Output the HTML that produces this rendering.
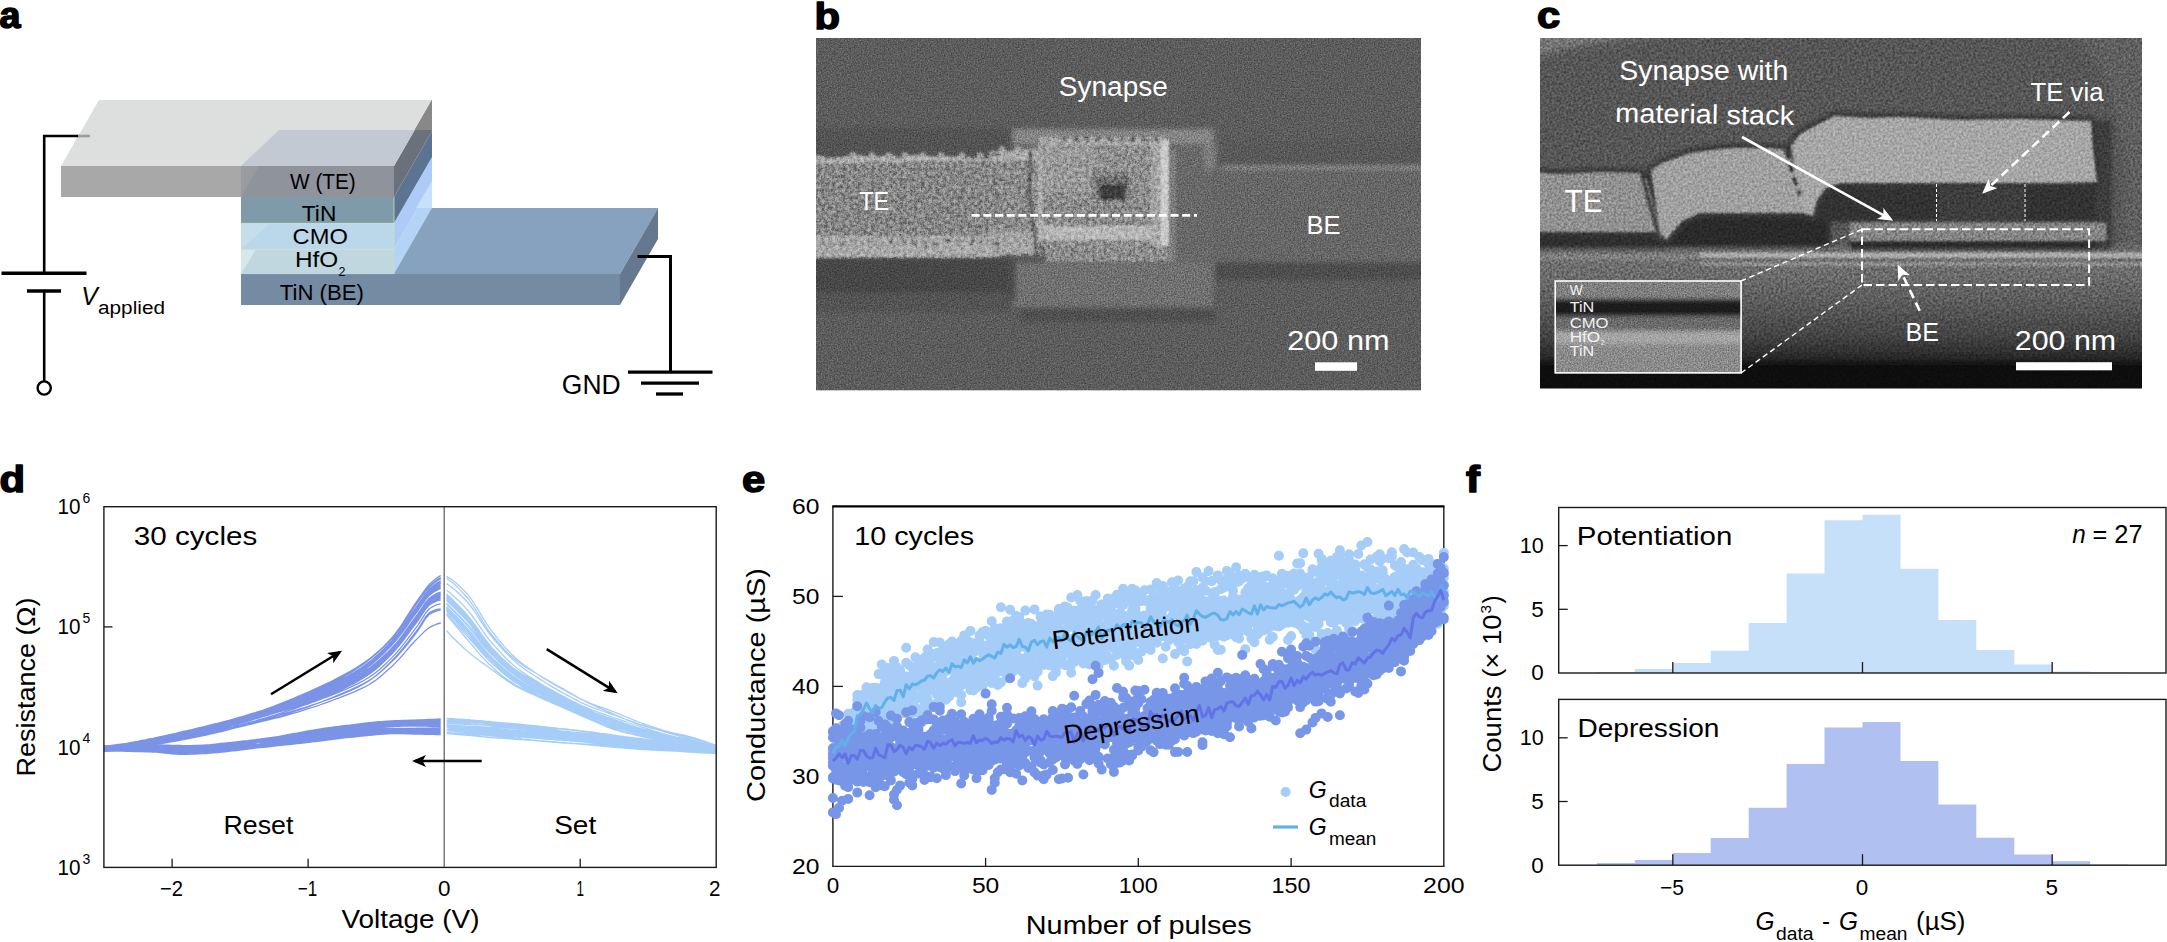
<!DOCTYPE html>
<html lang="en"><head><meta charset="utf-8"><title>Figure</title>
<style>
html,body{margin:0;padding:0;background:#fff;}
body{width:2167px;height:942px;overflow:hidden;}
svg{display:block;font-family:"Liberation Sans", sans-serif;}
</style></head><body>
<svg width="2167" height="942" viewBox="0 0 2167 942">
<defs>
<filter id="blur1" x="-5%" y="-5%" width="110%" height="110%"><feGaussianBlur stdDeviation="1.3"/></filter>
<filter id="blur2" x="-5%" y="-5%" width="110%" height="110%"><feGaussianBlur stdDeviation="2.2"/></filter>
<filter id="blur4" x="-10%" y="-10%" width="120%" height="120%"><feGaussianBlur stdDeviation="4"/></filter>
<filter id="noiseB" x="0" y="0" width="100%" height="100%" color-interpolation-filters="sRGB">
<feTurbulence type="fractalNoise" baseFrequency="0.7" numOctaves="2" seed="4" result="n"/>
<feColorMatrix in="n" type="matrix" values="1.6 0 0 0 -0.3  1.6 0 0 0 -0.3  1.6 0 0 0 -0.3  0 0 0 0 1"/>
</filter>
<filter id="noiseC" x="0" y="0" width="100%" height="100%" color-interpolation-filters="sRGB">
<feTurbulence type="fractalNoise" baseFrequency="0.42" numOctaves="3" seed="9" result="n"/>
<feColorMatrix in="n" type="matrix" values="1.6 0 0 0 -0.3  1.6 0 0 0 -0.3  1.6 0 0 0 -0.3  0 0 0 0 1"/>
</filter>
<filter id="noiseM" x="0" y="0" width="100%" height="100%" color-interpolation-filters="sRGB">
<feTurbulence type="fractalNoise" baseFrequency="0.28" numOctaves="3" seed="17" result="n"/>
<feColorMatrix in="n" type="matrix" values="2.0 0 0 0 -0.44  2.0 0 0 0 -0.44  2.0 0 0 0 -0.44  0 0 0 0 1"/>
</filter>
<clipPath id="clipM"><path d="M816 156H990L992 150H1037V137H1169V262H1045V256H990L988 259H816Z"/></clipPath>
<clipPath id="clipB"><rect x="816" y="38" width="605" height="352.5"/></clipPath>
<clipPath id="clipC"><rect x="1540" y="38" width="602" height="350.5"/></clipPath>
<clipPath id="clipIn"><rect x="1555.5" y="281" width="185.5" height="92"/></clipPath>
<marker id="ahK" viewBox="0 0 14 12" refX="11" refY="6" markerWidth="14" markerHeight="12" markerUnits="userSpaceOnUse" orient="auto"><path d="M0 0L14 6L0 12L3.5 6Z" fill="#000"/></marker>
<marker id="ahW" viewBox="0 0 14 12" refX="11" refY="6" markerWidth="15" markerHeight="13" markerUnits="userSpaceOnUse" orient="auto"><path d="M0 0L14 6L0 12L3.5 6Z" fill="#fff"/></marker>
</defs>
<g id="panel-a">
<text transform="translate(-0.5 28.3) scale(1.02 1)" font-size="37" font-weight="bold" stroke="#000" stroke-width="1.5" stroke-linejoin="round">a</text>
<polygon points="420.0,208.0 658.0,208.0 620.0,274.0 382.0,274.0" fill="#87a2be"/>
<rect x="241.0" y="274.0" width="379.0" height="31.0" fill="#758ba4"/>
<polygon points="658.0,208.0 658.0,239.0 620.0,305.0 620.0,274.0" fill="#65788f"/>
<polygon points="394.0,249.0 432.0,183.0 432.0,208.0 394.0,274.0" fill="#b3d3f7"/>
<polygon points="394.0,223.0 432.0,157.0 432.0,183.0 394.0,249.0" fill="#aecbf7"/>
<polygon points="416.0,208.0 432.0,181.0 432.0,208.0" fill="#c6e1fc"/>
<polygon points="394.0,197.0 432.0,131.0 432.0,157.0 394.0,223.0" fill="#5c7391"/>
<rect x="241.0" y="197.0" width="153.0" height="26.3" fill="#7f9aa9"/>
<rect x="241.0" y="223.3" width="153.0" height="25.9" fill="#bbd8ea"/>
<rect x="241.0" y="249.2" width="153.0" height="24.9" fill="#c1d7df"/>
<polygon points="241.0,249.2 256.0,249.2 241.0,274.1" fill="#d6e8ea"/>
<polygon points="241.0,223.3 270.0,223.3 241.0,249.2" fill="#c4deec"/>
<line x1="394.0" y1="197.0" x2="394.0" y2="274.0" stroke="#c9e2b8" stroke-width="0.8"/>
<line x1="241.0" y1="223.3" x2="394.0" y2="223.3" stroke="#c5dcc6" stroke-width="0.7"/>
<line x1="241.0" y1="249.2" x2="394.0" y2="249.2" stroke="#c9dfd6" stroke-width="0.7"/>
<polygon points="99.0,100.0 432.0,100.0 394.0,166.0 61.0,166.0" fill="#dddfde"/>
<rect x="61.0" y="166.0" width="333.0" height="31.0" fill="#a8a8a8"/>
<polygon points="432.0,100.0 432.0,131.0 394.0,197.0 394.0,166.0" fill="#6b717b"/>
<polygon points="432.0,100.0 432.0,130.0 414.7,130.0" fill="#888888"/>
<polygon points="279.0,130.0 414.7,130.0 394.0,166.0 241.0,166.0" fill="#c3c9d2"/>
<rect x="241.0" y="166.0" width="153.0" height="31.3" fill="#8f939c"/>
<polygon points="241.0,197.3 259.0,166.0 241.0,166.0" fill="#9a9ba0"/>
<path d="M79 136H44.2V273" fill="none" stroke="#000" stroke-width="2.6"/>
<line x1="78.0" y1="136.0" x2="90.0" y2="136.0" stroke="#9d9d9d" stroke-width="2.6"/>
<line x1="1.5" y1="273.3" x2="86.5" y2="273.3" stroke="#000" stroke-width="3.4"/>
<line x1="27.0" y1="291.0" x2="61.0" y2="291.0" stroke="#000" stroke-width="3.4"/>
<line x1="44.2" y1="291.0" x2="44.2" y2="381.5" stroke="#000" stroke-width="2.6"/>
<circle cx="44.2" cy="388" r="6.6" fill="#fff" stroke="#000" stroke-width="2.4"/>
<path d="M637.5 256.5H670.5V372" fill="none" stroke="#000" stroke-width="3"/>
<line x1="628.0" y1="372.1" x2="712.5" y2="372.1" stroke="#000" stroke-width="3.3"/>
<line x1="641.0" y1="383.2" x2="699.0" y2="383.2" stroke="#000" stroke-width="3.3"/>
<line x1="656.0" y1="394.0" x2="683.0" y2="394.0" stroke="#000" stroke-width="3.3"/>
<text x="290.0" y="189.4" font-size="22" textLength="65.8" lengthAdjust="spacingAndGlyphs">W (TE)</text>
<text x="301.8" y="220.8" font-size="22" textLength="34.5" lengthAdjust="spacingAndGlyphs">TiN</text>
<text x="292.6" y="244.0" font-size="22" textLength="55.3" lengthAdjust="spacingAndGlyphs">CMO</text>
<text x="295.0" y="266.5" font-size="22" textLength="43.3" lengthAdjust="spacingAndGlyphs">HfO</text>
<text x="338.4" y="275.5" font-size="12.5" textLength="6.9" lengthAdjust="spacingAndGlyphs">2</text>
<text x="279.8" y="300.4" font-size="22" textLength="84.0" lengthAdjust="spacingAndGlyphs">TiN (BE)</text>
<text x="561.8" y="394.2" font-size="27" textLength="58.8" lengthAdjust="spacingAndGlyphs">GND</text>
<text x="81.2" y="305.2" font-size="26" textLength="16.5" lengthAdjust="spacingAndGlyphs" font-style="italic">V</text>
<text x="98.0" y="314.2" font-size="18" textLength="67.0" lengthAdjust="spacingAndGlyphs">applied</text>
</g>
<g id="panel-b">
<text transform="translate(814.5 28.5) scale(1.13 1)" font-size="37" font-weight="bold" stroke="#000" stroke-width="1.5" stroke-linejoin="round">b</text>
<g clip-path="url(#clipB)">
<rect x="816.0" y="38.0" width="605.0" height="352.5" fill="#5c5c5c"/>
<g filter="url(#blur2)">
<rect x="800.0" y="128.0" width="212.0" height="32.0" fill="#525252"/>
<rect x="800.0" y="258.0" width="240.0" height="34.0" fill="#474747"/>
<rect x="800.0" y="292.0" width="212.0" height="20.0" fill="#525252"/>
<rect x="1215.0" y="262.0" width="225.0" height="18.0" fill="#4e4e4e"/>
<rect x="1225.0" y="140.0" width="215.0" height="26.0" fill="#585858"/>
<rect x="1020.0" y="308.0" width="195.0" height="14.0" fill="#505050"/>
<rect x="1011.0" y="129.0" width="204.0" height="179.0" fill="#676767"/>
<rect x="1008.0" y="258.0" width="40.0" height="42.0" fill="#4e4e4e"/>
<rect x="1013.0" y="129.0" width="200.0" height="15.0" fill="#858585"/>
<rect x="1016.0" y="262.0" width="196.0" height="44.0" fill="#707070"/>
<rect x="1213.0" y="167.0" width="227.0" height="95.0" fill="#666666"/>
<rect x="1222.0" y="166.0" width="218.0" height="3.0" fill="#8e8e8e"/>
<rect x="1204.0" y="144.0" width="12.0" height="26.0" fill="#7c7c7c"/>
</g>
<g filter="url(#blur1)">
<rect x="800.0" y="158.0" width="192.0" height="100.0" fill="#818181"/>
<rect x="988.0" y="151.0" width="52.0" height="104.0" fill="#868686"/>
<path d="M800 160L806 154.4L818 155.2L830 158.0L842 156.9L854 154.5L866 156.2L878 156.4L890 154.8L902 157.7L914 154.6L926 156.0L938 156.6L950 156.2L962 156.9L974 157.7L986 158.8L998 155.4L1000 152L1036 148L1036 160L800 164Z" fill="#a6a6a6"/>
<circle cx="853" cy="155.5" r="3.3" fill="#a2a2a2"/>
<circle cx="872" cy="155.5" r="3.3" fill="#a2a2a2"/>
<circle cx="889" cy="155.5" r="3.3" fill="#a2a2a2"/>
<circle cx="905" cy="155.5" r="3.3" fill="#a2a2a2"/>
<circle cx="923" cy="155.5" r="3.3" fill="#a2a2a2"/>
<circle cx="941" cy="155.5" r="3.3" fill="#a2a2a2"/>
<circle cx="962" cy="155.5" r="3.3" fill="#a2a2a2"/>
<circle cx="980" cy="155.5" r="3.3" fill="#a2a2a2"/>
<circle cx="1002" cy="149.5" r="3.3" fill="#a2a2a2"/>
<circle cx="1018" cy="149.5" r="3.3" fill="#a2a2a2"/>
<rect x="800.0" y="236.0" width="200.0" height="21.0" fill="#a4a4a4"/>
<rect x="990.0" y="232.0" width="46.0" height="22.0" fill="#a0a0a0"/>
<circle cx="823" cy="243" r="2.4" fill="#7e7e7e"/>
<circle cx="831" cy="245" r="2.4" fill="#7e7e7e"/>
<circle cx="844" cy="244" r="2.9" fill="#7e7e7e"/>
<circle cx="856" cy="244" r="2.0" fill="#7e7e7e"/>
<circle cx="869" cy="242" r="2.1" fill="#7e7e7e"/>
<circle cx="880" cy="245" r="2.3" fill="#7e7e7e"/>
<circle cx="892" cy="241" r="3.1" fill="#7e7e7e"/>
<circle cx="904" cy="241" r="3.2" fill="#7e7e7e"/>
<circle cx="915" cy="243" r="3.2" fill="#7e7e7e"/>
<circle cx="925" cy="244" r="3.3" fill="#7e7e7e"/>
<circle cx="935" cy="244" r="2.6" fill="#7e7e7e"/>
<circle cx="948" cy="241" r="3.0" fill="#7e7e7e"/>
<circle cx="959" cy="244" r="2.4" fill="#7e7e7e"/>
<circle cx="972" cy="242" r="2.9" fill="#7e7e7e"/>
<circle cx="981" cy="241" r="3.1" fill="#7e7e7e"/>
<circle cx="996" cy="243" r="3.4" fill="#7e7e7e"/>
<path d="M1031 150L1029 190L1034 232L1037 258" fill="none" stroke="#555" stroke-width="3"/>
<path d="M994 175L996 215" fill="none" stroke="#747474" stroke-width="3"/>
<rect x="1037.0" y="137.0" width="132.0" height="110.0" fill="#8a8a8a"/>
<rect x="1045.0" y="247.0" width="130.0" height="15.0" fill="#868686"/>
<rect x="1040.0" y="140.0" width="55.0" height="50.0" fill="#959595"/>
<rect x="1044.0" y="200.0" width="116.0" height="24.0" fill="#868686"/>
<rect x="1040.0" y="226.0" width="126.0" height="14.0" fill="#b4b4b4"/>
<rect x="1040.0" y="137.0" width="126.0" height="8.0" fill="#a2a2a2"/>
<rect x="1161.0" y="141.0" width="8.0" height="105.0" fill="#c9c9c9"/>
<rect x="1152.0" y="141.0" width="9.0" height="105.0" fill="#a4a4a4"/>
<rect x="1037.0" y="150.0" width="6.0" height="90.0" fill="#a5a5a5"/>
<circle cx="1064" cy="139" r="3" fill="#6d6d6d"/>
<circle cx="1076" cy="139" r="3" fill="#6d6d6d"/>
<circle cx="1087" cy="139" r="3" fill="#6d6d6d"/>
<circle cx="1098" cy="139" r="3" fill="#6d6d6d"/>
<circle cx="1110" cy="139" r="3" fill="#6d6d6d"/>
<circle cx="1122" cy="139" r="3" fill="#6d6d6d"/>
<circle cx="1133" cy="139" r="3" fill="#6d6d6d"/>
<circle cx="1144" cy="139" r="3" fill="#6d6d6d"/>
<circle cx="1156" cy="139" r="3" fill="#6d6d6d"/>
<rect x="1090.0" y="172.0" width="46.0" height="36.0" fill="#828282"/>
<path d="M1095 176L1129 176L1126 200L1099 200Z" fill="#666"/>
<rect x="1100.0" y="185.0" width="25.0" height="15.0" fill="#3a3a3a"/>
<rect x="1170.0" y="150.0" width="6.0" height="112.0" fill="#7e7e7e"/>
</g>
<rect x="816" y="130" width="360" height="135" clip-path="url(#clipM)" filter="url(#noiseM)" style="mix-blend-mode:overlay" opacity="0.27"/>
<rect x="816" y="38" width="605" height="353" filter="url(#noiseB)" style="mix-blend-mode:overlay" opacity="0.3"/>
</g>
<line x1="971.6" y1="215.3" x2="1197.0" y2="215.3" stroke="#fff" stroke-width="2.7" stroke-dasharray="8 3.7"/>
<rect x="1315.0" y="362.3" width="42.0" height="8.5" fill="#fff"/>
<text x="1058.8" y="95.6" font-size="27" textLength="109.0" lengthAdjust="spacingAndGlyphs" fill="#fff">Synapse</text>
<text x="859.2" y="209.6" font-size="26" textLength="30.0" lengthAdjust="spacingAndGlyphs" fill="#fff">TE</text>
<text x="1306.5" y="234.4" font-size="26" textLength="34.0" lengthAdjust="spacingAndGlyphs" fill="#fff">BE</text>
<text x="1287.2" y="349.9" font-size="27" textLength="102.3" lengthAdjust="spacingAndGlyphs" fill="#fff">200 nm</text>
</g>
<g id="panel-c">
<text transform="translate(1537 28.2) scale(1.13 1)" font-size="37" font-weight="bold" stroke="#000" stroke-width="1.5" stroke-linejoin="round">c</text>
<linearGradient id="gcBot" x1="0" y1="0" x2="0" y2="1">
<stop offset="0" stop-color="#727272"/><stop offset="0.25" stop-color="#606060"/>
<stop offset="0.55" stop-color="#444444"/><stop offset="0.72" stop-color="#282828"/>
<stop offset="0.785" stop-color="#0e0e0e"/><stop offset="1" stop-color="#090909"/></linearGradient>
<g clip-path="url(#clipC)">
<rect x="1540.0" y="38.0" width="602.0" height="350.5" fill="#565656"/>
<g filter="url(#blur4)">
<path d="M1530 30H1700C1640 38 1580 42 1530 58Z" fill="#777777"/>
<path d="M2150 30V260H2118C2128 200 2135 120 2085 45L2060 30Z" fill="#5e5e5e"/>
</g>
<g filter="url(#blur2)">
<rect x="1530.0" y="262.0" width="620.0" height="133.0" fill="url(#gcBot)"/>
<rect x="1530.0" y="246.0" width="620.0" height="32.0" fill="#6c6c6c"/>
<rect x="1530.0" y="255.0" width="160.0" height="7.0" fill="#777777"/>
<rect x="1530.0" y="231.0" width="138.0" height="18.0" fill="#2e2e2e"/>
<path d="M1662 246L1680 224L1700 214H1830V248H1662Z" fill="#2c2c2c"/>
<path d="M1813 222C1806 205 1815 190 1834 184H2100V222Z" fill="#303030"/>
<rect x="1937.0" y="186.0" width="88.0" height="35.0" fill="#3d3d3d"/>
<rect x="1850.0" y="240.0" width="258.0" height="10.0" fill="#2c2c2c"/>
<rect x="2096.0" y="120.0" width="16.0" height="130.0" fill="#3e3e3e"/>
<path d="M1530 172L1560 174L1600 172L1640 173L1647 180L1662 238L1655 232H1530Z" fill="none" stroke="#383838" stroke-width="9" stroke-linejoin="round"/>
<path d="M1651 170L1662 163L1690 153L1730 148L1770 148L1788 150L1796 175L1803 213L1700 213L1682 221L1666 240L1660 232Z" fill="none" stroke="#383838" stroke-width="9" stroke-linejoin="round"/>
<path d="M1791 146L1800 134L1834 116L1870 118L1900 117L1960 120L2020 119L2091 121L2093 150L2097 182L2060 183H1840L1826 188L1817 200L1813 216L1803 213L1797 185Z" fill="none" stroke="#383838" stroke-width="9" stroke-linejoin="round"/>
</g>
<g filter="url(#blur1)">
<path d="M1530 172L1560 174L1600 172L1640 173L1647 180L1662 238L1655 232H1530Z" fill="#909090"/>
<path d="M1651 170L1662 163L1690 153L1730 148L1770 148L1788 150L1796 175L1803 213L1700 213L1682 221L1666 240L1660 232Z" fill="#a0a0a0"/>
<path d="M1791 146L1800 134L1834 116L1870 118L1900 117L1960 120L2020 119L2091 121L2093 150L2097 182L2060 183H1840L1826 188L1817 200L1813 216L1803 213L1797 185Z" fill="#a6a6a6"/>
<path d="M1642 174L1650 205L1659 236" fill="none" stroke="#3c3c3c" stroke-width="4"/>
<path d="M1786 150L1793 175L1800 195" fill="none" stroke="#2c2c2c" stroke-width="4" stroke-dasharray="9 5"/>
<rect x="1700.0" y="252.5" width="450.0" height="5.5" fill="#acacac"/>
<rect x="1530.0" y="254.0" width="170.0" height="5.0" fill="#808080"/>
<rect x="1700.0" y="262.0" width="450.0" height="4.0" fill="#8e8e8e"/>
<rect x="1850.0" y="222.5" width="256.5" height="18.5" fill="#848484"/>
</g>
<rect x="1540" y="38" width="602" height="351" filter="url(#noiseC)" style="mix-blend-mode:overlay" opacity="0.3"/>
<g clip-path="url(#clipIn)"><g filter="url(#blur2)">
<rect x="1550.0" y="275.0" width="195.0" height="24.0" fill="#7f7f7f"/>
<rect x="1550.0" y="299.0" width="195.0" height="17.0" fill="#1e1e1e"/>
<rect x="1550.0" y="316.0" width="195.0" height="15.0" fill="#6a6a6a"/>
<rect x="1550.0" y="331.0" width="195.0" height="13.0" fill="#a4a4a4"/>
<rect x="1550.0" y="344.0" width="195.0" height="36.0" fill="#8a8a8a"/>
</g><rect x="1555" y="281" width="186" height="92" filter="url(#noiseB)" style="mix-blend-mode:overlay" opacity="0.3"/></g>
</g>
<rect x="1555.2" y="281" width="185.9" height="91.9" fill="none" stroke="#fff" stroke-width="1.6"/>
<line x1="1741.0" y1="281.0" x2="1862.0" y2="229.3" stroke="#fff" stroke-width="1.4" stroke-dasharray="5.5 3.5"/>
<line x1="1741.0" y1="373.0" x2="1862.0" y2="285.0" stroke="#fff" stroke-width="1.4" stroke-dasharray="5.5 3.5"/>
<rect x="1862" y="229.2" width="227.1" height="55.8" fill="none" stroke="#fff" stroke-width="2" stroke-dasharray="8.5 4"/>
<line x1="1936.5" y1="184.0" x2="1936.5" y2="221.0" stroke="#fff" stroke-width="1" stroke-dasharray="3 2"/>
<line x1="2025.0" y1="184.0" x2="2025.0" y2="221.0" stroke="#fff" stroke-width="1" stroke-dasharray="3 2"/>
<line x1="1742.0" y1="137.0" x2="1890.5" y2="219.2" stroke="#fff" stroke-width="2.6" marker-end="url(#ahW)"/>
<line x1="2069.5" y1="112.0" x2="1984.5" y2="191.5" stroke="#fff" stroke-width="2.6" stroke-dasharray="9 5" marker-end="url(#ahW)"/>
<line x1="1919.7" y1="310.8" x2="1899.0" y2="267.5" stroke="#fff" stroke-width="2.6" stroke-dasharray="9 5" marker-end="url(#ahW)"/>
<rect x="2016.0" y="362.2" width="96.0" height="8.1" fill="#fff"/>
<text x="1619.3" y="80.4" font-size="27" textLength="169.0" lengthAdjust="spacingAndGlyphs" fill="#fff">Synapse with</text>
<text x="1615.0" y="122.0" font-size="27" textLength="179.0" lengthAdjust="spacingAndGlyphs" fill="#fff" transform="rotate(1 1617 122)">material stack</text>
<text x="2030.5" y="100.8" font-size="26" textLength="73.0" lengthAdjust="spacingAndGlyphs" fill="#fff">TE via</text>
<text x="1564.6" y="211.7" font-size="32" textLength="38.0" lengthAdjust="spacingAndGlyphs" fill="#fff">TE</text>
<text x="1905.5" y="340.7" font-size="26" textLength="33.5" lengthAdjust="spacingAndGlyphs" fill="#fff">BE</text>
<text x="2014.8" y="349.5" font-size="27" textLength="101.3" lengthAdjust="spacingAndGlyphs" fill="#fff">200 nm</text>
<text x="1569.7" y="295.0" font-size="14.5" textLength="13.0" lengthAdjust="spacingAndGlyphs" fill="#f2f2f2">W</text>
<text x="1569.7" y="312.4" font-size="14.5" textLength="24.5" lengthAdjust="spacingAndGlyphs" fill="#f2f2f2">TiN</text>
<text x="1569.7" y="327.6" font-size="14.5" textLength="38.9" lengthAdjust="spacingAndGlyphs" fill="#f2f2f2">CMO</text>
<text x="1569.7" y="342.0" font-size="14.5" textLength="30.5" lengthAdjust="spacingAndGlyphs" fill="#f2f2f2">HfO</text>
<text x="1569.7" y="355.6" font-size="14.5" textLength="24.5" lengthAdjust="spacingAndGlyphs" fill="#f2f2f2">TiN</text>
<text x="1601.0" y="345.0" font-size="7" textLength="3.5" lengthAdjust="spacingAndGlyphs" fill="#f2f2f2">2</text>
</g>
<g id="panel-d">
<text transform="translate(-0.5 492.4) scale(1.13 1)" font-size="37" font-weight="bold" stroke="#000" stroke-width="1.5" stroke-linejoin="round">d</text>
<path d="M103.9 750.8L107.7 750.8L111.5 750.9L115.3 750.9L119.0 751.0L122.8 751.1L126.6 751.2L130.4 751.3L134.2 751.4L138.0 751.5L141.7 751.6L145.5 751.7L149.3 751.7L153.1 751.9L156.9 752.1L160.7 752.5L164.4 752.9L168.2 753.3L172.0 753.7L175.8 754.0L179.6 754.2L183.4 754.3L187.2 754.3L190.9 754.1L194.7 753.9L198.5 753.7L202.3 753.3L206.1 753.0L209.9 752.6L213.6 752.2L217.4 751.8L221.2 751.4L225.0 751.0L228.8 750.5L232.6 750.1L236.3 749.7L240.1 749.4L243.9 749.0L247.7 748.7L251.5 748.4L255.3 748.0L259.1 747.6L262.8 747.3L266.6 746.9L270.4 746.5L274.2 746.0L278.0 745.6L281.8 745.2L285.5 744.8L289.3 744.4L293.1 744.0L296.9 743.6L300.7 743.2L304.5 742.7L308.3 742.3L312.0 741.8L315.8 741.4L319.6 740.9L323.4 740.4L327.2 739.9L331.0 739.4L334.7 738.9L338.5 738.5L342.3 738.0L346.1 737.5L349.9 737.1L353.7 736.6L357.4 736.1L361.2 735.6L365.0 735.2L368.8 734.7L372.6 734.3L376.4 734.0L380.2 733.7L383.9 733.5L387.7 733.4L391.5 733.4L395.3 733.4L399.1 733.5L402.9 733.6L406.6 733.7L410.4 733.8L414.2 733.9L418.0 734.0L421.8 734.1L425.6 734.2L429.3 734.3L433.1 734.3L436.9 734.4L440.7 734.4M103.9 746.8L107.7 746.6L111.5 746.5L115.3 746.3L119.0 746.2L122.8 746.0L126.6 745.9L130.4 745.7L134.2 745.6L138.0 745.4L141.7 745.3L145.5 745.2L149.3 745.1L153.1 745.0L156.9 745.0L160.7 745.1L164.4 745.2L168.2 745.3L172.0 745.4L175.8 745.5L179.6 745.6L183.4 745.7L187.2 745.7L190.9 745.7L194.7 745.6L198.5 745.5L202.3 745.3L206.1 745.1L209.9 744.9L213.6 744.7L217.4 744.4L221.2 744.1L225.0 743.7L228.8 743.4L232.6 743.0L236.3 742.6L240.1 742.2L243.9 741.9L247.7 741.5L251.5 741.0L255.3 740.5L259.1 740.0L262.8 739.4L266.6 738.7L270.4 738.1L274.2 737.4L278.0 736.7L281.8 736.0L285.5 735.3L289.3 734.5L293.1 733.8L296.9 733.2L300.7 732.5L304.5 731.8L308.3 731.1L312.0 730.5L315.8 729.8L319.6 729.2L323.4 728.6L327.2 728.0L331.0 727.5L334.7 726.9L338.5 726.5L342.3 726.0L346.1 725.6L349.9 725.2L353.7 724.8L357.4 724.4L361.2 724.0L365.0 723.6L368.8 723.3L372.6 722.9L376.4 722.6L380.2 722.3L383.9 722.0L387.7 721.8L391.5 721.6L395.3 721.4L399.1 721.2L402.9 721.0L406.6 720.8L410.4 720.6L414.2 720.3L418.0 720.1L421.8 719.9L425.6 719.7L429.3 719.5L433.1 719.4L436.9 719.2L440.7 719.1M103.9 746.8L107.7 746.7L111.5 746.5L115.3 746.5L119.0 746.4L122.8 746.4L126.6 746.4L130.4 746.4L134.2 746.5L138.0 746.6L141.7 746.6L145.5 746.7L149.3 746.8L153.1 746.9L156.9 747.1L160.7 747.3L164.4 747.6L168.2 747.8L172.0 748.0L175.8 748.2L179.6 748.3L183.4 748.4L187.2 748.3L190.9 748.2L194.7 748.0L198.5 747.7L202.3 747.4L206.1 747.0L209.9 746.6L213.6 746.2L217.4 745.7L221.2 745.2L225.0 744.7L228.8 744.2L232.6 743.7L236.3 743.3L240.1 742.8L243.9 742.4L247.7 742.0L251.5 741.6L255.3 741.1L259.1 740.7L262.8 740.2L266.6 739.7L270.4 739.2L274.2 738.7L278.0 738.2L281.8 737.7L285.5 737.2L289.3 736.7L293.1 736.2L296.9 735.8L300.7 735.3L304.5 734.8L308.3 734.2L312.0 733.7L315.8 733.1L319.6 732.5L323.4 731.9L327.2 731.4L331.0 730.8L334.7 730.2L338.5 729.6L342.3 729.0L346.1 728.5L349.9 727.9L353.7 727.3L357.4 726.8L361.2 726.2L365.0 725.7L368.8 725.2L372.6 724.7L376.4 724.2L380.2 723.8L383.9 723.5L387.7 723.2L391.5 723.0L395.3 722.9L399.1 722.8L402.9 722.7L406.6 722.6L410.4 722.6L414.2 722.5L418.0 722.5L421.8 722.5L425.6 722.5L429.3 722.5L433.1 722.6L436.9 722.6L440.7 722.7M103.9 747.0L107.7 746.9L111.5 746.8L115.3 746.6L119.0 746.5L122.8 746.3L126.6 746.1L130.4 746.0L134.2 745.8L138.0 745.7L141.7 745.6L145.5 745.5L149.3 745.3L153.1 745.3L156.9 745.3L160.7 745.4L164.4 745.5L168.2 745.6L172.0 745.8L175.8 745.9L179.6 746.0L183.4 746.1L187.2 746.1L190.9 746.1L194.7 746.0L198.5 745.9L202.3 745.8L206.1 745.6L209.9 745.4L213.6 745.1L217.4 744.8L221.2 744.5L225.0 744.2L228.8 743.8L232.6 743.5L236.3 743.1L240.1 742.7L243.9 742.3L247.7 741.9L251.5 741.5L255.3 741.0L259.1 740.4L262.8 739.8L266.6 739.2L270.4 738.5L274.2 737.8L278.0 737.1L281.8 736.4L285.5 735.7L289.3 735.0L293.1 734.3L296.9 733.6L300.7 733.0L304.5 732.3L308.3 731.6L312.0 731.0L315.8 730.4L319.6 729.7L323.4 729.2L327.2 728.6L331.0 728.1L334.7 727.6L338.5 727.1L342.3 726.6L346.1 726.2L349.9 725.9L353.7 725.5L357.4 725.1L361.2 724.7L365.0 724.3L368.8 724.0L372.6 723.6L376.4 723.3L380.2 723.0L383.9 722.7L387.7 722.5L391.5 722.3L395.3 722.1L399.1 721.9L402.9 721.7L406.6 721.5L410.4 721.3L414.2 721.1L418.0 720.8L421.8 720.6L425.6 720.4L429.3 720.2L433.1 720.1L436.9 719.9L440.7 719.8M103.9 747.9L107.7 747.7L111.5 747.5L115.3 747.3L119.0 747.1L122.8 746.9L126.6 746.8L130.4 746.6L134.2 746.5L138.0 746.4L141.7 746.3L145.5 746.2L149.3 746.2L153.1 746.2L156.9 746.4L160.7 746.6L164.4 746.8L168.2 747.1L172.0 747.4L175.8 747.7L179.6 747.9L183.4 748.1L187.2 748.2L190.9 748.2L194.7 748.2L198.5 748.1L202.3 748.0L206.1 747.8L209.9 747.6L213.6 747.3L217.4 747.0L221.2 746.6L225.0 746.2L228.8 745.8L232.6 745.3L236.3 744.9L240.1 744.4L243.9 743.9L247.7 743.5L251.5 742.9L255.3 742.4L259.1 741.8L262.8 741.1L266.6 740.5L270.4 739.8L274.2 739.1L278.0 738.4L281.8 737.8L285.5 737.1L289.3 736.5L293.1 735.9L296.9 735.3L300.7 734.8L304.5 734.2L308.3 733.7L312.0 733.1L315.8 732.6L319.6 732.2L323.4 731.7L327.2 731.2L331.0 730.8L334.7 730.4L338.5 730.0L342.3 729.6L346.1 729.3L349.9 728.9L353.7 728.5L357.4 728.1L361.2 727.7L365.0 727.3L368.8 726.9L372.6 726.5L376.4 726.1L380.2 725.7L383.9 725.4L387.7 725.1L391.5 724.8L395.3 724.6L399.1 724.3L402.9 724.1L406.6 723.9L410.4 723.6L414.2 723.4L418.0 723.2L421.8 723.0L425.6 722.9L429.3 722.8L433.1 722.6L436.9 722.6L440.7 722.5M103.9 749.5L107.7 749.5L111.5 749.5L115.3 749.6L119.0 749.6L122.8 749.7L126.6 749.8L130.4 749.8L134.2 749.9L138.0 749.9L141.7 749.9L145.5 750.0L149.3 750.0L153.1 750.1L156.9 750.3L160.7 750.5L164.4 750.8L168.2 751.1L172.0 751.3L175.8 751.6L179.6 751.7L183.4 751.8L187.2 751.7L190.9 751.5L194.7 751.3L198.5 751.0L202.3 750.7L206.1 750.4L209.9 750.1L213.6 749.7L217.4 749.3L221.2 748.9L225.0 748.5L228.8 748.1L232.6 747.7L236.3 747.4L240.1 747.0L243.9 746.7L247.7 746.4L251.5 746.1L255.3 745.7L259.1 745.3L262.8 744.9L266.6 744.5L270.4 744.1L274.2 743.6L278.0 743.1L281.8 742.7L285.5 742.2L289.3 741.7L293.1 741.2L296.9 740.7L300.7 740.2L304.5 739.7L308.3 739.2L312.0 738.6L315.8 738.1L319.6 737.5L323.4 736.9L327.2 736.4L331.0 735.8L334.7 735.3L338.5 734.7L342.3 734.2L346.1 733.8L349.9 733.3L353.7 732.8L357.4 732.3L361.2 731.8L365.0 731.4L368.8 731.0L372.6 730.6L376.4 730.3L380.2 730.1L383.9 729.9L387.7 729.7L391.5 729.7L395.3 729.7L399.1 729.8L402.9 729.8L406.6 729.8L410.4 729.9L414.2 729.9L418.0 730.0L421.8 730.0L425.6 730.0L429.3 730.1L433.1 730.1L436.9 730.1L440.7 730.1M103.9 746.3L107.7 746.2L111.5 746.1L115.3 746.1L119.0 746.0L122.8 746.0L126.6 746.0L130.4 746.0L134.2 746.0L138.0 746.0L141.7 746.0L145.5 746.0L149.3 746.0L153.1 746.0L156.9 746.1L160.7 746.1L164.4 746.2L168.2 746.3L172.0 746.4L175.8 746.5L179.6 746.5L183.4 746.5L187.2 746.4L190.9 746.2L194.7 746.0L198.5 745.8L202.3 745.5L206.1 745.1L209.9 744.8L213.6 744.4L217.4 744.0L221.2 743.6L225.0 743.2L228.8 742.8L232.6 742.4L236.3 742.0L240.1 741.6L243.9 741.3L247.7 740.9L251.5 740.6L255.3 740.2L259.1 739.7L262.8 739.3L266.6 738.8L270.4 738.3L274.2 737.7L278.0 737.2L281.8 736.6L285.5 736.0L289.3 735.4L293.1 734.8L296.9 734.2L300.7 733.6L304.5 733.0L308.3 732.3L312.0 731.6L315.8 731.0L319.6 730.3L323.4 729.6L327.2 728.9L331.0 728.3L334.7 727.6L338.5 727.0L342.3 726.4L346.1 725.9L349.9 725.3L353.7 724.8L357.4 724.3L361.2 723.8L365.0 723.3L368.8 722.8L372.6 722.4L376.4 722.1L380.2 721.8L383.9 721.5L387.7 721.3L391.5 721.1L395.3 721.0L399.1 721.0L402.9 720.9L406.6 720.8L410.4 720.7L414.2 720.7L418.0 720.6L421.8 720.5L425.6 720.5L429.3 720.4L433.1 720.4L436.9 720.3L440.7 720.3M103.9 750.4L107.7 750.4L111.5 750.5L115.3 750.5L119.0 750.6L122.8 750.7L126.6 750.7L130.4 750.8L134.2 750.8L138.0 750.8L141.7 750.8L145.5 750.8L149.3 750.7L153.1 750.8L156.9 750.9L160.7 751.2L164.4 751.5L168.2 751.8L172.0 752.0L175.8 752.3L179.6 752.4L183.4 752.5L187.2 752.4L190.9 752.3L194.7 752.1L198.5 751.9L202.3 751.6L206.1 751.3L209.9 751.0L213.6 750.7L217.4 750.3L221.2 750.0L225.0 749.6L228.8 749.3L232.6 749.0L236.3 748.6L240.1 748.3L243.9 748.0L247.7 747.8L251.5 747.4L255.3 747.1L259.1 746.7L262.8 746.3L266.6 745.9L270.4 745.4L274.2 745.0L278.0 744.5L281.8 744.0L285.5 743.5L289.3 742.9L293.1 742.4L296.9 741.9L300.7 741.4L304.5 740.9L308.3 740.3L312.0 739.7L315.8 739.2L319.6 738.6L323.4 738.1L327.2 737.5L331.0 737.0L334.7 736.5L338.5 736.0L342.3 735.6L346.1 735.1L349.9 734.7L353.7 734.3L357.4 733.8L361.2 733.4L365.0 733.0L368.8 732.7L372.6 732.4L376.4 732.1L380.2 731.9L383.9 731.8L387.7 731.7L391.5 731.7L395.3 731.7L399.1 731.8L402.9 731.9L406.6 731.9L410.4 732.0L414.2 732.0L418.0 732.0L421.8 732.1L425.6 732.1L429.3 732.1L433.1 732.0L436.9 732.0L440.7 732.0M103.9 750.6L107.7 750.5L111.5 750.4L115.3 750.3L119.0 750.2L122.8 750.1L126.6 750.0L130.4 749.9L134.2 749.8L138.0 749.7L141.7 749.6L145.5 749.6L149.3 749.6L153.1 749.6L156.9 749.8L160.7 750.1L164.4 750.5L168.2 751.0L172.0 751.4L175.8 751.8L179.6 752.1L183.4 752.4L187.2 752.5L190.9 752.5L194.7 752.5L198.5 752.5L202.3 752.3L206.1 752.2L209.9 751.9L213.6 751.7L217.4 751.4L221.2 751.0L225.0 750.7L228.8 750.3L232.6 749.9L236.3 749.4L240.1 749.0L243.9 748.5L247.7 748.1L251.5 747.6L255.3 747.1L259.1 746.5L262.8 745.9L266.6 745.3L270.4 744.7L274.2 744.1L278.0 743.5L281.8 742.9L285.5 742.3L289.3 741.7L293.1 741.2L296.9 740.7L300.7 740.2L304.5 739.8L308.3 739.3L312.0 738.9L315.8 738.5L319.6 738.1L323.4 737.7L327.2 737.4L331.0 737.0L334.7 736.7L338.5 736.4L342.3 736.1L346.1 735.8L349.9 735.5L353.7 735.1L357.4 734.8L361.2 734.4L365.0 734.1L368.8 733.7L372.6 733.3L376.4 733.0L380.2 732.7L383.9 732.4L387.7 732.2L391.5 732.0L395.3 731.9L399.1 731.8L402.9 731.6L406.6 731.5L410.4 731.4L414.2 731.3L418.0 731.1L421.8 731.0L425.6 730.9L429.3 730.8L433.1 730.8L436.9 730.7L440.7 730.7M103.9 746.7L107.7 746.6L111.5 746.5L115.3 746.5L119.0 746.5L122.8 746.5L126.6 746.5L130.4 746.5L134.2 746.5L138.0 746.5L141.7 746.6L145.5 746.6L149.3 746.6L153.1 746.6L156.9 746.7L160.7 746.9L164.4 747.0L168.2 747.2L172.0 747.3L175.8 747.4L179.6 747.4L183.4 747.4L187.2 747.3L190.9 747.2L194.7 747.0L198.5 746.7L202.3 746.4L206.1 746.0L209.9 745.6L213.6 745.2L217.4 744.8L221.2 744.4L225.0 744.0L228.8 743.6L232.6 743.2L236.3 742.8L240.1 742.4L243.9 742.0L247.7 741.7L251.5 741.3L255.3 740.9L259.1 740.5L262.8 740.0L266.6 739.6L270.4 739.1L274.2 738.6L278.0 738.0L281.8 737.5L285.5 736.9L289.3 736.4L293.1 735.8L296.9 735.3L300.7 734.7L304.5 734.1L308.3 733.5L312.0 732.8L315.8 732.2L319.6 731.5L323.4 730.8L327.2 730.2L331.0 729.6L334.7 728.9L338.5 728.3L342.3 727.7L346.1 727.2L349.9 726.6L353.7 726.1L357.4 725.6L361.2 725.0L365.0 724.6L368.8 724.1L372.6 723.7L376.4 723.3L380.2 723.0L383.9 722.7L387.7 722.5L391.5 722.4L395.3 722.3L399.1 722.2L402.9 722.2L406.6 722.1L410.4 722.0L414.2 722.0L418.0 722.0L421.8 721.9L425.6 721.9L429.3 721.9L433.1 721.9L436.9 721.8L440.7 721.8M103.9 747.2L107.7 747.1L111.5 747.1L115.3 747.1L119.0 747.0L122.8 747.0L126.6 746.9L130.4 746.9L134.2 746.8L138.0 746.7L141.7 746.7L145.5 746.6L149.3 746.5L153.1 746.5L156.9 746.6L160.7 746.6L164.4 746.7L168.2 746.8L172.0 746.9L175.8 747.0L179.6 747.1L183.4 747.1L187.2 747.0L190.9 746.9L194.7 746.7L198.5 746.5L202.3 746.3L206.1 746.0L209.9 745.7L213.6 745.4L217.4 745.1L221.2 744.7L225.0 744.4L228.8 744.0L232.6 743.7L236.3 743.3L240.1 743.0L243.9 742.7L247.7 742.3L251.5 742.0L255.3 741.6L259.1 741.1L262.8 740.6L266.6 740.1L270.4 739.6L274.2 739.0L278.0 738.4L281.8 737.8L285.5 737.1L289.3 736.5L293.1 735.9L296.9 735.2L300.7 734.6L304.5 733.9L308.3 733.2L312.0 732.6L315.8 731.9L319.6 731.2L323.4 730.6L327.2 729.9L331.0 729.3L334.7 728.7L338.5 728.2L342.3 727.6L346.1 727.2L349.9 726.7L353.7 726.2L357.4 725.8L361.2 725.3L365.0 724.9L368.8 724.6L372.6 724.2L376.4 723.9L380.2 723.7L383.9 723.4L387.7 723.3L391.5 723.1L395.3 723.1L399.1 723.0L402.9 722.9L406.6 722.8L410.4 722.7L414.2 722.6L418.0 722.5L421.8 722.4L425.6 722.3L429.3 722.2L433.1 722.1L436.9 722.0L440.7 721.9M103.9 747.9L107.7 747.7L111.5 747.5L115.3 747.3L119.0 747.1L122.8 746.9L126.6 746.8L130.4 746.6L134.2 746.5L138.0 746.4L141.7 746.3L145.5 746.3L149.3 746.2L153.1 746.3L156.9 746.4L160.7 746.6L164.4 746.9L168.2 747.2L172.0 747.5L175.8 747.8L179.6 748.0L183.4 748.2L187.2 748.3L190.9 748.4L194.7 748.3L198.5 748.3L202.3 748.1L206.1 747.9L209.9 747.7L213.6 747.4L217.4 747.1L221.2 746.7L225.0 746.3L228.8 745.9L232.6 745.4L236.3 744.9L240.1 744.4L243.9 744.0L247.7 743.5L251.5 742.9L255.3 742.4L259.1 741.8L262.8 741.1L266.6 740.5L270.4 739.8L274.2 739.1L278.0 738.5L281.8 737.8L285.5 737.1L289.3 736.5L293.1 735.9L296.9 735.4L300.7 734.8L304.5 734.3L308.3 733.8L312.0 733.3L315.8 732.8L319.6 732.3L323.4 731.8L327.2 731.4L331.0 731.0L334.7 730.6L338.5 730.2L342.3 729.8L346.1 729.4L349.9 729.1L353.7 728.7L357.4 728.2L361.2 727.8L365.0 727.4L368.8 727.0L372.6 726.6L376.4 726.2L380.2 725.8L383.9 725.4L387.7 725.1L391.5 724.8L395.3 724.6L399.1 724.4L402.9 724.1L406.6 723.9L410.4 723.7L414.2 723.5L418.0 723.3L421.8 723.1L425.6 723.0L429.3 722.8L433.1 722.7L436.9 722.7L440.7 722.7M103.9 749.2L107.7 749.2L111.5 749.2L115.3 749.2L119.0 749.2L122.8 749.2L126.6 749.2L130.4 749.2L134.2 749.2L138.0 749.2L141.7 749.2L145.5 749.1L149.3 749.1L153.1 749.1L156.9 749.2L160.7 749.4L164.4 749.6L168.2 749.8L172.0 750.0L175.8 750.2L179.6 750.3L183.4 750.4L187.2 750.3L190.9 750.2L194.7 750.0L198.5 749.8L202.3 749.5L206.1 749.2L209.9 748.9L213.6 748.6L217.4 748.3L221.2 747.9L225.0 747.6L228.8 747.3L232.6 746.9L236.3 746.6L240.1 746.3L243.9 746.0L247.7 745.7L251.5 745.3L255.3 745.0L259.1 744.6L262.8 744.1L266.6 743.7L270.4 743.2L274.2 742.6L278.0 742.1L281.8 741.6L285.5 741.0L289.3 740.4L293.1 739.8L296.9 739.3L300.7 738.7L304.5 738.1L308.3 737.5L312.0 736.9L315.8 736.3L319.6 735.7L323.4 735.1L327.2 734.5L331.0 734.0L334.7 733.4L338.5 732.9L342.3 732.4L346.1 732.0L349.9 731.5L353.7 731.1L357.4 730.7L361.2 730.3L365.0 729.9L368.8 729.5L372.6 729.2L376.4 728.9L380.2 728.7L383.9 728.5L387.7 728.4L391.5 728.4L395.3 728.4L399.1 728.4L402.9 728.4L406.6 728.4L410.4 728.4L414.2 728.4L418.0 728.3L421.8 728.3L425.6 728.2L429.3 728.2L433.1 728.1L436.9 728.1L440.7 728.0M103.9 748.3L107.7 748.1L111.5 747.9L115.3 747.7L119.0 747.6L122.8 747.5L126.6 747.4L130.4 747.4L134.2 747.3L138.0 747.3L141.7 747.3L145.5 747.4L149.3 747.4L153.1 747.6L156.9 747.8L160.7 748.1L164.4 748.5L168.2 748.9L172.0 749.3L175.8 749.6L179.6 749.9L183.4 750.1L187.2 750.2L190.9 750.2L194.7 750.1L198.5 749.9L202.3 749.7L206.1 749.5L209.9 749.1L213.6 748.8L217.4 748.4L221.2 747.9L225.0 747.4L228.8 746.9L232.6 746.4L236.3 745.9L240.1 745.4L243.9 744.9L247.7 744.4L251.5 743.9L255.3 743.3L259.1 742.7L262.8 742.2L266.6 741.6L270.4 741.0L274.2 740.4L278.0 739.8L281.8 739.3L285.5 738.7L289.3 738.2L293.1 737.7L296.9 737.3L300.7 736.8L304.5 736.4L308.3 736.0L312.0 735.5L315.8 735.1L319.6 734.7L323.4 734.3L327.2 733.8L331.0 733.4L334.7 733.0L338.5 732.6L342.3 732.2L346.1 731.7L349.9 731.3L353.7 730.8L357.4 730.4L361.2 729.9L365.0 729.4L368.8 728.9L372.6 728.4L376.4 727.9L380.2 727.5L383.9 727.1L387.7 726.8L391.5 726.5L395.3 726.3L399.1 726.2L402.9 726.0L406.6 725.8L410.4 725.7L414.2 725.5L418.0 725.4L421.8 725.4L425.6 725.3L429.3 725.3L433.1 725.3L436.9 725.3L440.7 725.4M103.9 750.1L107.7 750.1L111.5 750.0L115.3 749.9L119.0 749.8L122.8 749.7L126.6 749.5L130.4 749.4L134.2 749.3L138.0 749.2L141.7 749.1L145.5 749.0L149.3 748.9L153.1 748.9L156.9 749.1L160.7 749.3L164.4 749.6L168.2 750.0L172.0 750.4L175.8 750.7L179.6 751.0L183.4 751.2L187.2 751.3L190.9 751.3L194.7 751.3L198.5 751.2L202.3 751.1L206.1 750.9L209.9 750.7L213.6 750.5L217.4 750.2L221.2 749.9L225.0 749.6L228.8 749.2L232.6 748.8L236.3 748.4L240.1 748.0L243.9 747.6L247.7 747.2L251.5 746.7L255.3 746.2L259.1 745.7L262.8 745.1L266.6 744.5L270.4 743.9L274.2 743.2L278.0 742.6L281.8 741.9L285.5 741.3L289.3 740.7L293.1 740.1L296.9 739.6L300.7 739.0L304.5 738.5L308.3 738.0L312.0 737.5L315.8 737.0L319.6 736.6L323.4 736.1L327.2 735.7L331.0 735.3L334.7 735.0L338.5 734.6L342.3 734.3L346.1 734.0L349.9 733.7L353.7 733.4L357.4 733.0L361.2 732.7L365.0 732.4L368.8 732.0L372.6 731.7L376.4 731.4L380.2 731.1L383.9 730.9L387.7 730.7L391.5 730.5L395.3 730.4L399.1 730.3L402.9 730.2L406.6 730.0L410.4 729.9L414.2 729.7L418.0 729.6L421.8 729.5L425.6 729.3L429.3 729.2L433.1 729.1L436.9 729.0L440.7 728.9M103.9 747.7L107.7 747.6L111.5 747.5L115.3 747.5L119.0 747.5L122.8 747.5L126.6 747.5L130.4 747.6L134.2 747.6L138.0 747.7L141.7 747.8L145.5 747.9L149.3 747.9L153.1 748.1L156.9 748.3L160.7 748.5L164.4 748.8L168.2 749.0L172.0 749.3L175.8 749.5L179.6 749.6L183.4 749.7L187.2 749.6L190.9 749.5L194.7 749.3L198.5 749.0L202.3 748.7L206.1 748.3L209.9 747.9L213.6 747.5L217.4 747.0L221.2 746.6L225.0 746.1L228.8 745.6L232.6 745.2L236.3 744.7L240.1 744.3L243.9 743.9L247.7 743.5L251.5 743.1L255.3 742.7L259.1 742.3L262.8 741.8L266.6 741.4L270.4 740.9L274.2 740.4L278.0 739.9L281.8 739.4L285.5 739.0L289.3 738.5L293.1 738.0L296.9 737.6L300.7 737.1L304.5 736.6L308.3 736.1L312.0 735.5L315.8 735.0L319.6 734.4L323.4 733.8L327.2 733.3L331.0 732.7L334.7 732.1L338.5 731.6L342.3 731.0L346.1 730.5L349.9 729.9L353.7 729.4L357.4 728.8L361.2 728.3L365.0 727.8L368.8 727.3L372.6 726.8L376.4 726.4L380.2 726.1L383.9 725.8L387.7 725.5L391.5 725.4L395.3 725.3L399.1 725.2L402.9 725.2L406.6 725.1L410.4 725.1L414.2 725.1L418.0 725.1L421.8 725.1L425.6 725.2L429.3 725.2L433.1 725.3L436.9 725.3L440.7 725.4M103.9 749.9L107.7 749.8L111.5 749.6L115.3 749.5L119.0 749.4L122.8 749.4L126.6 749.3L130.4 749.3L134.2 749.3L138.0 749.3L141.7 749.4L145.5 749.4L149.3 749.5L153.1 749.6L156.9 749.9L160.7 750.3L164.4 750.8L168.2 751.2L172.0 751.7L175.8 752.1L179.6 752.5L183.4 752.7L187.2 752.8L190.9 752.8L194.7 752.7L198.5 752.5L202.3 752.3L206.1 752.1L209.9 751.7L213.6 751.4L217.4 751.0L221.2 750.5L225.0 750.1L228.8 749.6L232.6 749.1L236.3 748.6L240.1 748.1L243.9 747.6L247.7 747.1L251.5 746.6L255.3 746.1L259.1 745.6L262.8 745.0L266.6 744.5L270.4 743.9L274.2 743.4L278.0 742.8L281.8 742.3L285.5 741.8L289.3 741.4L293.1 740.9L296.9 740.5L300.7 740.2L304.5 739.8L308.3 739.4L312.0 739.0L315.8 738.6L319.6 738.3L323.4 737.9L327.2 737.5L331.0 737.1L334.7 736.8L338.5 736.4L342.3 736.0L346.1 735.6L349.9 735.2L353.7 734.8L357.4 734.3L361.2 733.9L365.0 733.4L368.8 732.9L372.6 732.5L376.4 732.0L380.2 731.6L383.9 731.3L387.7 731.0L391.5 730.8L395.3 730.7L399.1 730.6L402.9 730.4L406.6 730.3L410.4 730.3L414.2 730.2L418.0 730.2L421.8 730.1L425.6 730.1L429.3 730.1L433.1 730.2L436.9 730.2L440.7 730.3M103.9 747.3L107.7 747.1L111.5 746.9L115.3 746.8L119.0 746.7L122.8 746.6L126.6 746.6L130.4 746.6L134.2 746.6L138.0 746.6L141.7 746.7L145.5 746.8L149.3 746.9L153.1 747.0L156.9 747.2L160.7 747.5L164.4 747.9L168.2 748.2L172.0 748.5L175.8 748.8L179.6 749.0L183.4 749.1L187.2 749.1L190.9 749.1L194.7 748.9L198.5 748.7L202.3 748.5L206.1 748.1L209.9 747.8L213.6 747.3L217.4 746.9L221.2 746.4L225.0 745.9L228.8 745.3L232.6 744.8L236.3 744.3L240.1 743.8L243.9 743.3L247.7 742.8L251.5 742.3L255.3 741.8L259.1 741.3L262.8 740.8L266.6 740.2L270.4 739.7L274.2 739.1L278.0 738.6L281.8 738.1L285.5 737.6L289.3 737.1L293.1 736.6L296.9 736.2L300.7 735.7L304.5 735.3L308.3 734.8L312.0 734.3L315.8 733.9L319.6 733.4L323.4 732.9L327.2 732.4L331.0 731.9L334.7 731.4L338.5 730.9L342.3 730.4L346.1 729.9L349.9 729.4L353.7 728.9L357.4 728.3L361.2 727.8L365.0 727.2L368.8 726.7L372.6 726.2L376.4 725.7L380.2 725.3L383.9 724.9L387.7 724.5L391.5 724.3L395.3 724.1L399.1 723.9L402.9 723.8L406.6 723.6L410.4 723.5L414.2 723.4L418.0 723.4L421.8 723.3L425.6 723.3L429.3 723.3L433.1 723.4L436.9 723.4L440.7 723.5M103.9 750.4L107.7 750.4L111.5 750.4L115.3 750.4L119.0 750.4L122.8 750.5L126.6 750.6L130.4 750.6L134.2 750.7L138.0 750.8L141.7 750.9L145.5 751.0L149.3 751.1L153.1 751.3L156.9 751.6L160.7 752.0L164.4 752.4L168.2 752.9L172.0 753.3L175.8 753.7L179.6 753.9L183.4 754.1L187.2 754.1L190.9 753.9L194.7 753.8L198.5 753.5L202.3 753.2L206.1 752.9L209.9 752.5L213.6 752.1L217.4 751.6L221.2 751.2L225.0 750.7L228.8 750.2L232.6 749.8L236.3 749.3L240.1 748.9L243.9 748.5L247.7 748.1L251.5 747.7L255.3 747.3L259.1 746.9L262.8 746.5L266.6 746.1L270.4 745.6L274.2 745.2L278.0 744.8L281.8 744.4L285.5 743.9L289.3 743.5L293.1 743.2L296.9 742.8L300.7 742.4L304.5 742.0L308.3 741.6L312.0 741.2L315.8 740.8L319.6 740.4L323.4 739.9L327.2 739.5L331.0 739.0L334.7 738.5L338.5 738.1L342.3 737.6L346.1 737.2L349.9 736.7L353.7 736.2L357.4 735.7L361.2 735.2L365.0 734.7L368.8 734.2L372.6 733.8L376.4 733.4L380.2 733.1L383.9 732.8L387.7 732.6L391.5 732.5L395.3 732.5L399.1 732.5L402.9 732.6L406.6 732.6L410.4 732.7L414.2 732.7L418.0 732.8L421.8 732.9L425.6 733.0L429.3 733.1L433.1 733.2L436.9 733.3L440.7 733.4M103.9 751.1L107.7 751.0L111.5 750.9L115.3 750.8L119.0 750.7L122.8 750.6L126.6 750.5L130.4 750.5L134.2 750.4L138.0 750.4L141.7 750.3L145.5 750.3L149.3 750.3L153.1 750.4L156.9 750.7L160.7 751.1L164.4 751.6L168.2 752.1L172.0 752.6L175.8 753.0L179.6 753.4L183.4 753.6L187.2 753.8L190.9 753.8L194.7 753.8L198.5 753.7L202.3 753.6L206.1 753.4L209.9 753.1L213.6 752.8L217.4 752.5L221.2 752.1L225.0 751.7L228.8 751.3L232.6 750.8L236.3 750.4L240.1 749.9L243.9 749.4L247.7 749.0L251.5 748.5L255.3 747.9L259.1 747.4L262.8 746.8L266.6 746.2L270.4 745.7L274.2 745.1L278.0 744.5L281.8 743.9L285.5 743.4L289.3 742.9L293.1 742.4L296.9 742.0L300.7 741.6L304.5 741.2L308.3 740.8L312.0 740.4L315.8 740.1L319.6 739.7L323.4 739.4L327.2 739.0L331.0 738.7L334.7 738.4L338.5 738.1L342.3 737.8L346.1 737.5L349.9 737.2L353.7 736.9L357.4 736.5L361.2 736.1L365.0 735.7L368.8 735.3L372.6 734.9L376.4 734.5L380.2 734.2L383.9 733.9L387.7 733.7L391.5 733.5L395.3 733.4L399.1 733.3L402.9 733.2L406.6 733.0L410.4 733.0L414.2 732.9L418.0 732.8L421.8 732.7L425.6 732.7L429.3 732.6L433.1 732.6L436.9 732.6L440.7 732.6M103.9 750.2L107.7 750.1L111.5 750.0L115.3 749.9L119.0 749.9L122.8 749.9L126.6 749.9L130.4 749.9L134.2 750.0L138.0 750.0L141.7 750.1L145.5 750.2L149.3 750.3L153.1 750.5L156.9 750.8L160.7 751.2L164.4 751.7L168.2 752.2L172.0 752.6L175.8 753.1L179.6 753.4L183.4 753.6L187.2 753.6L190.9 753.6L194.7 753.4L198.5 753.3L202.3 753.0L206.1 752.7L209.9 752.3L213.6 751.9L217.4 751.5L221.2 751.1L225.0 750.6L228.8 750.1L232.6 749.6L236.3 749.1L240.1 748.6L243.9 748.1L247.7 747.7L251.5 747.2L255.3 746.7L259.1 746.3L262.8 745.8L266.6 745.3L270.4 744.8L274.2 744.3L278.0 743.8L281.8 743.4L285.5 742.9L289.3 742.5L293.1 742.1L296.9 741.7L300.7 741.4L304.5 741.0L308.3 740.6L312.0 740.3L315.8 739.9L319.6 739.5L323.4 739.1L327.2 738.7L331.0 738.3L334.7 737.9L338.5 737.5L342.3 737.1L346.1 736.7L349.9 736.3L353.7 735.8L357.4 735.3L361.2 734.8L365.0 734.3L368.8 733.8L372.6 733.4L376.4 732.9L380.2 732.6L383.9 732.2L387.7 732.0L391.5 731.8L395.3 731.7L399.1 731.7L402.9 731.6L406.6 731.6L410.4 731.6L414.2 731.6L418.0 731.6L421.8 731.6L425.6 731.7L429.3 731.7L433.1 731.8L436.9 731.9L440.7 732.0M103.9 748.1L107.7 747.9L111.5 747.7L115.3 747.5L119.0 747.4L122.8 747.2L126.6 747.1L130.4 747.0L134.2 746.9L138.0 746.9L141.7 746.9L145.5 746.9L149.3 746.9L153.1 747.0L156.9 747.2L160.7 747.5L164.4 747.9L168.2 748.2L172.0 748.6L175.8 748.9L179.6 749.2L183.4 749.4L187.2 749.5L190.9 749.5L194.7 749.5L198.5 749.3L202.3 749.2L206.1 748.9L209.9 748.6L213.6 748.3L217.4 747.9L221.2 747.5L225.0 747.0L228.8 746.6L232.6 746.1L236.3 745.5L240.1 745.0L243.9 744.5L247.7 744.0L251.5 743.5L255.3 742.9L259.1 742.3L262.8 741.7L266.6 741.1L270.4 740.5L274.2 739.8L278.0 739.2L281.8 738.6L285.5 738.1L289.3 737.5L293.1 737.0L296.9 736.5L300.7 736.0L304.5 735.6L308.3 735.1L312.0 734.7L315.8 734.2L319.6 733.8L323.4 733.3L327.2 732.9L331.0 732.5L334.7 732.1L338.5 731.7L342.3 731.3L346.1 730.9L349.9 730.5L353.7 730.1L357.4 729.6L361.2 729.1L365.0 728.7L368.8 728.2L372.6 727.7L376.4 727.3L380.2 726.9L383.9 726.5L387.7 726.2L391.5 725.9L395.3 725.7L399.1 725.4L402.9 725.2L406.6 725.0L410.4 724.8L414.2 724.7L418.0 724.5L421.8 724.4L425.6 724.3L429.3 724.3L433.1 724.3L436.9 724.3L440.7 724.3M103.9 747.8L107.7 747.7L111.5 747.7L115.3 747.6L119.0 747.7L122.8 747.7L126.6 747.7L130.4 747.8L134.2 747.8L138.0 747.9L141.7 747.9L145.5 747.9L149.3 748.0L153.1 748.1L156.9 748.2L160.7 748.4L164.4 748.7L168.2 748.9L172.0 749.1L175.8 749.3L179.6 749.4L183.4 749.4L187.2 749.3L190.9 749.1L194.7 748.9L198.5 748.7L202.3 748.3L206.1 748.0L209.9 747.6L213.6 747.2L217.4 746.8L221.2 746.3L225.0 745.9L228.8 745.5L232.6 745.0L236.3 744.6L240.1 744.2L243.9 743.9L247.7 743.5L251.5 743.2L255.3 742.8L259.1 742.4L262.8 741.9L266.6 741.5L270.4 741.0L274.2 740.5L278.0 740.1L281.8 739.6L285.5 739.0L289.3 738.5L293.1 738.0L296.9 737.5L300.7 737.0L304.5 736.5L308.3 735.9L312.0 735.3L315.8 734.7L319.6 734.1L323.4 733.5L327.2 732.9L331.0 732.3L334.7 731.7L338.5 731.2L342.3 730.6L346.1 730.1L349.9 729.5L353.7 729.0L357.4 728.5L361.2 728.0L365.0 727.5L368.8 727.0L372.6 726.6L376.4 726.2L380.2 725.9L383.9 725.6L387.7 725.5L391.5 725.3L395.3 725.3L399.1 725.2L402.9 725.2L406.6 725.2L410.4 725.2L414.2 725.2L418.0 725.2L421.8 725.2L425.6 725.2L429.3 725.2L433.1 725.2L436.9 725.3L440.7 725.3M103.9 746.1L107.7 745.9L111.5 745.7L115.3 745.6L119.0 745.5L122.8 745.5L126.6 745.5L130.4 745.5L134.2 745.5L138.0 745.6L141.7 745.7L145.5 745.7L149.3 745.8L153.1 745.9L156.9 746.1L160.7 746.3L164.4 746.5L168.2 746.7L172.0 746.9L175.8 747.0L179.6 747.1L183.4 747.2L187.2 747.1L190.9 747.0L194.7 746.8L198.5 746.5L202.3 746.2L206.1 745.8L209.9 745.4L213.6 745.0L217.4 744.5L221.2 744.0L225.0 743.5L228.8 743.0L232.6 742.5L236.3 742.0L240.1 741.5L243.9 741.1L247.7 740.7L251.5 740.2L255.3 739.8L259.1 739.3L262.8 738.8L266.6 738.3L270.4 737.8L274.2 737.3L278.0 736.8L281.8 736.2L285.5 735.7L289.3 735.2L293.1 734.7L296.9 734.2L300.7 733.7L304.5 733.2L308.3 732.6L312.0 732.0L315.8 731.5L319.6 730.9L323.4 730.3L327.2 729.6L331.0 729.0L334.7 728.4L338.5 727.8L342.3 727.2L346.1 726.7L349.9 726.1L353.7 725.5L357.4 724.9L361.2 724.3L365.0 723.8L368.8 723.2L372.6 722.7L376.4 722.3L380.2 721.9L383.9 721.5L387.7 721.2L391.5 721.0L395.3 720.8L399.1 720.7L402.9 720.5L406.6 720.4L410.4 720.3L414.2 720.3L418.0 720.2L421.8 720.2L425.6 720.2L429.3 720.2L433.1 720.2L436.9 720.3L440.7 720.4M103.9 746.4L107.7 746.2L111.5 746.0L115.3 745.9L119.0 745.9L122.8 745.9L126.6 745.9L130.4 745.9L134.2 746.0L138.0 746.0L141.7 746.1L145.5 746.2L149.3 746.2L153.1 746.3L156.9 746.5L160.7 746.7L164.4 746.9L168.2 747.1L172.0 747.3L175.8 747.5L179.6 747.6L183.4 747.6L187.2 747.5L190.9 747.4L194.7 747.2L198.5 746.9L202.3 746.6L206.1 746.2L209.9 745.8L213.6 745.4L217.4 744.9L221.2 744.4L225.0 743.9L228.8 743.4L232.6 742.9L236.3 742.5L240.1 742.0L243.9 741.6L247.7 741.2L251.5 740.8L255.3 740.3L259.1 739.9L262.8 739.4L266.6 738.9L270.4 738.4L274.2 737.9L278.0 737.4L281.8 736.9L285.5 736.3L289.3 735.8L293.1 735.3L296.9 734.8L300.7 734.3L304.5 733.8L308.3 733.2L312.0 732.7L315.8 732.1L319.6 731.5L323.4 730.9L327.2 730.3L331.0 729.7L334.7 729.1L338.5 728.5L342.3 727.9L346.1 727.3L349.9 726.7L353.7 726.2L357.4 725.6L361.2 725.0L365.0 724.5L368.8 723.9L372.6 723.5L376.4 723.0L380.2 722.6L383.9 722.3L387.7 722.0L391.5 721.8L395.3 721.6L399.1 721.5L402.9 721.4L406.6 721.3L410.4 721.2L414.2 721.2L418.0 721.2L421.8 721.1L425.6 721.1L429.3 721.1L433.1 721.2L436.9 721.2L440.7 721.3M103.9 747.1L107.7 746.9L111.5 746.8L115.3 746.6L119.0 746.4L122.8 746.3L126.6 746.1L130.4 745.9L134.2 745.8L138.0 745.6L141.7 745.5L145.5 745.4L149.3 745.3L153.1 745.3L156.9 745.3L160.7 745.4L164.4 745.5L168.2 745.7L172.0 745.8L175.8 746.0L179.6 746.2L183.4 746.3L187.2 746.3L190.9 746.3L194.7 746.3L198.5 746.2L202.3 746.0L206.1 745.9L209.9 745.7L213.6 745.4L217.4 745.1L221.2 744.8L225.0 744.5L228.8 744.1L232.6 743.7L236.3 743.3L240.1 742.9L243.9 742.5L247.7 742.0L251.5 741.6L255.3 741.0L259.1 740.5L262.8 739.8L266.6 739.2L270.4 738.5L274.2 737.8L278.0 737.1L281.8 736.4L285.5 735.7L289.3 735.0L293.1 734.3L296.9 733.6L300.7 733.0L304.5 732.4L308.3 731.7L312.0 731.1L315.8 730.5L319.6 729.9L323.4 729.3L327.2 728.8L331.0 728.3L334.7 727.8L338.5 727.4L342.3 727.0L346.1 726.6L349.9 726.2L353.7 725.8L357.4 725.4L361.2 725.0L365.0 724.6L368.8 724.3L372.6 723.9L376.4 723.6L380.2 723.3L383.9 723.0L387.7 722.7L391.5 722.5L395.3 722.3L399.1 722.0L402.9 721.8L406.6 721.6L410.4 721.4L414.2 721.1L418.0 720.9L421.8 720.7L425.6 720.5L429.3 720.3L433.1 720.1L436.9 720.0L440.7 719.9M103.9 748.9L107.7 748.9L111.5 748.9L115.3 748.9L119.0 748.9L122.8 749.0L126.6 749.0L130.4 749.1L134.2 749.2L138.0 749.2L141.7 749.3L145.5 749.4L149.3 749.4L153.1 749.5L156.9 749.8L160.7 750.0L164.4 750.3L168.2 750.6L172.0 750.9L175.8 751.2L179.6 751.3L183.4 751.4L187.2 751.3L190.9 751.2L194.7 751.0L198.5 750.7L202.3 750.4L206.1 750.0L209.9 749.6L213.6 749.2L217.4 748.8L221.2 748.3L225.0 747.9L228.8 747.5L232.6 747.0L236.3 746.6L240.1 746.2L243.9 745.9L247.7 745.5L251.5 745.2L255.3 744.8L259.1 744.4L262.8 744.0L266.6 743.5L270.4 743.1L274.2 742.6L278.0 742.2L281.8 741.7L285.5 741.3L289.3 740.8L293.1 740.3L296.9 739.9L300.7 739.4L304.5 738.9L308.3 738.4L312.0 737.9L315.8 737.4L319.6 736.8L323.4 736.3L327.2 735.7L331.0 735.2L334.7 734.6L338.5 734.1L342.3 733.6L346.1 733.1L349.9 732.6L353.7 732.0L357.4 731.5L361.2 731.0L365.0 730.5L368.8 730.1L372.6 729.6L376.4 729.3L380.2 729.0L383.9 728.7L387.7 728.5L391.5 728.5L395.3 728.4L399.1 728.4L402.9 728.4L406.6 728.5L410.4 728.5L414.2 728.5L418.0 728.6L421.8 728.6L425.6 728.7L429.3 728.7L433.1 728.8L436.9 728.8L440.7 728.9M103.9 747.7L107.7 747.6L111.5 747.5L115.3 747.4L119.0 747.4L122.8 747.4L126.6 747.5L130.4 747.5L134.2 747.6L138.0 747.7L141.7 747.7L145.5 747.8L149.3 747.9L153.1 748.0L156.9 748.2L160.7 748.5L164.4 748.7L168.2 749.0L172.0 749.3L175.8 749.5L179.6 749.6L183.4 749.7L187.2 749.6L190.9 749.5L194.7 749.3L198.5 749.0L202.3 748.7L206.1 748.3L209.9 747.9L213.6 747.5L217.4 747.0L221.2 746.6L225.0 746.1L228.8 745.6L232.6 745.1L236.3 744.7L240.1 744.2L243.9 743.8L247.7 743.4L251.5 743.1L255.3 742.6L259.1 742.2L262.8 741.8L266.6 741.3L270.4 740.8L274.2 740.3L278.0 739.9L281.8 739.4L285.5 738.9L289.3 738.4L293.1 737.9L296.9 737.5L300.7 737.0L304.5 736.5L308.3 736.0L312.0 735.5L315.8 734.9L319.6 734.4L323.4 733.8L327.2 733.2L331.0 732.7L334.7 732.1L338.5 731.5L342.3 731.0L346.1 730.5L349.9 729.9L353.7 729.4L357.4 728.8L361.2 728.3L365.0 727.7L368.8 727.2L372.6 726.8L376.4 726.4L380.2 726.0L383.9 725.7L387.7 725.5L391.5 725.3L395.3 725.2L399.1 725.1L402.9 725.1L406.6 725.0L410.4 725.0L414.2 725.0L418.0 725.0L421.8 725.0L425.6 725.1L429.3 725.1L433.1 725.2L436.9 725.2L440.7 725.3M103.9 748.1L107.7 747.9L111.5 747.9L115.3 747.8L119.0 747.8L122.8 747.8L126.6 747.9L130.4 747.9L134.2 748.0L138.0 748.0L141.7 748.1L145.5 748.2L149.3 748.3L153.1 748.4L156.9 748.7L160.7 748.9L164.4 749.2L168.2 749.5L172.0 749.8L175.8 750.1L179.6 750.2L183.4 750.3L187.2 750.3L190.9 750.1L194.7 749.9L198.5 749.7L202.3 749.4L206.1 749.0L209.9 748.6L213.6 748.2L217.4 747.7L221.2 747.2L225.0 746.7L228.8 746.3L232.6 745.8L236.3 745.3L240.1 744.9L243.9 744.5L247.7 744.1L251.5 743.7L255.3 743.3L259.1 742.8L262.8 742.4L266.6 741.9L270.4 741.4L274.2 741.0L278.0 740.5L281.8 740.0L285.5 739.5L289.3 739.1L293.1 738.6L296.9 738.2L300.7 737.7L304.5 737.3L308.3 736.8L312.0 736.3L315.8 735.7L319.6 735.2L323.4 734.7L327.2 734.1L331.0 733.6L334.7 733.0L338.5 732.5L342.3 731.9L346.1 731.4L349.9 730.9L353.7 730.3L357.4 729.8L361.2 729.3L365.0 728.7L368.8 728.2L372.6 727.8L376.4 727.3L380.2 727.0L383.9 726.7L387.7 726.4L391.5 726.3L395.3 726.2L399.1 726.1L402.9 726.1L406.6 726.0L410.4 726.0L414.2 726.0L418.0 726.0L421.8 726.1L425.6 726.1L429.3 726.2L433.1 726.2L436.9 726.3L440.7 726.4M103.9 747.3L107.7 747.1L111.5 747.0L115.3 746.9L119.0 746.9L122.8 746.9L126.6 746.9L130.4 746.9L134.2 747.0L138.0 747.1L141.7 747.1L145.5 747.2L149.3 747.3L153.1 747.4L156.9 747.6L160.7 747.9L164.4 748.2L168.2 748.5L172.0 748.7L175.8 748.9L179.6 749.1L183.4 749.1L187.2 749.1L190.9 749.0L194.7 748.8L198.5 748.5L202.3 748.2L206.1 747.8L209.9 747.4L213.6 747.0L217.4 746.5L221.2 746.0L225.0 745.6L228.8 745.1L232.6 744.6L236.3 744.1L240.1 743.6L243.9 743.2L247.7 742.8L251.5 742.4L255.3 741.9L259.1 741.5L262.8 741.0L266.6 740.5L270.4 740.0L274.2 739.5L278.0 739.0L281.8 738.5L285.5 738.0L289.3 737.6L293.1 737.1L296.9 736.6L300.7 736.2L304.5 735.7L308.3 735.2L312.0 734.7L315.8 734.1L319.6 733.6L323.4 733.0L327.2 732.4L331.0 731.9L334.7 731.3L338.5 730.8L342.3 730.2L346.1 729.7L349.9 729.1L353.7 728.6L357.4 728.0L361.2 727.4L365.0 726.9L368.8 726.4L372.6 725.9L376.4 725.5L380.2 725.1L383.9 724.7L387.7 724.5L391.5 724.3L395.3 724.1L399.1 724.0L402.9 724.0L406.6 723.9L410.4 723.8L414.2 723.8L418.0 723.8L421.8 723.8L425.6 723.8L429.3 723.8L433.1 723.9L436.9 724.0L440.7 724.0" fill="none" stroke="#7a93e6" stroke-width="1.5" stroke-linejoin="round"/>
<path d="M446.6 733.4L449.6 733.7L452.6 733.9L455.7 734.2L458.7 734.5L461.7 734.7L464.7 735.0L467.8 735.3L470.8 735.6L473.8 735.8L476.8 736.1L479.8 736.4L482.9 736.7L485.9 736.9L488.9 737.2L491.9 737.4L495.0 737.7L498.0 737.9L501.0 738.1L504.0 738.3L507.0 738.6L510.1 738.8L513.1 739.0L516.1 739.2L519.1 739.4L522.2 739.6L525.2 739.8L528.2 740.1L531.2 740.3L534.3 740.5L537.3 740.7L540.3 740.9L543.3 741.1L546.3 741.3L549.4 741.6L552.4 741.8L555.4 742.0L558.4 742.3L561.5 742.5L564.5 742.7L567.5 743.0L570.5 743.2L573.5 743.5L576.6 743.7L579.6 744.0L582.6 744.2L585.6 744.5L588.7 744.8L591.7 745.1L594.7 745.3L597.7 745.6L600.7 745.9L603.8 746.2L606.8 746.4L609.8 746.7L612.8 747.0L615.9 747.3L618.9 747.5L621.9 747.8L624.9 748.0L627.9 748.3L631.0 748.5L634.0 748.7L637.0 749.0L640.0 749.2L643.1 749.4L646.1 749.6L649.1 749.7L652.1 749.9L655.2 750.1L658.2 750.2L661.2 750.4L664.2 750.5L667.2 750.7L670.3 750.8L673.3 750.9L676.3 751.0L679.3 751.2L682.4 751.3L685.4 751.4L688.4 751.5L691.4 751.7L694.4 751.8L697.5 752.0L700.5 752.1L703.5 752.3L706.5 752.4L709.6 752.6L712.6 752.8L715.6 753.0M446.6 718.5L449.6 718.7L452.6 718.8L455.7 719.0L458.7 719.2L461.7 719.4L464.7 719.6L467.8 719.8L470.8 720.1L473.8 720.3L476.8 720.6L479.8 720.8L482.9 721.1L485.9 721.4L488.9 721.6L491.9 721.9L495.0 722.2L498.0 722.4L501.0 722.7L504.0 722.9L507.0 723.2L510.1 723.5L513.1 723.7L516.1 724.0L519.1 724.3L522.2 724.6L525.2 724.9L528.2 725.2L531.2 725.5L534.3 725.8L537.3 726.1L540.3 726.4L543.3 726.8L546.3 727.1L549.4 727.4L552.4 727.7L555.4 728.0L558.4 728.4L561.5 728.7L564.5 729.0L567.5 729.3L570.5 729.7L573.5 730.0L576.6 730.3L579.6 730.7L582.6 731.0L585.6 731.4L588.7 731.8L591.7 732.1L594.7 732.5L597.7 732.9L600.7 733.4L603.8 733.8L606.8 734.2L609.8 734.6L612.8 735.1L615.9 735.5L618.9 735.9L621.9 736.4L624.9 736.8L627.9 737.2L631.0 737.6L634.0 738.0L637.0 738.4L640.0 738.8L643.1 739.2L646.1 739.6L649.1 739.9L652.1 740.3L655.2 740.6L658.2 740.9L661.2 741.2L664.2 741.5L667.2 741.8L670.3 742.0L673.3 742.3L676.3 742.5L679.3 742.8L682.4 743.0L685.4 743.2L688.4 743.5L691.4 743.7L694.4 743.9L697.5 744.1L700.5 744.3L703.5 744.6L706.5 744.8L709.6 745.0L712.6 745.2L715.6 745.5M446.6 729.9L449.6 730.1L452.6 730.2L455.7 730.3L458.7 730.4L461.7 730.5L464.7 730.6L467.8 730.7L470.8 730.8L473.8 730.9L476.8 731.0L479.8 731.2L482.9 731.3L485.9 731.5L488.9 731.6L491.9 731.8L495.0 732.0L498.0 732.2L501.0 732.4L504.0 732.6L507.0 732.8L510.1 733.1L513.1 733.4L516.1 733.7L519.1 734.0L522.2 734.3L525.2 734.7L528.2 735.1L531.2 735.4L534.3 735.8L537.3 736.2L540.3 736.6L543.3 737.0L546.3 737.4L549.4 737.8L552.4 738.2L555.4 738.6L558.4 739.0L561.5 739.3L564.5 739.7L567.5 740.0L570.5 740.3L573.5 740.7L576.6 740.9L579.6 741.2L582.6 741.5L585.6 741.7L588.7 741.9L591.7 742.1L594.7 742.3L597.7 742.5L600.7 742.7L603.8 742.9L606.8 743.1L609.8 743.3L612.8 743.4L615.9 743.6L618.9 743.7L621.9 743.9L624.9 744.1L627.9 744.2L631.0 744.4L634.0 744.6L637.0 744.8L640.0 745.0L643.1 745.2L646.1 745.4L649.1 745.6L652.1 745.9L655.2 746.1L658.2 746.4L661.2 746.7L664.2 746.9L667.2 747.2L670.3 747.5L673.3 747.8L676.3 748.1L679.3 748.4L682.4 748.7L685.4 749.0L688.4 749.3L691.4 749.6L694.4 750.0L697.5 750.3L700.5 750.6L703.5 750.8L706.5 751.1L709.6 751.4L712.6 751.7L715.6 751.9M446.6 729.3L449.6 729.5L452.6 729.6L455.7 729.8L458.7 730.0L461.7 730.2L464.7 730.4L467.8 730.6L470.8 730.8L473.8 731.1L476.8 731.4L479.8 731.6L482.9 731.9L485.9 732.2L488.9 732.5L491.9 732.8L495.0 733.1L498.0 733.4L501.0 733.7L504.0 734.0L507.0 734.3L510.1 734.6L513.1 734.9L516.1 735.2L519.1 735.5L522.2 735.9L525.2 736.2L528.2 736.5L531.2 736.8L534.3 737.1L537.3 737.3L540.3 737.6L543.3 737.9L546.3 738.2L549.4 738.4L552.4 738.7L555.4 738.9L558.4 739.1L561.5 739.4L564.5 739.6L567.5 739.8L570.5 740.0L573.5 740.2L576.6 740.4L579.6 740.6L582.6 740.8L585.6 741.0L588.7 741.2L591.7 741.5L594.7 741.7L597.7 741.9L600.7 742.2L603.8 742.4L606.8 742.7L609.8 743.0L612.8 743.2L615.9 743.5L618.9 743.8L621.9 744.1L624.9 744.4L627.9 744.7L631.0 745.0L634.0 745.3L637.0 745.7L640.0 746.0L643.1 746.3L646.1 746.6L649.1 746.9L652.1 747.2L655.2 747.5L658.2 747.8L661.2 748.0L664.2 748.3L667.2 748.5L670.3 748.8L673.3 749.0L676.3 749.2L679.3 749.4L682.4 749.6L685.4 749.8L688.4 750.0L691.4 750.2L694.4 750.3L697.5 750.5L700.5 750.6L703.5 750.8L706.5 750.9L709.6 751.1L712.6 751.2L715.6 751.4M446.6 730.6L449.6 730.9L452.6 731.1L455.7 731.3L458.7 731.5L461.7 731.8L464.7 732.1L467.8 732.3L470.8 732.6L473.8 732.9L476.8 733.2L479.8 733.4L482.9 733.7L485.9 734.0L488.9 734.3L491.9 734.6L495.0 734.8L498.0 735.1L501.0 735.4L504.0 735.6L507.0 735.9L510.1 736.1L513.1 736.4L516.1 736.6L519.1 736.9L522.2 737.1L525.2 737.3L528.2 737.6L531.2 737.8L534.3 738.1L537.3 738.3L540.3 738.5L543.3 738.8L546.3 739.0L549.4 739.2L552.4 739.4L555.4 739.7L558.4 739.9L561.5 740.1L564.5 740.4L567.5 740.6L570.5 740.9L573.5 741.1L576.6 741.3L579.6 741.6L582.6 741.8L585.6 742.1L588.7 742.4L591.7 742.6L594.7 742.9L597.7 743.2L600.7 743.5L603.8 743.8L606.8 744.1L609.8 744.4L612.8 744.7L615.9 745.0L618.9 745.3L621.9 745.6L624.9 745.9L627.9 746.2L631.0 746.4L634.0 746.7L637.0 747.0L640.0 747.3L643.1 747.5L646.1 747.8L649.1 748.0L652.1 748.2L655.2 748.5L658.2 748.7L661.2 748.9L664.2 749.1L667.2 749.2L670.3 749.4L673.3 749.6L676.3 749.7L679.3 749.9L682.4 750.0L685.4 750.2L688.4 750.3L691.4 750.4L694.4 750.6L697.5 750.7L700.5 750.9L703.5 751.0L706.5 751.2L709.6 751.3L712.6 751.5L715.6 751.7M446.6 730.3L449.6 730.5L452.6 730.7L455.7 730.9L458.7 731.1L461.7 731.3L464.7 731.6L467.8 731.8L470.8 732.1L473.8 732.4L476.8 732.7L479.8 732.9L482.9 733.2L485.9 733.5L488.9 733.8L491.9 734.1L495.0 734.4L498.0 734.7L501.0 735.0L504.0 735.2L507.0 735.5L510.1 735.8L513.1 736.1L516.1 736.4L519.1 736.6L522.2 736.9L525.2 737.2L528.2 737.5L531.2 737.7L534.3 738.0L537.3 738.2L540.3 738.5L543.3 738.7L546.3 738.9L549.4 739.2L552.4 739.4L555.4 739.6L558.4 739.9L561.5 740.1L564.5 740.3L567.5 740.5L570.5 740.7L573.5 741.0L576.6 741.2L579.6 741.4L582.6 741.6L585.6 741.8L588.7 742.1L591.7 742.3L594.7 742.6L597.7 742.8L600.7 743.1L603.8 743.4L606.8 743.7L609.8 743.9L612.8 744.2L615.9 744.5L618.9 744.8L621.9 745.1L624.9 745.4L627.9 745.7L631.0 746.0L634.0 746.3L637.0 746.6L640.0 746.9L643.1 747.2L646.1 747.5L649.1 747.7L652.1 748.0L655.2 748.3L658.2 748.5L661.2 748.7L664.2 749.0L667.2 749.2L670.3 749.4L673.3 749.5L676.3 749.7L679.3 749.9L682.4 750.1L685.4 750.2L688.4 750.4L691.4 750.5L694.4 750.7L697.5 750.8L700.5 750.9L703.5 751.1L706.5 751.2L709.6 751.4L712.6 751.5L715.6 751.7M446.6 720.7L449.6 720.7L452.6 720.8L455.7 720.8L458.7 720.9L461.7 720.9L464.7 721.0L467.8 721.1L470.8 721.2L473.8 721.3L476.8 721.4L479.8 721.6L482.9 721.7L485.9 721.9L488.9 722.0L491.9 722.2L495.0 722.5L498.0 722.7L501.0 722.9L504.0 723.2L507.0 723.4L510.1 723.8L513.1 724.1L516.1 724.4L519.1 724.8L522.2 725.2L525.2 725.6L528.2 726.0L531.2 726.5L534.3 726.9L537.3 727.4L540.3 727.8L543.3 728.3L546.3 728.7L549.4 729.2L552.4 729.6L555.4 730.0L558.4 730.5L561.5 730.9L564.5 731.3L567.5 731.6L570.5 732.0L573.5 732.3L576.6 732.7L579.6 733.0L582.6 733.3L585.6 733.6L588.7 733.8L591.7 734.1L594.7 734.4L597.7 734.7L600.7 734.9L603.8 735.2L606.8 735.5L609.8 735.7L612.8 736.0L615.9 736.3L618.9 736.5L621.9 736.8L624.9 737.1L627.9 737.4L631.0 737.7L634.0 738.0L637.0 738.3L640.0 738.6L643.1 739.0L646.1 739.3L649.1 739.7L652.1 740.0L655.2 740.4L658.2 740.7L661.2 741.1L664.2 741.5L667.2 741.8L670.3 742.2L673.3 742.6L676.3 743.0L679.3 743.4L682.4 743.7L685.4 744.1L688.4 744.4L691.4 744.8L694.4 745.1L697.5 745.5L700.5 745.8L703.5 746.1L706.5 746.4L709.6 746.7L712.6 747.0L715.6 747.3M446.6 727.3L449.6 727.5L452.6 727.8L455.7 728.0L458.7 728.2L461.7 728.5L464.7 728.7L467.8 729.0L470.8 729.2L473.8 729.5L476.8 729.8L479.8 730.0L482.9 730.3L485.9 730.6L488.9 730.8L491.9 731.1L495.0 731.3L498.0 731.6L501.0 731.8L504.0 732.0L507.0 732.3L510.1 732.5L513.1 732.7L516.1 733.0L519.1 733.2L522.2 733.4L525.2 733.7L528.2 733.9L531.2 734.2L534.3 734.4L537.3 734.6L540.3 734.9L543.3 735.2L546.3 735.4L549.4 735.7L552.4 735.9L555.4 736.2L558.4 736.5L561.5 736.8L564.5 737.1L567.5 737.3L570.5 737.6L573.5 737.9L576.6 738.2L579.6 738.5L582.6 738.8L585.6 739.1L588.7 739.4L591.7 739.8L594.7 740.1L597.7 740.4L600.7 740.8L603.8 741.1L606.8 741.5L609.8 741.8L612.8 742.1L615.9 742.5L618.9 742.8L621.9 743.1L624.9 743.5L627.9 743.8L631.0 744.1L634.0 744.4L637.0 744.7L640.0 744.9L643.1 745.2L646.1 745.5L649.1 745.7L652.1 745.9L655.2 746.2L658.2 746.4L661.2 746.6L664.2 746.8L667.2 747.0L670.3 747.2L673.3 747.3L676.3 747.5L679.3 747.7L682.4 747.8L685.4 748.0L688.4 748.2L691.4 748.3L694.4 748.5L697.5 748.7L700.5 748.9L703.5 749.0L706.5 749.2L709.6 749.4L712.6 749.7L715.6 749.9M446.6 725.1L449.6 725.2L452.6 725.4L455.7 725.5L458.7 725.7L461.7 725.9L464.7 726.1L467.8 726.4L470.8 726.6L473.8 726.9L476.8 727.1L479.8 727.4L482.9 727.7L485.9 728.0L488.9 728.3L491.9 728.6L495.0 728.8L498.0 729.1L501.0 729.4L504.0 729.7L507.0 730.0L510.1 730.3L513.1 730.6L516.1 730.9L519.1 731.2L522.2 731.5L525.2 731.8L528.2 732.1L531.2 732.4L534.3 732.7L537.3 733.0L540.3 733.3L543.3 733.6L546.3 733.9L549.4 734.2L552.4 734.4L555.4 734.7L558.4 735.0L561.5 735.2L564.5 735.5L567.5 735.7L570.5 736.0L573.5 736.2L576.6 736.5L579.6 736.7L582.6 737.0L585.6 737.3L588.7 737.5L591.7 737.8L594.7 738.1L597.7 738.4L600.7 738.7L603.8 739.0L606.8 739.4L609.8 739.7L612.8 740.0L615.9 740.4L618.9 740.7L621.9 741.1L624.9 741.4L627.9 741.8L631.0 742.1L634.0 742.5L637.0 742.9L640.0 743.2L643.1 743.5L646.1 743.9L649.1 744.2L652.1 744.5L655.2 744.8L658.2 745.1L661.2 745.4L664.2 745.7L667.2 745.9L670.3 746.2L673.3 746.4L676.3 746.7L679.3 746.9L682.4 747.1L685.4 747.3L688.4 747.5L691.4 747.7L694.4 747.9L697.5 748.0L700.5 748.2L703.5 748.4L706.5 748.5L709.6 748.7L712.6 748.9L715.6 749.1M446.6 727.9L449.6 728.1L452.6 728.3L455.7 728.6L458.7 728.8L461.7 729.1L464.7 729.3L467.8 729.6L470.8 729.8L473.8 730.0L476.8 730.3L479.8 730.5L482.9 730.7L485.9 731.0L488.9 731.2L491.9 731.4L495.0 731.6L498.0 731.8L501.0 732.0L504.0 732.1L507.0 732.3L510.1 732.5L513.1 732.7L516.1 732.9L519.1 733.1L522.2 733.4L525.2 733.6L528.2 733.8L531.2 734.1L534.3 734.3L537.3 734.6L540.3 734.8L543.3 735.1L546.3 735.4L549.4 735.7L552.4 736.0L555.4 736.3L558.4 736.6L561.5 736.9L564.5 737.3L567.5 737.6L570.5 737.9L573.5 738.3L576.6 738.6L579.6 738.9L582.6 739.3L585.6 739.6L588.7 739.9L591.7 740.3L594.7 740.6L597.7 741.0L600.7 741.3L603.8 741.7L606.8 742.0L609.8 742.3L612.8 742.7L615.9 743.0L618.9 743.3L621.9 743.6L624.9 743.8L627.9 744.1L631.0 744.4L634.0 744.6L637.0 744.9L640.0 745.1L643.1 745.3L646.1 745.5L649.1 745.7L652.1 745.9L655.2 746.1L658.2 746.3L661.2 746.5L664.2 746.6L667.2 746.8L670.3 747.0L673.3 747.1L676.3 747.3L679.3 747.5L682.4 747.7L685.4 747.8L688.4 748.0L691.4 748.2L694.4 748.4L697.5 748.6L700.5 748.8L703.5 749.1L706.5 749.3L709.6 749.6L712.6 749.8L715.6 750.1M446.6 727.2L449.6 727.3L452.6 727.4L455.7 727.5L458.7 727.6L461.7 727.7L464.7 727.8L467.8 728.0L470.8 728.1L473.8 728.3L476.8 728.5L479.8 728.7L482.9 728.9L485.9 729.1L488.9 729.4L491.9 729.6L495.0 729.9L498.0 730.2L501.0 730.5L504.0 730.8L507.0 731.1L510.1 731.4L513.1 731.8L516.1 732.1L519.1 732.5L522.2 732.9L525.2 733.3L528.2 733.6L531.2 734.0L534.3 734.4L537.3 734.8L540.3 735.1L543.3 735.5L546.3 735.9L549.4 736.2L552.4 736.5L555.4 736.8L558.4 737.1L561.5 737.4L564.5 737.7L567.5 738.0L570.5 738.2L573.5 738.5L576.6 738.7L579.6 738.9L582.6 739.1L585.6 739.3L588.7 739.5L591.7 739.7L594.7 739.9L597.7 740.1L600.7 740.3L603.8 740.5L606.8 740.7L609.8 741.0L612.8 741.2L615.9 741.4L618.9 741.7L621.9 741.9L624.9 742.2L627.9 742.5L631.0 742.8L634.0 743.1L637.0 743.4L640.0 743.7L643.1 744.0L646.1 744.3L649.1 744.6L652.1 745.0L655.2 745.3L658.2 745.6L661.2 746.0L664.2 746.3L667.2 746.6L670.3 746.9L673.3 747.2L676.3 747.6L679.3 747.9L682.4 748.1L685.4 748.4L688.4 748.7L691.4 749.0L694.4 749.2L697.5 749.4L700.5 749.7L703.5 749.9L706.5 750.1L709.6 750.3L712.6 750.5L715.6 750.6M446.6 727.6L449.6 727.8L452.6 728.0L455.7 728.2L458.7 728.4L461.7 728.7L464.7 728.9L467.8 729.2L470.8 729.4L473.8 729.7L476.8 730.0L479.8 730.3L482.9 730.5L485.9 730.8L488.9 731.1L491.9 731.4L495.0 731.7L498.0 731.9L501.0 732.2L504.0 732.5L507.0 732.7L510.1 733.0L513.1 733.3L516.1 733.5L519.1 733.8L522.2 734.1L525.2 734.4L528.2 734.6L531.2 734.9L534.3 735.1L537.3 735.4L540.3 735.7L543.3 735.9L546.3 736.2L549.4 736.4L552.4 736.7L555.4 736.9L558.4 737.2L561.5 737.4L564.5 737.7L567.5 737.9L570.5 738.2L573.5 738.4L576.6 738.7L579.6 738.9L582.6 739.2L585.6 739.4L588.7 739.7L591.7 740.0L594.7 740.3L597.7 740.6L600.7 740.9L603.8 741.2L606.8 741.6L609.8 741.9L612.8 742.2L615.9 742.5L618.9 742.9L621.9 743.2L624.9 743.5L627.9 743.9L631.0 744.2L634.0 744.5L637.0 744.8L640.0 745.1L643.1 745.4L646.1 745.7L649.1 746.0L652.1 746.3L655.2 746.5L658.2 746.8L661.2 747.0L664.2 747.2L667.2 747.4L670.3 747.7L673.3 747.8L676.3 748.0L679.3 748.2L682.4 748.4L685.4 748.6L688.4 748.7L691.4 748.9L694.4 749.0L697.5 749.2L700.5 749.4L703.5 749.5L706.5 749.7L709.6 749.9L712.6 750.0L715.6 750.2M446.6 729.9L449.6 730.1L452.6 730.4L455.7 730.6L458.7 730.9L461.7 731.1L464.7 731.4L467.8 731.6L470.8 731.9L473.8 732.1L476.8 732.4L479.8 732.6L482.9 732.8L485.9 733.0L488.9 733.3L491.9 733.5L495.0 733.7L498.0 733.9L501.0 734.1L504.0 734.3L507.0 734.4L510.1 734.6L513.1 734.8L516.1 735.0L519.1 735.2L522.2 735.4L525.2 735.7L528.2 735.9L531.2 736.1L534.3 736.4L537.3 736.6L540.3 736.9L543.3 737.1L546.3 737.4L549.4 737.7L552.4 737.9L555.4 738.2L558.4 738.5L561.5 738.8L564.5 739.2L567.5 739.5L570.5 739.8L573.5 740.1L576.6 740.4L579.6 740.7L582.6 741.1L585.6 741.4L588.7 741.7L591.7 742.0L594.7 742.4L597.7 742.7L600.7 743.0L603.8 743.3L606.8 743.6L609.8 743.9L612.8 744.2L615.9 744.5L618.9 744.8L621.9 745.1L624.9 745.3L627.9 745.6L631.0 745.8L634.0 746.1L637.0 746.3L640.0 746.5L643.1 746.7L646.1 746.9L649.1 747.1L652.1 747.3L655.2 747.4L658.2 747.6L661.2 747.7L664.2 747.9L667.2 748.1L670.3 748.2L673.3 748.4L676.3 748.5L679.3 748.7L682.4 748.8L685.4 749.0L688.4 749.2L691.4 749.3L694.4 749.5L697.5 749.7L700.5 749.9L703.5 750.2L706.5 750.4L709.6 750.6L712.6 750.9L715.6 751.1M446.6 726.6L449.6 726.7L452.6 726.8L455.7 726.8L458.7 726.9L461.7 727.0L464.7 727.2L467.8 727.3L470.8 727.4L473.8 727.6L476.8 727.8L479.8 728.0L482.9 728.2L485.9 728.4L488.9 728.6L491.9 728.9L495.0 729.2L498.0 729.4L501.0 729.7L504.0 730.0L507.0 730.3L510.1 730.7L513.1 731.0L516.1 731.4L519.1 731.7L522.2 732.1L525.2 732.5L528.2 732.9L531.2 733.3L534.3 733.7L537.3 734.1L540.3 734.4L543.3 734.8L546.3 735.2L549.4 735.5L552.4 735.9L555.4 736.2L558.4 736.5L561.5 736.8L564.5 737.1L567.5 737.4L570.5 737.7L573.5 737.9L576.6 738.1L579.6 738.4L582.6 738.6L585.6 738.8L588.7 739.0L591.7 739.2L594.7 739.4L597.7 739.6L600.7 739.8L603.8 740.0L606.8 740.2L609.8 740.5L612.8 740.7L615.9 740.9L618.9 741.2L621.9 741.4L624.9 741.7L627.9 742.0L631.0 742.3L634.0 742.5L637.0 742.8L640.0 743.2L643.1 743.5L646.1 743.8L649.1 744.1L652.1 744.5L655.2 744.8L658.2 745.1L661.2 745.5L664.2 745.8L667.2 746.1L670.3 746.5L673.3 746.8L676.3 747.1L679.3 747.4L682.4 747.7L685.4 748.0L688.4 748.3L691.4 748.6L694.4 748.8L697.5 749.1L700.5 749.3L703.5 749.5L706.5 749.8L709.6 750.0L712.6 750.2L715.6 750.3M446.6 732.6L449.6 732.8L452.6 732.9L455.7 733.0L458.7 733.2L461.7 733.4L464.7 733.6L467.8 733.8L470.8 734.0L473.8 734.2L476.8 734.4L479.8 734.7L482.9 734.9L485.9 735.2L488.9 735.5L491.9 735.8L495.0 736.1L498.0 736.4L501.0 736.7L504.0 737.0L507.0 737.3L510.1 737.7L513.1 738.0L516.1 738.3L519.1 738.7L522.2 739.0L525.2 739.3L528.2 739.7L531.2 740.0L534.3 740.3L537.3 740.6L540.3 740.9L543.3 741.2L546.3 741.4L549.4 741.7L552.4 742.0L555.4 742.2L558.4 742.4L561.5 742.6L564.5 742.8L567.5 743.0L570.5 743.2L573.5 743.4L576.6 743.5L579.6 743.7L582.6 743.9L585.6 744.0L588.7 744.2L591.7 744.3L594.7 744.5L597.7 744.7L600.7 744.8L603.8 745.0L606.8 745.2L609.8 745.4L612.8 745.6L615.9 745.8L618.9 746.1L621.9 746.3L624.9 746.5L627.9 746.8L631.0 747.1L634.0 747.3L637.0 747.6L640.0 747.9L643.1 748.2L646.1 748.4L649.1 748.7L652.1 749.0L655.2 749.3L658.2 749.6L661.2 749.8L664.2 750.1L667.2 750.4L670.3 750.6L673.3 750.9L676.3 751.1L679.3 751.3L682.4 751.5L685.4 751.7L688.4 751.9L691.4 752.1L694.4 752.3L697.5 752.4L700.5 752.6L703.5 752.7L706.5 752.9L709.6 753.0L712.6 753.2L715.6 753.3M446.6 725.1L449.6 725.3L452.6 725.4L455.7 725.6L458.7 725.8L461.7 725.9L464.7 726.1L467.8 726.2L470.8 726.4L473.8 726.5L476.8 726.7L479.8 726.8L482.9 726.9L485.9 727.1L488.9 727.2L491.9 727.3L495.0 727.5L498.0 727.6L501.0 727.8L504.0 727.9L507.0 728.1L510.1 728.3L513.1 728.5L516.1 728.7L519.1 729.0L522.2 729.3L525.2 729.5L528.2 729.9L531.2 730.2L534.3 730.5L537.3 730.9L540.3 731.3L543.3 731.6L546.3 732.0L549.4 732.4L552.4 732.9L555.4 733.3L558.4 733.7L561.5 734.1L564.5 734.5L567.5 735.0L570.5 735.4L573.5 735.8L576.6 736.1L579.6 736.5L582.6 736.9L585.6 737.3L588.7 737.6L591.7 738.0L594.7 738.3L597.7 738.6L600.7 739.0L603.8 739.3L606.8 739.6L609.8 739.8L612.8 740.1L615.9 740.4L618.9 740.6L621.9 740.9L624.9 741.1L627.9 741.3L631.0 741.6L634.0 741.8L637.0 742.0L640.0 742.2L643.1 742.4L646.1 742.6L649.1 742.8L652.1 743.0L655.2 743.2L658.2 743.4L661.2 743.7L664.2 743.9L667.2 744.1L670.3 744.4L673.3 744.6L676.3 744.9L679.3 745.1L682.4 745.4L685.4 745.7L688.4 746.0L691.4 746.3L694.4 746.6L697.5 746.9L700.5 747.3L703.5 747.6L706.5 747.9L709.6 748.3L712.6 748.6L715.6 748.9M446.6 728.1L449.6 728.2L452.6 728.3L455.7 728.5L458.7 728.6L461.7 728.8L464.7 728.9L467.8 729.1L470.8 729.3L473.8 729.6L476.8 729.8L479.8 730.0L482.9 730.3L485.9 730.6L488.9 730.9L491.9 731.1L495.0 731.4L498.0 731.7L501.0 732.0L504.0 732.4L507.0 732.7L510.1 733.0L513.1 733.3L516.1 733.7L519.1 734.0L522.2 734.4L525.2 734.7L528.2 735.1L531.2 735.4L534.3 735.7L537.3 736.1L540.3 736.4L543.3 736.7L546.3 737.0L549.4 737.3L552.4 737.6L555.4 737.8L558.4 738.1L561.5 738.3L564.5 738.6L567.5 738.8L570.5 739.0L573.5 739.2L576.6 739.4L579.6 739.6L582.6 739.8L585.6 740.0L588.7 740.2L591.7 740.4L594.7 740.7L597.7 740.9L600.7 741.1L603.8 741.3L606.8 741.6L609.8 741.8L612.8 742.1L615.9 742.4L618.9 742.6L621.9 742.9L624.9 743.2L627.9 743.5L631.0 743.8L634.0 744.1L637.0 744.5L640.0 744.8L643.1 745.1L646.1 745.4L649.1 745.8L652.1 746.1L655.2 746.4L658.2 746.7L661.2 747.0L664.2 747.3L667.2 747.6L670.3 747.9L673.3 748.2L676.3 748.4L679.3 748.7L682.4 748.9L685.4 749.1L688.4 749.4L691.4 749.6L694.4 749.8L697.5 750.0L700.5 750.1L703.5 750.3L706.5 750.5L709.6 750.6L712.6 750.8L715.6 750.9M446.6 720.5L449.6 720.6L452.6 720.6L455.7 720.7L458.7 720.9L461.7 721.0L464.7 721.1L467.8 721.3L470.8 721.5L473.8 721.7L476.8 721.9L479.8 722.1L482.9 722.4L485.9 722.7L488.9 722.9L491.9 723.2L495.0 723.5L498.0 723.8L501.0 724.1L504.0 724.4L507.0 724.7L510.1 725.1L513.1 725.4L516.1 725.8L519.1 726.1L522.2 726.5L525.2 726.9L528.2 727.3L531.2 727.6L534.3 728.0L537.3 728.4L540.3 728.7L543.3 729.1L546.3 729.4L549.4 729.8L552.4 730.1L555.4 730.5L558.4 730.8L561.5 731.1L564.5 731.4L567.5 731.7L570.5 732.0L573.5 732.2L576.6 732.5L579.6 732.8L582.6 733.0L585.6 733.3L588.7 733.6L591.7 733.9L594.7 734.1L597.7 734.4L600.7 734.8L603.8 735.1L606.8 735.4L609.8 735.7L612.8 736.1L615.9 736.4L618.9 736.8L621.9 737.2L624.9 737.6L627.9 737.9L631.0 738.3L634.0 738.7L637.0 739.1L640.0 739.5L643.1 739.9L646.1 740.3L649.1 740.7L652.1 741.1L655.2 741.5L658.2 741.8L661.2 742.2L664.2 742.6L667.2 742.9L670.3 743.2L673.3 743.6L676.3 743.9L679.3 744.2L682.4 744.5L685.4 744.7L688.4 745.0L691.4 745.3L694.4 745.5L697.5 745.7L700.5 746.0L703.5 746.2L706.5 746.4L709.6 746.6L712.6 746.8L715.6 747.0M446.6 722.1L449.6 722.2L452.6 722.4L455.7 722.6L458.7 722.8L461.7 723.0L464.7 723.3L467.8 723.5L470.8 723.8L473.8 724.0L476.8 724.3L479.8 724.5L482.9 724.8L485.9 725.1L488.9 725.3L491.9 725.6L495.0 725.9L498.0 726.1L501.0 726.4L504.0 726.6L507.0 726.9L510.1 727.1L513.1 727.4L516.1 727.7L519.1 727.9L522.2 728.2L525.2 728.5L528.2 728.8L531.2 729.0L534.3 729.3L537.3 729.6L540.3 729.9L543.3 730.2L546.3 730.5L549.4 730.8L552.4 731.1L555.4 731.4L558.4 731.7L561.5 732.0L564.5 732.3L567.5 732.6L570.5 732.9L573.5 733.2L576.6 733.5L579.6 733.8L582.6 734.2L585.6 734.5L588.7 734.9L591.7 735.2L594.7 735.6L597.7 736.0L600.7 736.3L603.8 736.7L606.8 737.1L609.8 737.5L612.8 737.9L615.9 738.3L618.9 738.7L621.9 739.1L624.9 739.5L627.9 739.9L631.0 740.2L634.0 740.6L637.0 741.0L640.0 741.3L643.1 741.6L646.1 742.0L649.1 742.3L652.1 742.6L655.2 742.9L658.2 743.1L661.2 743.4L664.2 743.7L667.2 743.9L670.3 744.1L673.3 744.4L676.3 744.6L679.3 744.8L682.4 745.0L685.4 745.2L688.4 745.4L691.4 745.6L694.4 745.8L697.5 746.0L700.5 746.2L703.5 746.4L706.5 746.6L709.6 746.8L712.6 747.0L715.6 747.3M446.6 732.7L449.6 732.8L452.6 732.9L455.7 733.1L458.7 733.2L461.7 733.4L464.7 733.6L467.8 733.8L470.8 734.0L473.8 734.2L476.8 734.4L479.8 734.6L482.9 734.9L485.9 735.2L488.9 735.4L491.9 735.7L495.0 736.0L498.0 736.3L501.0 736.6L504.0 736.9L507.0 737.3L510.1 737.6L513.1 737.9L516.1 738.3L519.1 738.6L522.2 739.0L525.2 739.3L528.2 739.6L531.2 740.0L534.3 740.3L537.3 740.6L540.3 740.9L543.3 741.2L546.3 741.5L549.4 741.7L552.4 742.0L555.4 742.2L558.4 742.5L561.5 742.7L564.5 742.9L567.5 743.1L570.5 743.3L573.5 743.5L576.6 743.6L579.6 743.8L582.6 743.9L585.6 744.1L588.7 744.2L591.7 744.4L594.7 744.6L597.7 744.7L600.7 744.9L603.8 745.1L606.8 745.2L609.8 745.4L612.8 745.6L615.9 745.8L618.9 746.0L621.9 746.3L624.9 746.5L627.9 746.8L631.0 747.0L634.0 747.3L637.0 747.5L640.0 747.8L643.1 748.1L646.1 748.4L649.1 748.6L652.1 748.9L655.2 749.2L658.2 749.5L661.2 749.8L664.2 750.1L667.2 750.3L670.3 750.6L673.3 750.8L676.3 751.1L679.3 751.3L682.4 751.5L685.4 751.7L688.4 751.9L691.4 752.1L694.4 752.3L697.5 752.5L700.5 752.7L703.5 752.8L706.5 753.0L709.6 753.1L712.6 753.2L715.6 753.4M446.6 718.8L449.6 719.0L452.6 719.1L455.7 719.3L458.7 719.5L461.7 719.7L464.7 719.9L467.8 720.1L470.8 720.4L473.8 720.6L476.8 720.9L479.8 721.2L482.9 721.4L485.9 721.7L488.9 721.9L491.9 722.2L495.0 722.5L498.0 722.7L501.0 723.0L504.0 723.2L507.0 723.5L510.1 723.7L513.1 724.0L516.1 724.3L519.1 724.5L522.2 724.8L525.2 725.1L528.2 725.4L531.2 725.7L534.3 726.0L537.3 726.3L540.3 726.6L543.3 726.9L546.3 727.2L549.4 727.6L552.4 727.9L555.4 728.2L558.4 728.5L561.5 728.9L564.5 729.2L567.5 729.5L570.5 729.9L573.5 730.2L576.6 730.5L579.6 730.9L582.6 731.3L585.6 731.6L588.7 732.0L591.7 732.4L594.7 732.8L597.7 733.2L600.7 733.6L603.8 734.0L606.8 734.5L609.8 734.9L612.8 735.3L615.9 735.8L618.9 736.2L621.9 736.6L624.9 737.0L627.9 737.5L631.0 737.9L634.0 738.3L637.0 738.7L640.0 739.0L643.1 739.4L646.1 739.8L649.1 740.1L652.1 740.4L655.2 740.7L658.2 741.0L661.2 741.3L664.2 741.6L667.2 741.9L670.3 742.1L673.3 742.4L676.3 742.6L679.3 742.9L682.4 743.1L685.4 743.3L688.4 743.5L691.4 743.7L694.4 744.0L697.5 744.2L700.5 744.4L703.5 744.6L706.5 744.8L709.6 745.1L712.6 745.3L715.6 745.6M446.6 729.7L449.6 730.0L452.6 730.2L455.7 730.5L458.7 730.7L461.7 731.0L464.7 731.2L467.8 731.5L470.8 731.7L473.8 732.0L476.8 732.2L479.8 732.4L482.9 732.7L485.9 732.9L488.9 733.1L491.9 733.3L495.0 733.5L498.0 733.7L501.0 733.9L504.0 734.1L507.0 734.3L510.1 734.5L513.1 734.7L516.1 734.9L519.1 735.1L522.2 735.3L525.2 735.5L528.2 735.7L531.2 736.0L534.3 736.2L537.3 736.4L540.3 736.7L543.3 737.0L546.3 737.2L549.4 737.5L552.4 737.8L555.4 738.1L558.4 738.4L561.5 738.7L564.5 739.0L567.5 739.3L570.5 739.6L573.5 740.0L576.6 740.3L579.6 740.6L582.6 740.9L585.6 741.2L588.7 741.6L591.7 741.9L594.7 742.2L597.7 742.5L600.7 742.9L603.8 743.2L606.8 743.5L609.8 743.8L612.8 744.1L615.9 744.4L618.9 744.7L621.9 745.0L624.9 745.2L627.9 745.5L631.0 745.7L634.0 746.0L637.0 746.2L640.0 746.4L643.1 746.6L646.1 746.8L649.1 747.0L652.1 747.2L655.2 747.3L658.2 747.5L661.2 747.6L664.2 747.8L667.2 748.0L670.3 748.1L673.3 748.3L676.3 748.4L679.3 748.6L682.4 748.7L685.4 748.9L688.4 749.1L691.4 749.3L694.4 749.4L697.5 749.6L700.5 749.8L703.5 750.1L706.5 750.3L709.6 750.5L712.6 750.8L715.6 751.0M446.6 723.5L449.6 723.5L452.6 723.5L455.7 723.6L458.7 723.7L461.7 723.8L464.7 723.9L467.8 724.0L470.8 724.1L473.8 724.3L476.8 724.4L479.8 724.6L482.9 724.8L485.9 725.0L488.9 725.2L491.9 725.5L495.0 725.7L498.0 726.0L501.0 726.3L504.0 726.5L507.0 726.8L510.1 727.2L513.1 727.5L516.1 727.9L519.1 728.3L522.2 728.7L525.2 729.1L528.2 729.5L531.2 729.9L534.3 730.3L537.3 730.7L540.3 731.1L543.3 731.5L546.3 731.9L549.4 732.3L552.4 732.7L555.4 733.1L558.4 733.4L561.5 733.8L564.5 734.1L567.5 734.4L570.5 734.7L573.5 735.0L576.6 735.2L579.6 735.5L582.6 735.7L585.6 736.0L588.7 736.2L591.7 736.5L594.7 736.7L597.7 736.9L600.7 737.2L603.8 737.4L606.8 737.7L609.8 737.9L612.8 738.2L615.9 738.4L618.9 738.7L621.9 739.0L624.9 739.3L627.9 739.6L631.0 739.9L634.0 740.2L637.0 740.5L640.0 740.8L643.1 741.2L646.1 741.5L649.1 741.9L652.1 742.2L655.2 742.6L658.2 742.9L661.2 743.3L664.2 743.7L667.2 744.0L670.3 744.4L673.3 744.7L676.3 745.1L679.3 745.4L682.4 745.8L685.4 746.1L688.4 746.4L691.4 746.7L694.4 747.0L697.5 747.3L700.5 747.5L703.5 747.8L706.5 748.0L709.6 748.3L712.6 748.5L715.6 748.7M446.6 722.7L449.6 722.9L452.6 723.0L455.7 723.2L458.7 723.3L461.7 723.4L464.7 723.6L467.8 723.7L470.8 723.8L473.8 724.0L476.8 724.1L479.8 724.2L482.9 724.4L485.9 724.5L488.9 724.6L491.9 724.7L495.0 724.9L498.0 725.0L501.0 725.2L504.0 725.3L507.0 725.5L510.1 725.7L513.1 725.9L516.1 726.2L519.1 726.4L522.2 726.7L525.2 727.0L528.2 727.4L531.2 727.7L534.3 728.1L537.3 728.5L540.3 728.9L543.3 729.3L546.3 729.7L549.4 730.1L552.4 730.6L555.4 731.0L558.4 731.4L561.5 731.9L564.5 732.3L567.5 732.8L570.5 733.2L573.5 733.6L576.6 734.0L579.6 734.4L582.6 734.8L585.6 735.2L588.7 735.6L591.7 735.9L594.7 736.3L597.7 736.6L600.7 737.0L603.8 737.3L606.8 737.6L609.8 737.9L612.8 738.2L615.9 738.5L618.9 738.7L621.9 739.0L624.9 739.3L627.9 739.5L631.0 739.7L634.0 740.0L637.0 740.2L640.0 740.4L643.1 740.7L646.1 740.9L649.1 741.1L652.1 741.4L655.2 741.6L658.2 741.8L661.2 742.1L664.2 742.3L667.2 742.6L670.3 742.9L673.3 743.1L676.3 743.4L679.3 743.7L682.4 744.0L685.4 744.4L688.4 744.7L691.4 745.0L694.4 745.3L697.5 745.7L700.5 746.0L703.5 746.4L706.5 746.7L709.6 747.1L712.6 747.4L715.6 747.7M446.6 723.4L449.6 723.6L452.6 723.7L455.7 723.8L458.7 723.9L461.7 724.1L464.7 724.2L467.8 724.3L470.8 724.4L473.8 724.6L476.8 724.7L479.8 724.8L482.9 724.9L485.9 725.0L488.9 725.2L491.9 725.3L495.0 725.5L498.0 725.6L501.0 725.8L504.0 725.9L507.0 726.1L510.1 726.3L513.1 726.5L516.1 726.8L519.1 727.1L522.2 727.4L525.2 727.7L528.2 728.0L531.2 728.4L534.3 728.8L537.3 729.2L540.3 729.6L543.3 730.0L546.3 730.4L549.4 730.9L552.4 731.3L555.4 731.7L558.4 732.2L561.5 732.6L564.5 733.1L567.5 733.5L570.5 733.9L573.5 734.3L576.6 734.7L579.6 735.1L582.6 735.5L585.6 735.8L588.7 736.2L591.7 736.5L594.7 736.9L597.7 737.2L600.7 737.5L603.8 737.8L606.8 738.1L609.8 738.4L612.8 738.6L615.9 738.9L618.9 739.1L621.9 739.4L624.9 739.6L627.9 739.9L631.0 740.1L634.0 740.3L637.0 740.5L640.0 740.8L643.1 741.0L646.1 741.2L649.1 741.5L652.1 741.7L655.2 741.9L658.2 742.2L661.2 742.4L664.2 742.7L667.2 743.0L670.3 743.3L673.3 743.5L676.3 743.8L679.3 744.2L682.4 744.5L685.4 744.8L688.4 745.1L691.4 745.5L694.4 745.8L697.5 746.1L700.5 746.5L703.5 746.8L706.5 747.2L709.6 747.5L712.6 747.9L715.6 748.2M446.6 718.7L449.6 718.8L452.6 718.9L455.7 719.1L458.7 719.2L461.7 719.4L464.7 719.6L467.8 719.9L470.8 720.1L473.8 720.3L476.8 720.6L479.8 720.9L482.9 721.1L485.9 721.4L488.9 721.7L491.9 722.0L495.0 722.2L498.0 722.5L501.0 722.8L504.0 723.1L507.0 723.3L510.1 723.6L513.1 723.9L516.1 724.2L519.1 724.6L522.2 724.9L525.2 725.2L528.2 725.5L531.2 725.8L534.3 726.1L537.3 726.5L540.3 726.8L543.3 727.1L546.3 727.4L549.4 727.7L552.4 728.1L555.4 728.4L558.4 728.7L561.5 729.0L564.5 729.3L567.5 729.6L570.5 730.0L573.5 730.3L576.6 730.6L579.6 730.9L582.6 731.2L585.6 731.6L588.7 731.9L591.7 732.3L594.7 732.6L597.7 733.0L600.7 733.4L603.8 733.8L606.8 734.2L609.8 734.6L612.8 735.0L615.9 735.5L618.9 735.9L621.9 736.3L624.9 736.8L627.9 737.2L631.0 737.6L634.0 738.0L637.0 738.4L640.0 738.8L643.1 739.2L646.1 739.6L649.1 740.0L652.1 740.3L655.2 740.7L658.2 741.0L661.2 741.3L664.2 741.6L667.2 741.9L670.3 742.2L673.3 742.5L676.3 742.8L679.3 743.0L682.4 743.3L685.4 743.5L688.4 743.7L691.4 744.0L694.4 744.2L697.5 744.4L700.5 744.6L703.5 744.8L706.5 745.0L709.6 745.2L712.6 745.5L715.6 745.7M446.6 721.7L449.6 721.7L452.6 721.7L455.7 721.8L458.7 721.9L461.7 721.9L464.7 722.0L467.8 722.1L470.8 722.2L473.8 722.3L476.8 722.4L479.8 722.6L482.9 722.7L485.9 722.9L488.9 723.1L491.9 723.2L495.0 723.5L498.0 723.7L501.0 723.9L504.0 724.2L507.0 724.5L510.1 724.8L513.1 725.1L516.1 725.4L519.1 725.8L522.2 726.2L525.2 726.6L528.2 727.0L531.2 727.5L534.3 727.9L537.3 728.3L540.3 728.8L543.3 729.2L546.3 729.7L549.4 730.1L552.4 730.6L555.4 731.0L558.4 731.4L561.5 731.8L564.5 732.2L567.5 732.5L570.5 732.9L573.5 733.2L576.6 733.5L579.6 733.8L582.6 734.1L585.6 734.4L588.7 734.7L591.7 734.9L594.7 735.2L597.7 735.5L600.7 735.7L603.8 736.0L606.8 736.2L609.8 736.5L612.8 736.8L615.9 737.0L618.9 737.3L621.9 737.6L624.9 737.8L627.9 738.1L631.0 738.4L634.0 738.7L637.0 739.0L640.0 739.3L643.1 739.6L646.1 740.0L649.1 740.3L652.1 740.6L655.2 741.0L658.2 741.3L661.2 741.7L664.2 742.1L667.2 742.4L670.3 742.8L673.3 743.2L676.3 743.6L679.3 743.9L682.4 744.3L685.4 744.6L688.4 745.0L691.4 745.3L694.4 745.7L697.5 746.0L700.5 746.3L703.5 746.6L706.5 746.9L709.6 747.2L712.6 747.5L715.6 747.8M446.6 721.4L449.6 721.5L452.6 721.6L455.7 721.7L458.7 721.8L461.7 721.9L464.7 722.0L467.8 722.1L470.8 722.2L473.8 722.3L476.8 722.4L479.8 722.5L482.9 722.6L485.9 722.7L488.9 722.9L491.9 723.0L495.0 723.2L498.0 723.3L501.0 723.5L504.0 723.7L507.0 723.9L510.1 724.1L513.1 724.3L516.1 724.6L519.1 724.9L522.2 725.3L525.2 725.6L528.2 726.0L531.2 726.4L534.3 726.8L537.3 727.2L540.3 727.7L543.3 728.1L546.3 728.6L549.4 729.0L552.4 729.5L555.4 730.0L558.4 730.4L561.5 730.9L564.5 731.3L567.5 731.7L570.5 732.2L573.5 732.6L576.6 733.0L579.6 733.4L582.6 733.7L585.6 734.1L588.7 734.4L591.7 734.8L594.7 735.1L597.7 735.4L600.7 735.7L603.8 736.0L606.8 736.3L609.8 736.6L612.8 736.9L615.9 737.2L618.9 737.4L621.9 737.7L624.9 737.9L627.9 738.2L631.0 738.4L634.0 738.7L637.0 738.9L640.0 739.2L643.1 739.5L646.1 739.7L649.1 740.0L652.1 740.2L655.2 740.5L658.2 740.8L661.2 741.1L664.2 741.4L667.2 741.7L670.3 742.0L673.3 742.4L676.3 742.7L679.3 743.1L682.4 743.4L685.4 743.8L688.4 744.1L691.4 744.5L694.4 744.8L697.5 745.2L700.5 745.6L703.5 745.9L706.5 746.3L709.6 746.6L712.6 747.0L715.6 747.3M446.6 730.2L449.6 730.3L452.6 730.4L455.7 730.5L458.7 730.6L461.7 730.7L464.7 730.8L467.8 730.9L470.8 731.0L473.8 731.2L476.8 731.3L479.8 731.5L482.9 731.6L485.9 731.8L488.9 732.0L491.9 732.2L495.0 732.4L498.0 732.7L501.0 732.9L504.0 733.2L507.0 733.5L510.1 733.8L513.1 734.1L516.1 734.4L519.1 734.8L522.2 735.1L525.2 735.5L528.2 735.9L531.2 736.3L534.3 736.7L537.3 737.1L540.3 737.4L543.3 737.8L546.3 738.2L549.4 738.6L552.4 738.9L555.4 739.3L558.4 739.6L561.5 740.0L564.5 740.3L567.5 740.6L570.5 740.8L573.5 741.1L576.6 741.3L579.6 741.6L582.6 741.8L585.6 742.0L588.7 742.2L591.7 742.4L594.7 742.5L597.7 742.7L600.7 742.9L603.8 743.0L606.8 743.2L609.8 743.4L612.8 743.5L615.9 743.7L618.9 743.9L621.9 744.0L624.9 744.2L627.9 744.4L631.0 744.6L634.0 744.8L637.0 745.1L640.0 745.3L643.1 745.5L646.1 745.8L649.1 746.0L652.1 746.3L655.2 746.6L658.2 746.9L661.2 747.2L664.2 747.5L667.2 747.8L670.3 748.1L673.3 748.4L676.3 748.7L679.3 749.0L682.4 749.3L685.4 749.6L688.4 749.9L691.4 750.2L694.4 750.5L697.5 750.8L700.5 751.0L703.5 751.3L706.5 751.5L709.6 751.8L712.6 752.0L715.6 752.2M446.6 726.5L449.6 726.7L452.6 726.9L455.7 727.1L458.7 727.3L461.7 727.5L464.7 727.6L467.8 727.8L470.8 728.0L473.8 728.1L476.8 728.3L479.8 728.4L482.9 728.6L485.9 728.7L488.9 728.9L491.9 729.0L495.0 729.2L498.0 729.3L501.0 729.5L504.0 729.6L507.0 729.8L510.1 730.0L513.1 730.2L516.1 730.4L519.1 730.6L522.2 730.9L525.2 731.1L528.2 731.4L531.2 731.7L534.3 732.1L537.3 732.4L540.3 732.7L543.3 733.1L546.3 733.5L549.4 733.8L552.4 734.2L555.4 734.6L558.4 735.0L561.5 735.4L564.5 735.8L567.5 736.2L570.5 736.6L573.5 737.0L576.6 737.4L579.6 737.8L582.6 738.1L585.6 738.5L588.7 738.8L591.7 739.2L594.7 739.5L597.7 739.9L600.7 740.2L603.8 740.5L606.8 740.8L609.8 741.1L612.8 741.3L615.9 741.6L618.9 741.9L621.9 742.1L624.9 742.3L627.9 742.5L631.0 742.8L634.0 743.0L637.0 743.2L640.0 743.4L643.1 743.6L646.1 743.7L649.1 743.9L652.1 744.1L655.2 744.3L658.2 744.5L661.2 744.7L664.2 744.9L667.2 745.1L670.3 745.3L673.3 745.6L676.3 745.8L679.3 746.0L682.4 746.3L685.4 746.5L688.4 746.8L691.4 747.1L694.4 747.4L697.5 747.7L700.5 748.0L703.5 748.3L706.5 748.6L709.6 748.9L712.6 749.2L715.6 749.6" fill="none" stroke="#a6cdf8" stroke-width="1.5" stroke-linejoin="round"/>
<path d="M103.9 751.5L107.7 751.1L111.5 750.7L115.3 750.3L119.0 749.8L122.8 749.3L126.6 748.8L130.4 748.3L134.2 747.7L138.0 747.1L141.7 746.5L145.5 745.9L149.3 745.2L153.1 744.5L156.9 743.8L160.7 743.0L164.4 742.3L168.2 741.5L172.0 740.7L175.8 739.9L179.6 739.1L183.4 738.3L187.2 737.5L190.9 736.7L194.7 735.9L198.5 735.1L202.3 734.3L206.1 733.5L209.9 732.7L213.6 731.9L217.4 731.1L221.2 730.2L225.0 729.4L228.8 728.5L232.6 727.7L236.3 726.8L240.1 725.9L243.9 725.1L247.7 724.2L251.5 723.3L255.3 722.4L259.1 721.5L262.8 720.6L266.6 719.6L270.4 718.6L274.2 717.6L278.0 716.6L281.8 715.5L285.5 714.4L289.3 713.2L293.1 712.0L296.9 710.7L300.7 709.4L304.5 708.1L308.3 706.8L312.0 705.4L315.8 704.0L319.6 702.5L323.4 701.0L327.2 699.6L331.0 698.0L334.7 696.5L338.5 694.9L342.3 693.4L346.1 691.7L349.9 690.1L353.7 688.4L357.4 686.7L361.2 684.8L365.0 682.8L368.8 680.6L372.6 678.2L376.4 675.4L380.2 672.3L383.9 669.0L387.7 665.5L391.5 661.9L395.3 658.2L399.1 654.1L402.9 649.8L406.6 645.3L410.4 640.5L414.2 635.7L418.0 630.7L421.8 624.7L425.6 618.5L429.3 614.4L433.1 612.4L436.9 610.9L440.7 610.2M103.9 746.8L107.7 746.3L111.5 745.8L115.3 745.2L119.0 744.6L122.8 744.0L126.6 743.4L130.4 742.7L134.2 742.0L138.0 741.3L141.7 740.5L145.5 739.8L149.3 739.0L153.1 738.3L156.9 737.5L160.7 736.6L164.4 735.8L168.2 735.0L172.0 734.1L175.8 733.3L179.6 732.4L183.4 731.5L187.2 730.7L190.9 729.8L194.7 729.0L198.5 728.1L202.3 727.3L206.1 726.4L209.9 725.6L213.6 724.7L217.4 723.8L221.2 722.8L225.0 721.8L228.8 720.9L232.6 719.8L236.3 718.8L240.1 717.7L243.9 716.5L247.7 715.3L251.5 714.1L255.3 712.9L259.1 711.6L262.8 710.3L266.6 708.9L270.4 707.5L274.2 706.1L278.0 704.6L281.8 703.1L285.5 701.6L289.3 700.1L293.1 698.5L296.9 696.9L300.7 695.3L304.5 693.7L308.3 692.0L312.0 690.3L315.8 688.6L319.6 686.9L323.4 685.1L327.2 683.3L331.0 681.5L334.7 679.6L338.5 677.7L342.3 675.7L346.1 673.7L349.9 671.6L353.7 669.4L357.4 667.1L361.2 664.6L365.0 662.0L368.8 659.3L372.6 656.3L376.4 653.1L380.2 649.7L383.9 646.1L387.7 642.2L391.5 638.1L395.3 633.6L399.1 628.5L402.9 622.8L406.6 616.9L410.4 611.0L414.2 605.2L418.0 599.7L421.8 594.3L425.6 589.0L429.3 584.5L433.1 581.0L436.9 577.9L440.7 575.5M103.9 749.1L107.7 748.6L111.5 748.1L115.3 747.5L119.0 746.9L122.8 746.4L126.6 745.8L130.4 745.2L134.2 744.6L138.0 744.0L141.7 743.3L145.5 742.7L149.3 742.1L153.1 741.6L156.9 740.9L160.7 740.3L164.4 739.7L168.2 739.0L172.0 738.4L175.8 737.7L179.6 737.0L183.4 736.3L187.2 735.5L190.9 734.8L194.7 734.0L198.5 733.2L202.3 732.4L206.1 731.5L209.9 730.6L213.6 729.7L217.4 728.7L221.2 727.7L225.0 726.7L228.8 725.6L232.6 724.5L236.3 723.4L240.1 722.3L243.9 721.2L247.7 720.0L251.5 718.9L255.3 717.7L259.1 716.6L262.8 715.4L266.6 714.3L270.4 713.1L274.2 711.9L278.0 710.8L281.8 709.6L285.5 708.4L289.3 707.1L293.1 705.9L296.9 704.6L300.7 703.4L304.5 702.1L308.3 700.7L312.0 699.4L315.8 698.0L319.6 696.6L323.4 695.1L327.2 693.6L331.0 692.0L334.7 690.4L338.5 688.8L342.3 687.0L346.1 685.3L349.9 683.4L353.7 681.5L357.4 679.4L361.2 677.2L365.0 674.8L368.8 672.3L372.6 669.4L376.4 666.3L380.2 663.0L383.9 659.4L387.7 655.6L391.5 651.6L395.3 647.5L399.1 642.9L402.9 637.9L406.6 632.7L410.4 627.4L414.2 622.2L418.0 617.0L421.8 611.3L425.6 605.5L429.3 601.3L433.1 598.8L436.9 596.7L440.7 595.5M103.9 746.7L107.7 746.2L111.5 745.8L115.3 745.3L119.0 744.8L122.8 744.4L126.6 743.9L130.4 743.4L134.2 742.8L138.0 742.3L141.7 741.8L145.5 741.2L149.3 740.7L153.1 740.1L156.9 739.4L160.7 738.7L164.4 738.0L168.2 737.2L172.0 736.4L175.8 735.6L179.6 734.7L183.4 733.8L187.2 732.8L190.9 731.9L194.7 730.9L198.5 729.9L202.3 728.9L206.1 727.9L209.9 726.8L213.6 725.7L217.4 724.7L221.2 723.6L225.0 722.5L228.8 721.4L232.6 720.2L236.3 719.1L240.1 718.0L243.9 716.9L247.7 715.7L251.5 714.6L255.3 713.5L259.1 712.3L262.8 711.2L266.6 710.1L270.4 708.9L274.2 707.7L278.0 706.5L281.8 705.3L285.5 704.0L289.3 702.7L293.1 701.4L296.9 700.0L300.7 698.6L304.5 697.1L308.3 695.6L312.0 694.1L315.8 692.4L319.6 690.8L323.4 689.0L327.2 687.2L331.0 685.3L334.7 683.4L338.5 681.4L342.3 679.4L346.1 677.3L349.9 675.1L353.7 672.8L357.4 670.4L361.2 667.8L365.0 665.2L368.8 662.3L372.6 659.3L376.4 656.1L380.2 652.6L383.9 649.0L387.7 645.2L391.5 641.1L395.3 636.8L399.1 631.9L402.9 626.6L406.6 621.0L410.4 615.4L414.2 609.9L418.0 604.7L421.8 599.3L425.6 594.1L429.3 589.9L433.1 586.8L436.9 584.1L440.7 582.2M103.9 748.9L107.7 748.4L111.5 747.9L115.3 747.3L119.0 746.7L122.8 746.1L126.6 745.5L130.4 744.9L134.2 744.2L138.0 743.6L141.7 742.9L145.5 742.2L149.3 741.6L153.1 740.9L156.9 740.3L160.7 739.6L164.4 738.9L168.2 738.2L172.0 737.5L175.8 736.8L179.6 736.1L183.4 735.4L187.2 734.6L190.9 733.9L194.7 733.1L198.5 732.3L202.3 731.5L206.1 730.7L209.9 729.8L213.6 728.9L217.4 728.0L221.2 727.1L225.0 726.1L228.8 725.0L232.6 724.0L236.3 722.9L240.1 721.8L243.9 720.7L247.7 719.5L251.5 718.4L255.3 717.2L259.1 716.0L262.8 714.8L266.6 713.6L270.4 712.4L274.2 711.1L278.0 709.9L281.8 708.6L285.5 707.3L289.3 706.0L293.1 704.7L296.9 703.4L300.7 702.0L304.5 700.6L308.3 699.2L312.0 697.8L315.8 696.4L319.6 694.9L323.4 693.4L327.2 691.9L331.0 690.3L334.7 688.6L338.5 687.0L342.3 685.2L346.1 683.4L349.9 681.6L353.7 679.6L357.4 677.6L361.2 675.4L365.0 673.0L368.8 670.4L372.6 667.6L376.4 664.5L380.2 661.2L383.9 657.6L387.7 653.8L391.5 649.8L395.3 645.6L399.1 640.9L402.9 635.8L406.6 630.5L410.4 625.1L414.2 619.7L418.0 614.5L421.8 608.7L425.6 603.0L429.3 598.8L433.1 596.0L436.9 593.8L440.7 592.3M103.9 748.7L107.7 748.2L111.5 747.8L115.3 747.3L119.0 746.8L122.8 746.4L126.6 745.9L130.4 745.4L134.2 744.9L138.0 744.4L141.7 743.9L145.5 743.3L149.3 742.8L153.1 742.2L156.9 741.7L160.7 741.0L164.4 740.4L168.2 739.7L172.0 739.0L175.8 738.2L179.6 737.4L183.4 736.6L187.2 735.7L190.9 734.9L194.7 734.0L198.5 733.0L202.3 732.1L206.1 731.1L209.9 730.1L213.6 729.1L217.4 728.0L221.2 727.0L225.0 725.9L228.8 724.8L232.6 723.8L236.3 722.7L240.1 721.6L243.9 720.5L247.7 719.5L251.5 718.4L255.3 717.3L259.1 716.3L262.8 715.3L266.6 714.2L270.4 713.2L274.2 712.1L278.0 711.1L281.8 710.0L285.5 708.8L289.3 707.7L293.1 706.5L296.9 705.3L300.7 704.0L304.5 702.7L308.3 701.4L312.0 700.0L315.8 698.5L319.6 697.0L323.4 695.5L327.2 693.9L331.0 692.2L334.7 690.5L338.5 688.7L342.3 686.8L346.1 684.9L349.9 683.0L353.7 680.9L357.4 678.8L361.2 676.5L365.0 674.0L368.8 671.4L372.6 668.6L376.4 665.5L380.2 662.1L383.9 658.6L387.7 654.9L391.5 651.0L395.3 646.9L399.1 642.4L402.9 637.5L406.6 632.4L410.4 627.3L414.2 622.1L418.0 617.1L421.8 611.4L425.6 605.8L429.3 601.7L433.1 599.2L436.9 597.2L440.7 596.0M103.9 751.1L107.7 750.6L111.5 750.0L115.3 749.5L119.0 748.9L122.8 748.4L126.6 747.8L130.4 747.2L134.2 746.6L138.0 746.0L141.7 745.4L145.5 744.9L149.3 744.3L153.1 743.7L156.9 743.1L160.7 742.6L164.4 742.0L168.2 741.4L172.0 740.8L175.8 740.2L179.6 739.5L183.4 738.9L187.2 738.2L190.9 737.5L194.7 736.8L198.5 736.1L202.3 735.3L206.1 734.5L209.9 733.6L213.6 732.8L217.4 731.8L221.2 730.9L225.0 729.9L228.8 728.9L232.6 727.9L236.3 726.8L240.1 725.8L243.9 724.7L247.7 723.6L251.5 722.6L255.3 721.5L259.1 720.5L262.8 719.4L266.6 718.4L270.4 717.3L274.2 716.3L278.0 715.2L281.8 714.2L285.5 713.1L289.3 712.0L293.1 710.9L296.9 709.8L300.7 708.6L304.5 707.5L308.3 706.3L312.0 705.1L315.8 703.8L319.6 702.6L323.4 701.2L327.2 699.9L331.0 698.5L334.7 697.1L338.5 695.6L342.3 694.1L346.1 692.5L349.9 690.9L353.7 689.2L357.4 687.3L361.2 685.4L365.0 683.2L368.8 680.9L372.6 678.3L376.4 675.3L380.2 672.1L383.9 668.6L387.7 664.9L391.5 661.1L395.3 657.2L399.1 652.9L402.9 648.5L406.6 643.8L410.4 638.9L414.2 634.0L418.0 629.0L421.8 623.0L425.6 616.8L429.3 612.7L433.1 610.8L436.9 609.3L440.7 608.8M103.9 746.2L107.7 745.8L111.5 745.3L115.3 744.9L119.0 744.4L122.8 743.9L126.6 743.4L130.4 742.9L134.2 742.4L138.0 741.9L141.7 741.3L145.5 740.8L149.3 740.2L153.1 739.6L156.9 738.9L160.7 738.2L164.4 737.4L168.2 736.6L172.0 735.8L175.8 734.9L179.6 734.0L183.4 733.0L187.2 732.1L190.9 731.1L194.7 730.1L198.5 729.1L202.3 728.0L206.1 727.0L209.9 725.9L213.6 724.9L217.4 723.8L221.2 722.7L225.0 721.6L228.8 720.5L232.6 719.3L236.3 718.2L240.1 717.1L243.9 716.0L247.7 714.8L251.5 713.7L255.3 712.6L259.1 711.4L262.8 710.3L266.6 709.1L270.4 707.9L274.2 706.7L278.0 705.5L281.8 704.2L285.5 702.9L289.3 701.6L293.1 700.2L296.9 698.8L300.7 697.3L304.5 695.8L308.3 694.2L312.0 692.6L315.8 690.9L319.6 689.2L323.4 687.4L327.2 685.5L331.0 683.6L334.7 681.6L338.5 679.6L342.3 677.5L346.1 675.3L349.9 673.1L353.7 670.7L357.4 668.2L361.2 665.7L365.0 662.9L368.8 660.0L372.6 657.0L376.4 653.7L380.2 650.3L383.9 646.6L387.7 642.8L391.5 638.7L395.3 634.3L399.1 629.3L402.9 623.9L406.6 618.3L410.4 612.5L414.2 607.0L418.0 601.7L421.8 596.4L425.6 591.3L429.3 587.1L433.1 583.8L436.9 581.0L440.7 578.8M103.9 747.6L107.7 747.1L111.5 746.6L115.3 746.1L119.0 745.5L122.8 745.0L126.6 744.4L130.4 743.9L134.2 743.3L138.0 742.7L141.7 742.1L145.5 741.6L149.3 741.0L153.1 740.4L156.9 739.8L160.7 739.2L164.4 738.5L168.2 737.8L172.0 737.1L175.8 736.4L179.6 735.6L183.4 734.8L187.2 734.0L190.9 733.1L194.7 732.3L198.5 731.4L202.3 730.5L206.1 729.5L209.9 728.5L213.6 727.5L217.4 726.5L221.2 725.4L225.0 724.3L228.8 723.2L232.6 722.1L236.3 720.9L240.1 719.8L243.9 718.6L247.7 717.4L251.5 716.3L255.3 715.1L259.1 713.9L262.8 712.7L266.6 711.5L270.4 710.3L274.2 709.1L278.0 707.9L281.8 706.7L285.5 705.4L289.3 704.2L293.1 702.9L296.9 701.6L300.7 700.2L304.5 698.9L308.3 697.5L312.0 696.0L315.8 694.5L319.6 693.0L323.4 691.4L327.2 689.7L331.0 688.0L334.7 686.3L338.5 684.4L342.3 682.5L346.1 680.6L349.9 678.5L353.7 676.4L357.4 674.1L361.2 671.7L365.0 669.2L368.8 666.4L372.6 663.4L376.4 660.2L380.2 656.8L383.9 653.1L387.7 649.3L391.5 645.2L395.3 640.9L399.1 636.1L402.9 630.9L406.6 625.4L410.4 619.9L414.2 614.5L418.0 609.2L421.8 603.7L425.6 598.3L429.3 594.0L433.1 591.1L436.9 588.7L440.7 587.1M103.9 746.8L107.7 746.4L111.5 746.0L115.3 745.5L119.0 745.0L122.8 744.5L126.6 744.0L130.4 743.4L134.2 742.7L138.0 742.1L141.7 741.4L145.5 740.7L149.3 739.9L153.1 739.2L156.9 738.3L160.7 737.5L164.4 736.6L168.2 735.6L172.0 734.7L175.8 733.7L179.6 732.8L183.4 731.8L187.2 730.8L190.9 729.9L194.7 728.9L198.5 728.0L202.3 727.1L206.1 726.2L209.9 725.2L213.6 724.3L217.4 723.4L221.2 722.4L225.0 721.5L228.8 720.6L232.6 719.6L236.3 718.6L240.1 717.6L243.9 716.5L247.7 715.5L251.5 714.4L255.3 713.3L259.1 712.1L262.8 710.9L266.6 709.7L270.4 708.4L274.2 707.0L278.0 705.7L281.8 704.3L285.5 702.8L289.3 701.3L293.1 699.7L296.9 698.2L300.7 696.5L304.5 694.8L308.3 693.1L312.0 691.4L315.8 689.6L319.6 687.8L323.4 685.9L327.2 684.0L331.0 682.1L334.7 680.1L338.5 678.1L342.3 676.0L346.1 674.0L349.9 671.8L353.7 669.6L357.4 667.2L361.2 664.8L365.0 662.2L368.8 659.5L372.6 656.6L376.4 653.5L380.2 650.1L383.9 646.6L387.7 642.8L391.5 638.8L395.3 634.5L399.1 629.5L402.9 624.0L406.6 618.3L410.4 612.5L414.2 606.8L418.0 601.5L421.8 596.1L425.6 590.8L429.3 586.4L433.1 582.9L436.9 579.9L440.7 577.5M103.9 747.5L107.7 747.0L111.5 746.5L115.3 745.9L119.0 745.3L122.8 744.7L126.6 744.1L130.4 743.4L134.2 742.7L138.0 742.0L141.7 741.3L145.5 740.5L149.3 739.8L153.1 739.1L156.9 738.3L160.7 737.5L164.4 736.8L168.2 736.0L172.0 735.2L175.8 734.4L179.6 733.6L183.4 732.7L187.2 731.9L190.9 731.1L194.7 730.3L198.5 729.5L202.3 728.7L206.1 727.8L209.9 727.0L213.6 726.1L217.4 725.2L221.2 724.2L225.0 723.3L228.8 722.3L232.6 721.2L236.3 720.2L240.1 719.0L243.9 717.9L247.7 716.7L251.5 715.5L255.3 714.3L259.1 713.0L262.8 711.8L266.6 710.4L270.4 709.1L274.2 707.7L278.0 706.3L281.8 704.9L285.5 703.5L289.3 702.0L293.1 700.5L296.9 699.0L300.7 697.4L304.5 695.9L308.3 694.3L312.0 692.7L315.8 691.1L319.6 689.4L323.4 687.8L327.2 686.1L331.0 684.3L334.7 682.5L338.5 680.7L342.3 678.8L346.1 676.9L349.9 674.8L353.7 672.7L357.4 670.5L361.2 668.1L365.0 665.6L368.8 662.9L372.6 660.0L376.4 656.9L380.2 653.5L383.9 649.9L387.7 646.0L391.5 641.9L395.3 637.5L399.1 632.5L402.9 627.1L406.6 621.4L410.4 615.6L414.2 609.9L418.0 604.5L421.8 599.0L425.6 593.6L429.3 589.1L433.1 585.8L436.9 583.0L440.7 580.9M103.9 749.4L107.7 748.9L111.5 748.4L115.3 747.9L119.0 747.4L122.8 746.9L126.6 746.4L130.4 745.8L134.2 745.3L138.0 744.8L141.7 744.3L145.5 743.7L149.3 743.2L153.1 742.7L156.9 742.1L160.7 741.5L164.4 740.9L168.2 740.3L172.0 739.6L175.8 738.9L179.6 738.2L183.4 737.4L187.2 736.6L190.9 735.8L194.7 735.0L198.5 734.1L202.3 733.2L206.1 732.3L209.9 731.3L213.6 730.3L217.4 729.3L221.2 728.2L225.0 727.2L228.8 726.1L232.6 725.0L236.3 723.9L240.1 722.8L243.9 721.7L247.7 720.7L251.5 719.6L255.3 718.5L259.1 717.5L262.8 716.4L266.6 715.4L270.4 714.3L274.2 713.3L278.0 712.2L281.8 711.2L285.5 710.1L289.3 709.0L293.1 707.8L296.9 706.7L300.7 705.4L304.5 704.2L308.3 702.9L312.0 701.6L315.8 700.2L319.6 698.8L323.4 697.4L327.2 695.8L331.0 694.3L334.7 692.6L338.5 690.9L342.3 689.2L346.1 687.4L349.9 685.5L353.7 683.6L357.4 681.5L361.2 679.3L365.0 676.9L368.8 674.4L372.6 671.6L376.4 668.5L380.2 665.2L383.9 661.6L387.7 657.9L391.5 654.0L395.3 649.9L399.1 645.5L402.9 640.8L406.6 635.8L410.4 630.7L414.2 625.7L418.0 620.6L421.8 614.9L425.6 609.1L429.3 605.0L433.1 602.7L436.9 600.9L440.7 599.9M103.9 747.5L107.7 747.2L111.5 746.8L115.3 746.4L119.0 745.9L122.8 745.5L126.6 745.0L130.4 744.5L134.2 744.0L138.0 743.5L141.7 742.9L145.5 742.3L149.3 741.7L153.1 741.0L156.9 740.3L160.7 739.5L164.4 738.7L168.2 737.9L172.0 737.0L175.8 736.1L179.6 735.2L183.4 734.2L187.2 733.2L190.9 732.3L194.7 731.3L198.5 730.3L202.3 729.3L206.1 728.3L209.9 727.3L213.6 726.3L217.4 725.3L221.2 724.3L225.0 723.3L228.8 722.3L232.6 721.2L236.3 720.2L240.1 719.2L243.9 718.2L247.7 717.2L251.5 716.2L255.3 715.1L259.1 714.1L262.8 713.0L266.6 711.9L270.4 710.8L274.2 709.7L278.0 708.5L281.8 707.3L285.5 706.0L289.3 704.7L293.1 703.4L296.9 702.0L300.7 700.5L304.5 699.0L308.3 697.4L312.0 695.8L315.8 694.2L319.6 692.5L323.4 690.7L327.2 688.9L331.0 687.0L334.7 685.1L338.5 683.1L342.3 681.1L346.1 679.1L349.9 677.0L353.7 674.8L357.4 672.5L361.2 670.1L365.0 667.6L368.8 664.9L372.6 662.0L376.4 658.9L380.2 655.6L383.9 652.1L387.7 648.4L391.5 644.5L395.3 640.3L399.1 635.6L402.9 630.5L406.6 625.1L410.4 619.7L414.2 614.3L418.0 609.2L421.8 603.7L425.6 598.4L429.3 594.1L433.1 591.1L436.9 588.6L440.7 586.8M103.9 749.5L107.7 749.0L111.5 748.4L115.3 747.9L119.0 747.3L122.8 746.7L126.6 746.1L130.4 745.5L134.2 744.9L138.0 744.2L141.7 743.6L145.5 743.0L149.3 742.4L153.1 741.8L156.9 741.1L160.7 740.5L164.4 739.9L168.2 739.2L172.0 738.6L175.8 737.9L179.6 737.2L183.4 736.5L187.2 735.8L190.9 735.0L194.7 734.3L198.5 733.5L202.3 732.7L206.1 731.9L209.9 731.0L213.6 730.1L217.4 729.1L221.2 728.2L225.0 727.2L228.8 726.1L232.6 725.1L236.3 724.0L240.1 722.9L243.9 721.8L247.7 720.7L251.5 719.5L255.3 718.4L259.1 717.2L262.8 716.1L266.6 714.9L270.4 713.8L274.2 712.6L278.0 711.4L281.8 710.2L285.5 709.0L289.3 707.8L293.1 706.5L296.9 705.3L300.7 704.0L304.5 702.7L308.3 701.4L312.0 700.0L315.8 698.6L319.6 697.2L323.4 695.8L327.2 694.3L331.0 692.8L334.7 691.2L338.5 689.6L342.3 687.9L346.1 686.2L349.9 684.4L353.7 682.5L357.4 680.5L361.2 678.3L365.0 676.0L368.8 673.5L372.6 670.7L376.4 667.6L380.2 664.3L383.9 660.8L387.7 657.0L391.5 653.0L395.3 648.9L399.1 644.3L402.9 639.4L406.6 634.3L410.4 629.1L414.2 623.8L418.0 618.7L421.8 612.9L425.6 607.1L429.3 602.8L433.1 600.3L436.9 598.4L440.7 597.2M103.9 749.2L107.7 748.7L111.5 748.1L115.3 747.5L119.0 747.0L122.8 746.4L126.6 745.7L130.4 745.1L134.2 744.5L138.0 743.8L141.7 743.2L145.5 742.5L149.3 741.9L153.1 741.2L156.9 740.6L160.7 739.9L164.4 739.2L168.2 738.6L172.0 737.9L175.8 737.2L179.6 736.5L183.4 735.7L187.2 735.0L190.9 734.3L194.7 733.5L198.5 732.7L202.3 731.9L206.1 731.1L209.9 730.3L213.6 729.4L217.4 728.4L221.2 727.5L225.0 726.5L228.8 725.5L232.6 724.4L236.3 723.4L240.1 722.3L243.9 721.1L247.7 720.0L251.5 718.8L255.3 717.7L259.1 716.5L262.8 715.3L266.6 714.1L270.4 712.9L274.2 711.7L278.0 710.5L281.8 709.2L285.5 707.9L289.3 706.7L293.1 705.4L296.9 704.1L300.7 702.7L304.5 701.4L308.3 700.0L312.0 698.6L315.8 697.2L319.6 695.7L323.4 694.2L327.2 692.7L331.0 691.2L334.7 689.6L338.5 687.9L342.3 686.2L346.1 684.4L349.9 682.6L353.7 680.7L357.4 678.6L361.2 676.5L365.0 674.1L368.8 671.6L372.6 668.8L376.4 665.7L380.2 662.4L383.9 658.8L387.7 655.0L391.5 651.1L395.3 646.9L399.1 642.2L402.9 637.2L406.6 632.0L410.4 626.6L414.2 621.3L418.0 616.1L421.8 610.3L425.6 604.6L429.3 600.3L433.1 597.6L436.9 595.5L440.7 594.1M103.9 747.5L107.7 747.1L111.5 746.7L115.3 746.3L119.0 745.9L122.8 745.4L126.6 744.9L130.4 744.4L134.2 743.8L138.0 743.3L141.7 742.7L145.5 742.0L149.3 741.3L153.1 740.6L156.9 739.9L160.7 739.0L164.4 738.2L168.2 737.3L172.0 736.4L175.8 735.5L179.6 734.5L183.4 733.5L187.2 732.6L190.9 731.6L194.7 730.6L198.5 729.7L202.3 728.7L206.1 727.7L209.9 726.8L213.6 725.8L217.4 724.8L221.2 723.9L225.0 722.9L228.8 721.9L232.6 720.9L236.3 720.0L240.1 719.0L243.9 718.0L247.7 717.0L251.5 715.9L255.3 714.9L259.1 713.8L262.8 712.7L266.6 711.6L270.4 710.5L274.2 709.3L278.0 708.0L281.8 706.8L285.5 705.4L289.3 704.1L293.1 702.6L296.9 701.2L300.7 699.6L304.5 698.1L308.3 696.5L312.0 694.8L315.8 693.1L319.6 691.3L323.4 689.5L327.2 687.7L331.0 685.8L334.7 683.9L338.5 681.9L342.3 679.9L346.1 677.8L349.9 675.7L353.7 673.6L357.4 671.3L361.2 668.9L365.0 666.4L368.8 663.7L372.6 660.9L376.4 657.8L380.2 654.5L383.9 651.0L387.7 647.3L391.5 643.4L395.3 639.2L399.1 634.4L402.9 629.3L406.6 623.8L410.4 618.3L414.2 612.9L418.0 607.7L421.8 602.2L425.6 596.9L429.3 592.5L433.1 589.4L436.9 586.8L440.7 584.9M103.9 747.6L107.7 747.2L111.5 746.8L115.3 746.4L119.0 745.9L122.8 745.5L126.6 745.0L130.4 744.5L134.2 744.0L138.0 743.5L141.7 743.0L145.5 742.4L149.3 741.9L153.1 741.2L156.9 740.6L160.7 739.9L164.4 739.1L168.2 738.3L172.0 737.5L175.8 736.6L179.6 735.7L183.4 734.8L187.2 733.9L190.9 732.9L194.7 731.9L198.5 730.9L202.3 729.9L206.1 728.9L209.9 727.9L213.6 726.9L217.4 725.8L221.2 724.8L225.0 723.7L228.8 722.7L232.6 721.6L236.3 720.6L240.1 719.5L243.9 718.5L247.7 717.5L251.5 716.4L255.3 715.4L259.1 714.3L262.8 713.3L266.6 712.2L270.4 711.1L274.2 710.0L278.0 708.8L281.8 707.7L285.5 706.5L289.3 705.2L293.1 703.9L296.9 702.6L300.7 701.2L304.5 699.7L308.3 698.2L312.0 696.7L315.8 695.1L319.6 693.4L323.4 691.7L327.2 690.0L331.0 688.1L334.7 686.2L338.5 684.3L342.3 682.3L346.1 680.3L349.9 678.2L353.7 676.0L357.4 673.7L361.2 671.3L365.0 668.8L368.8 666.1L372.6 663.2L376.4 660.0L380.2 656.7L383.9 653.2L387.7 649.4L391.5 645.5L395.3 641.3L399.1 636.6L402.9 631.6L406.6 626.3L410.4 620.9L414.2 615.6L418.0 610.5L421.8 605.0L425.6 599.6L429.3 595.4L433.1 592.5L436.9 590.2L440.7 588.5M103.9 746.6L107.7 746.3L111.5 745.8L115.3 745.4L119.0 745.0L122.8 744.5L126.6 744.0L130.4 743.4L134.2 742.8L138.0 742.2L141.7 741.6L145.5 740.9L149.3 740.2L153.1 739.4L156.9 738.6L160.7 737.8L164.4 736.9L168.2 736.0L172.0 735.0L175.8 734.1L179.6 733.1L183.4 732.1L187.2 731.1L190.9 730.1L194.7 729.1L198.5 728.1L202.3 727.2L206.1 726.2L209.9 725.2L213.6 724.2L217.4 723.3L221.2 722.3L225.0 721.3L228.8 720.4L232.6 719.4L236.3 718.4L240.1 717.4L243.9 716.3L247.7 715.3L251.5 714.2L255.3 713.1L259.1 712.0L262.8 710.8L266.6 709.6L270.4 708.4L274.2 707.1L278.0 705.8L281.8 704.4L285.5 703.0L289.3 701.6L293.1 700.1L296.9 698.5L300.7 696.9L304.5 695.2L308.3 693.5L312.0 691.8L315.8 690.0L319.6 688.2L323.4 686.3L327.2 684.4L331.0 682.4L334.7 680.4L338.5 678.3L342.3 676.3L346.1 674.1L349.9 671.9L353.7 669.7L357.4 667.3L361.2 664.8L365.0 662.2L368.8 659.4L372.6 656.5L376.4 653.4L380.2 650.1L383.9 646.5L387.7 642.8L391.5 638.8L395.3 634.4L399.1 629.5L402.9 624.1L406.6 618.4L410.4 612.6L414.2 607.0L418.0 601.7L421.8 596.4L425.6 591.2L429.3 586.8L433.1 583.3L436.9 580.4L440.7 578.1M103.9 748.4L107.7 748.0L111.5 747.6L115.3 747.2L119.0 746.8L122.8 746.3L126.6 745.9L130.4 745.4L134.2 744.9L138.0 744.3L141.7 743.8L145.5 743.2L149.3 742.6L153.1 741.9L156.9 741.2L160.7 740.4L164.4 739.6L168.2 738.8L172.0 737.9L175.8 737.0L179.6 736.1L183.4 735.2L187.2 734.2L190.9 733.3L194.7 732.3L198.5 731.4L202.3 730.4L206.1 729.4L209.9 728.5L213.6 727.5L217.4 726.5L221.2 725.5L225.0 724.6L228.8 723.6L232.6 722.6L236.3 721.6L240.1 720.7L243.9 719.7L247.7 718.7L251.5 717.7L255.3 716.7L259.1 715.7L262.8 714.7L266.6 713.7L270.4 712.6L274.2 711.5L278.0 710.4L281.8 709.2L285.5 708.0L289.3 706.7L293.1 705.4L296.9 704.0L300.7 702.6L304.5 701.2L308.3 699.6L312.0 698.1L315.8 696.5L319.6 694.8L323.4 693.1L327.2 691.3L331.0 689.5L334.7 687.7L338.5 685.8L342.3 683.9L346.1 681.9L349.9 679.9L353.7 677.8L357.4 675.7L361.2 673.4L365.0 670.9L368.8 668.4L372.6 665.6L376.4 662.5L380.2 659.3L383.9 655.8L387.7 652.2L391.5 648.3L395.3 644.3L399.1 639.7L402.9 634.8L406.6 629.7L410.4 624.4L414.2 619.2L418.0 614.1L421.8 608.5L425.6 603.0L429.3 598.7L433.1 596.0L436.9 593.7L440.7 592.2M103.9 748.4L107.7 747.9L111.5 747.3L115.3 746.8L119.0 746.3L122.8 745.7L126.6 745.1L130.4 744.6L134.2 744.0L138.0 743.5L141.7 742.9L145.5 742.3L149.3 741.8L153.1 741.2L156.9 740.6L160.7 740.0L164.4 739.3L168.2 738.7L172.0 738.0L175.8 737.3L179.6 736.5L183.4 735.8L187.2 735.0L190.9 734.2L194.7 733.3L198.5 732.5L202.3 731.6L206.1 730.6L209.9 729.7L213.6 728.7L217.4 727.6L221.2 726.6L225.0 725.5L228.8 724.4L232.6 723.3L236.3 722.2L240.1 721.0L243.9 719.9L247.7 718.7L251.5 717.6L255.3 716.5L259.1 715.3L262.8 714.2L266.6 713.0L270.4 711.9L274.2 710.7L278.0 709.5L281.8 708.4L285.5 707.2L289.3 705.9L293.1 704.7L296.9 703.4L300.7 702.2L304.5 700.8L308.3 699.5L312.0 698.1L315.8 696.6L319.6 695.2L323.4 693.6L327.2 692.1L331.0 690.4L334.7 688.7L338.5 687.0L342.3 685.1L346.1 683.2L349.9 681.3L353.7 679.2L357.4 677.0L361.2 674.7L365.0 672.3L368.8 669.6L372.6 666.7L376.4 663.5L380.2 660.1L383.9 656.5L387.7 652.7L391.5 648.7L395.3 644.5L399.1 639.8L402.9 634.7L406.6 629.4L410.4 624.1L414.2 618.8L418.0 613.6L421.8 608.0L425.6 602.4L429.3 598.2L433.1 595.5L436.9 593.4L440.7 592.0M103.9 749.6L107.7 749.1L111.5 748.6L115.3 748.1L119.0 747.5L122.8 746.9L126.6 746.3L130.4 745.6L134.2 745.0L138.0 744.3L141.7 743.6L145.5 742.9L149.3 742.2L153.1 741.5L156.9 740.8L160.7 740.1L164.4 739.4L168.2 738.6L172.0 737.9L175.8 737.1L179.6 736.4L183.4 735.7L187.2 734.9L190.9 734.2L194.7 733.4L198.5 732.7L202.3 731.9L206.1 731.1L209.9 730.3L213.6 729.5L217.4 728.6L221.2 727.7L225.0 726.8L228.8 725.8L232.6 724.8L236.3 723.8L240.1 722.8L243.9 721.8L247.7 720.7L251.5 719.6L255.3 718.5L259.1 717.3L262.8 716.1L266.6 715.0L270.4 713.8L274.2 712.5L278.0 711.3L281.8 710.0L285.5 708.7L289.3 707.4L293.1 706.0L296.9 704.7L300.7 703.3L304.5 701.9L308.3 700.5L312.0 699.0L315.8 697.6L319.6 696.1L323.4 694.6L327.2 693.0L331.0 691.5L334.7 689.9L338.5 688.2L342.3 686.6L346.1 684.8L349.9 683.1L353.7 681.2L357.4 679.2L361.2 677.1L365.0 674.9L368.8 672.4L372.6 669.7L376.4 666.7L380.2 663.5L383.9 660.0L387.7 656.3L391.5 652.4L395.3 648.2L399.1 643.6L402.9 638.7L406.6 633.5L410.4 628.2L414.2 622.9L418.0 617.7L421.8 611.9L425.6 606.1L429.3 601.8L433.1 599.1L436.9 597.0L440.7 595.6M103.9 749.1L107.7 748.6L111.5 748.1L115.3 747.6L119.0 747.0L122.8 746.5L126.6 746.0L130.4 745.4L134.2 744.9L138.0 744.3L141.7 743.8L145.5 743.2L149.3 742.7L153.1 742.1L156.9 741.5L160.7 741.0L164.4 740.3L168.2 739.7L172.0 739.0L175.8 738.3L179.6 737.6L183.4 736.9L187.2 736.1L190.9 735.3L194.7 734.5L198.5 733.6L202.3 732.7L206.1 731.8L209.9 730.9L213.6 729.9L217.4 728.9L221.2 727.8L225.0 726.8L228.8 725.7L232.6 724.6L236.3 723.5L240.1 722.4L243.9 721.3L247.7 720.1L251.5 719.0L255.3 717.9L259.1 716.8L262.8 715.7L266.6 714.7L270.4 713.6L274.2 712.5L278.0 711.4L281.8 710.2L285.5 709.1L289.3 708.0L293.1 706.8L296.9 705.6L300.7 704.3L304.5 703.1L308.3 701.8L312.0 700.5L315.8 699.1L319.6 697.7L323.4 696.2L327.2 694.7L331.0 693.1L334.7 691.4L338.5 689.8L342.3 688.0L346.1 686.2L349.9 684.3L353.7 682.3L357.4 680.2L361.2 678.0L365.0 675.6L368.8 673.0L372.6 670.2L376.4 667.1L380.2 663.7L383.9 660.2L387.7 656.4L391.5 652.5L395.3 648.3L399.1 643.8L402.9 639.0L406.6 633.9L410.4 628.7L414.2 623.5L418.0 618.5L421.8 612.7L425.6 607.0L429.3 602.9L433.1 600.4L436.9 598.5L440.7 597.4M103.9 749.9L107.7 749.4L111.5 748.8L115.3 748.3L119.0 747.7L122.8 747.1L126.6 746.5L130.4 745.8L134.2 745.2L138.0 744.5L141.7 743.9L145.5 743.2L149.3 742.6L153.1 741.9L156.9 741.3L160.7 740.6L164.4 740.0L168.2 739.3L172.0 738.6L175.8 737.9L179.6 737.2L183.4 736.5L187.2 735.8L190.9 735.1L194.7 734.4L198.5 733.6L202.3 732.8L206.1 732.0L209.9 731.2L213.6 730.3L217.4 729.4L221.2 728.5L225.0 727.6L228.8 726.6L232.6 725.5L236.3 724.5L240.1 723.4L243.9 722.4L247.7 721.3L251.5 720.1L255.3 719.0L259.1 717.9L262.8 716.7L266.6 715.6L270.4 714.4L274.2 713.2L278.0 712.0L281.8 710.8L285.5 709.5L289.3 708.3L293.1 707.0L296.9 705.7L300.7 704.4L304.5 703.1L308.3 701.8L312.0 700.4L315.8 699.0L319.6 697.6L323.4 696.2L327.2 694.7L331.0 693.2L334.7 691.7L338.5 690.1L342.3 688.4L346.1 686.7L349.9 685.0L353.7 683.1L357.4 681.2L361.2 679.1L365.0 676.9L368.8 674.4L372.6 671.7L376.4 668.7L380.2 665.4L383.9 661.9L387.7 658.1L391.5 654.2L395.3 650.1L399.1 645.6L402.9 640.8L406.6 635.7L410.4 630.5L414.2 625.2L418.0 620.1L421.8 614.2L425.6 608.3L429.3 604.1L433.1 601.6L436.9 599.6L440.7 598.5M103.9 750.8L107.7 750.4L111.5 749.9L115.3 749.3L119.0 748.8L122.8 748.2L126.6 747.6L130.4 747.0L134.2 746.3L138.0 745.7L141.7 745.0L145.5 744.3L149.3 743.6L153.1 742.9L156.9 742.2L160.7 741.5L164.4 740.8L168.2 740.1L172.0 739.3L175.8 738.6L179.6 737.9L183.4 737.2L187.2 736.5L190.9 735.7L194.7 735.0L198.5 734.3L202.3 733.5L206.1 732.8L209.9 732.0L213.6 731.2L217.4 730.3L221.2 729.5L225.0 728.6L228.8 727.7L232.6 726.8L236.3 725.8L240.1 724.9L243.9 723.9L247.7 722.9L251.5 721.8L255.3 720.8L259.1 719.7L262.8 718.6L266.6 717.5L270.4 716.4L274.2 715.3L278.0 714.1L281.8 712.9L285.5 711.7L289.3 710.4L293.1 709.2L296.9 707.9L300.7 706.5L304.5 705.2L308.3 703.8L312.0 702.5L315.8 701.1L319.6 699.7L323.4 698.2L327.2 696.8L331.0 695.3L334.7 693.8L338.5 692.3L342.3 690.7L346.1 689.1L349.9 687.4L353.7 685.7L357.4 683.9L361.2 681.9L365.0 679.8L368.8 677.5L372.6 674.9L376.4 672.0L380.2 668.9L383.9 665.5L387.7 661.9L391.5 658.1L395.3 654.1L399.1 649.8L402.9 645.2L406.6 640.3L410.4 635.3L414.2 630.2L418.0 625.1L421.8 619.1L425.6 613.0L429.3 608.8L433.1 606.5L436.9 604.7L440.7 603.8M103.9 749.0L107.7 748.7L111.5 748.2L115.3 747.8L119.0 747.3L122.8 746.8L126.6 746.3L130.4 745.7L134.2 745.1L138.0 744.5L141.7 743.9L145.5 743.2L149.3 742.5L153.1 741.7L156.9 740.9L160.7 740.1L164.4 739.3L168.2 738.4L172.0 737.6L175.8 736.7L179.6 735.8L183.4 734.9L187.2 734.0L190.9 733.1L194.7 732.3L198.5 731.4L202.3 730.5L206.1 729.7L209.9 728.8L213.6 727.9L217.4 727.0L221.2 726.2L225.0 725.3L228.8 724.4L232.6 723.4L236.3 722.5L240.1 721.6L243.9 720.6L247.7 719.6L251.5 718.6L255.3 717.6L259.1 716.6L262.8 715.5L266.6 714.4L270.4 713.3L274.2 712.1L278.0 710.9L281.8 709.6L285.5 708.3L289.3 707.0L293.1 705.6L296.9 704.2L300.7 702.7L304.5 701.2L308.3 699.6L312.0 698.1L315.8 696.4L319.6 694.8L323.4 693.1L327.2 691.4L331.0 689.7L334.7 687.9L338.5 686.1L342.3 684.3L346.1 682.4L349.9 680.5L353.7 678.6L357.4 676.5L361.2 674.4L365.0 672.0L368.8 669.6L372.6 666.9L376.4 663.9L380.2 660.7L383.9 657.3L387.7 653.7L391.5 649.8L395.3 645.8L399.1 641.2L402.9 636.3L406.6 631.2L410.4 625.9L414.2 620.6L418.0 615.4L421.8 609.7L425.6 604.0L429.3 599.7L433.1 597.0L436.9 594.7L440.7 593.1M103.9 747.3L107.7 746.9L111.5 746.5L115.3 746.0L119.0 745.6L122.8 745.1L126.6 744.6L130.4 744.2L134.2 743.6L138.0 743.1L141.7 742.6L145.5 742.1L149.3 741.5L153.1 740.9L156.9 740.2L160.7 739.5L164.4 738.8L168.2 738.0L172.0 737.2L175.8 736.3L179.6 735.4L183.4 734.5L187.2 733.6L190.9 732.6L194.7 731.6L198.5 730.6L202.3 729.6L206.1 728.6L209.9 727.6L213.6 726.5L217.4 725.5L221.2 724.4L225.0 723.3L228.8 722.3L232.6 721.2L236.3 720.1L240.1 719.0L243.9 718.0L247.7 716.9L251.5 715.8L255.3 714.7L259.1 713.7L262.8 712.6L266.6 711.5L270.4 710.4L274.2 709.2L278.0 708.1L281.8 706.9L285.5 705.7L289.3 704.4L293.1 703.1L296.9 701.8L300.7 700.4L304.5 698.9L308.3 697.4L312.0 695.9L315.8 694.3L319.6 692.6L323.4 690.9L327.2 689.1L331.0 687.3L334.7 685.4L338.5 683.4L342.3 681.4L346.1 679.3L349.9 677.2L353.7 675.0L357.4 672.6L361.2 670.2L365.0 667.6L368.8 664.9L372.6 661.9L376.4 658.8L380.2 655.4L383.9 651.8L387.7 648.0L391.5 644.1L395.3 639.8L399.1 635.1L402.9 630.0L406.6 624.6L410.4 619.1L414.2 613.7L418.0 608.6L421.8 603.2L425.6 597.8L429.3 593.6L433.1 590.7L436.9 588.2L440.7 586.5M103.9 746.9L107.7 746.5L111.5 746.1L115.3 745.6L119.0 745.2L122.8 744.7L126.6 744.3L130.4 743.8L134.2 743.3L138.0 742.7L141.7 742.2L145.5 741.6L149.3 741.0L153.1 740.3L156.9 739.6L160.7 738.9L164.4 738.1L168.2 737.3L172.0 736.4L175.8 735.5L179.6 734.5L183.4 733.6L187.2 732.6L190.9 731.6L194.7 730.6L198.5 729.6L202.3 728.6L206.1 727.5L209.9 726.5L213.6 725.5L217.4 724.4L221.2 723.4L225.0 722.3L228.8 721.3L232.6 720.2L236.3 719.2L240.1 718.1L243.9 717.1L247.7 716.0L251.5 714.9L255.3 713.9L259.1 712.8L262.8 711.7L266.6 710.6L270.4 709.4L274.2 708.3L278.0 707.1L281.8 705.8L285.5 704.5L289.3 703.2L293.1 701.8L296.9 700.4L300.7 699.0L304.5 697.4L308.3 695.9L312.0 694.2L315.8 692.5L319.6 690.8L323.4 689.0L327.2 687.1L331.0 685.2L334.7 683.3L338.5 681.3L342.3 679.2L346.1 677.1L349.9 674.9L353.7 672.6L357.4 670.2L361.2 667.8L365.0 665.1L368.8 662.4L372.6 659.4L376.4 656.2L380.2 652.9L383.9 649.3L387.7 645.5L391.5 641.5L395.3 637.3L399.1 632.5L402.9 627.2L406.6 621.7L410.4 616.1L414.2 610.7L418.0 605.5L421.8 600.1L425.6 594.9L429.3 590.6L433.1 587.5L436.9 584.8L440.7 582.8M103.9 747.8L107.7 747.4L111.5 746.9L115.3 746.4L119.0 745.8L122.8 745.2L126.6 744.6L130.4 743.9L134.2 743.2L138.0 742.5L141.7 741.8L145.5 741.1L149.3 740.3L153.1 739.6L156.9 738.8L160.7 738.0L164.4 737.1L168.2 736.3L172.0 735.5L175.8 734.6L179.6 733.8L183.4 733.0L187.2 732.1L190.9 731.3L194.7 730.5L198.5 729.7L202.3 728.8L206.1 728.0L209.9 727.1L213.6 726.3L217.4 725.4L221.2 724.5L225.0 723.6L228.8 722.6L232.6 721.6L236.3 720.6L240.1 719.5L243.9 718.5L247.7 717.3L251.5 716.2L255.3 715.0L259.1 713.8L262.8 712.5L266.6 711.3L270.4 709.9L274.2 708.6L278.0 707.2L281.8 705.8L285.5 704.4L289.3 702.9L293.1 701.4L296.9 699.9L300.7 698.3L304.5 696.8L308.3 695.2L312.0 693.5L315.8 691.9L319.6 690.2L323.4 688.5L327.2 686.8L331.0 685.1L334.7 683.3L338.5 681.4L342.3 679.6L346.1 677.6L349.9 675.7L353.7 673.6L357.4 671.4L361.2 669.1L365.0 666.6L368.8 664.0L372.6 661.1L376.4 658.1L380.2 654.7L383.9 651.2L387.7 647.4L391.5 643.4L395.3 639.0L399.1 634.1L402.9 628.8L406.6 623.2L410.4 617.4L414.2 611.8L418.0 606.5L421.8 600.9L425.6 595.4L429.3 591.0L433.1 587.8L436.9 585.0L440.7 583.0M103.9 747.8L107.7 747.3L111.5 746.8L115.3 746.2L119.0 745.6L122.8 745.0L126.6 744.4L130.4 743.7L134.2 743.0L138.0 742.3L141.7 741.6L145.5 740.9L149.3 740.2L153.1 739.5L156.9 738.7L160.7 738.0L164.4 737.2L168.2 736.4L172.0 735.7L175.8 734.9L179.6 734.1L183.4 733.3L187.2 732.5L190.9 731.7L194.7 730.9L198.5 730.1L202.3 729.3L206.1 728.4L209.9 727.6L213.6 726.7L217.4 725.8L221.2 724.8L225.0 723.9L228.8 722.9L232.6 721.8L236.3 720.8L240.1 719.7L243.9 718.5L247.7 717.3L251.5 716.2L255.3 714.9L259.1 713.7L262.8 712.4L266.6 711.1L270.4 709.8L274.2 708.4L278.0 707.1L281.8 705.7L285.5 704.3L289.3 702.8L293.1 701.4L296.9 699.9L300.7 698.4L304.5 696.9L308.3 695.3L312.0 693.8L315.8 692.2L319.6 690.6L323.4 689.0L327.2 687.3L331.0 685.6L334.7 683.8L338.5 682.0L342.3 680.2L346.1 678.3L349.9 676.3L353.7 674.2L357.4 672.0L361.2 669.7L365.0 667.2L368.8 664.5L372.6 661.6L376.4 658.5L380.2 655.1L383.9 651.5L387.7 647.7L391.5 643.6L395.3 639.2L399.1 634.3L402.9 628.9L406.6 623.3L410.4 617.6L414.2 612.0L418.0 606.6L421.8 601.0L425.6 595.6L429.3 591.2L433.1 588.0L436.9 585.3L440.7 583.3M103.9 746.8L107.7 746.4L111.5 746.0L115.3 745.6L119.0 745.1L122.8 744.6L126.6 744.0L130.4 743.4L134.2 742.8L138.0 742.2L141.7 741.5L145.5 740.8L149.3 740.0L153.1 739.3L156.9 738.4L160.7 737.6L164.4 736.7L168.2 735.7L172.0 734.8L175.8 733.8L179.6 732.9L183.4 731.9L187.2 730.9L190.9 730.0L194.7 729.0L198.5 728.1L202.3 727.1L206.1 726.2L209.9 725.3L213.6 724.4L217.4 723.4L221.2 722.5L225.0 721.5L228.8 720.6L232.6 719.6L236.3 718.6L240.1 717.6L243.9 716.6L247.7 715.5L251.5 714.4L255.3 713.3L259.1 712.2L262.8 711.0L266.6 709.7L270.4 708.5L274.2 707.2L278.0 705.8L281.8 704.4L285.5 703.0L289.3 701.5L293.1 699.9L296.9 698.3L300.7 696.7L304.5 695.0L308.3 693.3L312.0 691.6L315.8 689.8L319.6 687.9L323.4 686.1L327.2 684.2L331.0 682.2L334.7 680.3L338.5 678.3L342.3 676.2L346.1 674.1L349.9 672.0L353.7 669.7L357.4 667.4L361.2 665.0L365.0 662.4L368.8 659.7L372.6 656.8L376.4 653.6L380.2 650.3L383.9 646.8L387.7 643.0L391.5 639.0L395.3 634.7L399.1 629.7L402.9 624.3L406.6 618.6L410.4 612.8L414.2 607.1L418.0 601.8L421.8 596.4L425.6 591.1L429.3 586.7L433.1 583.2L436.9 580.3L440.7 577.9M103.9 751.2L107.7 750.8L111.5 750.4L115.3 750.0L119.0 749.5L122.8 749.1L126.6 748.6L130.4 748.1L134.2 747.6L138.0 747.1L141.7 746.5L145.5 746.0L149.3 745.4L153.1 744.9L156.9 744.3L160.7 743.7L164.4 743.0L168.2 742.4L172.0 741.7L175.8 741.0L179.6 740.3L183.4 739.6L187.2 738.9L190.9 738.2L194.7 737.4L198.5 736.6L202.3 735.8L206.1 735.0L209.9 734.2L213.6 733.3L217.4 732.4L221.2 731.5L225.0 730.6L228.8 729.6L232.6 728.7L236.3 727.7L240.1 726.8L243.9 725.9L247.7 724.9L251.5 724.0L255.3 723.1L259.1 722.2L262.8 721.2L266.6 720.3L270.4 719.4L274.2 718.4L278.0 717.5L281.8 716.5L285.5 715.5L289.3 714.4L293.1 713.4L296.9 712.3L300.7 711.1L304.5 709.9L308.3 708.7L312.0 707.5L315.8 706.3L319.6 705.0L323.4 703.6L327.2 702.3L331.0 700.9L334.7 699.5L338.5 698.1L342.3 696.6L346.1 695.1L349.9 693.6L353.7 692.1L357.4 690.4L361.2 688.7L365.0 686.8L368.8 684.7L372.6 682.4L376.4 679.7L380.2 676.7L383.9 673.5L387.7 670.1L391.5 666.7L395.3 663.1L399.1 659.1L402.9 654.8L406.6 650.4L410.4 646.0L414.2 641.8L418.0 637.9L421.8 634.1L425.6 630.4L429.3 627.6L433.1 625.6L436.9 624.0L440.7 623.0" fill="none" stroke="#7a93e6" stroke-width="1.3" stroke-linejoin="round"/>
<path d="M446.6 614.9L449.6 618.5L452.6 622.2L455.7 625.8L458.7 629.4L461.7 633.0L464.7 636.5L467.8 640.0L470.8 643.6L473.8 647.2L476.8 650.8L479.8 654.3L482.9 657.7L485.9 660.9L488.9 664.0L491.9 666.8L495.0 669.5L498.0 672.2L501.0 674.7L504.0 677.1L507.0 679.3L510.1 681.4L513.1 683.4L516.1 685.2L519.1 686.8L522.2 688.3L525.2 689.7L528.2 691.0L531.2 692.3L534.3 693.6L537.3 694.9L540.3 696.2L543.3 697.5L546.3 698.9L549.4 700.2L552.4 701.5L555.4 702.8L558.4 704.1L561.5 705.5L564.5 706.9L567.5 708.3L570.5 709.7L573.5 711.2L576.6 712.7L579.6 714.1L582.6 715.6L585.6 717.0L588.7 718.5L591.7 719.9L594.7 721.3L597.7 722.7L600.7 724.2L603.8 725.5L606.8 726.8L609.8 728.0L612.8 729.1L615.9 730.1L618.9 730.9L621.9 731.8L624.9 732.5L627.9 733.2L631.0 733.9L634.0 734.6L637.0 735.3L640.0 736.0L643.1 736.8L646.1 737.5L649.1 738.2L652.1 738.8L655.2 739.5L658.2 740.1L661.2 740.7L664.2 741.2L667.2 741.7L670.3 742.2L673.3 742.6L676.3 743.1L679.3 743.6L682.4 744.0L685.4 744.6L688.4 745.1L691.4 745.7L694.4 746.3L697.5 746.9L700.5 747.6L703.5 748.2L706.5 748.9L709.6 749.7L712.6 750.4L715.6 751.2M446.6 576.3L449.6 578.1L452.6 580.3L455.7 582.7L458.7 585.3L461.7 588.2L464.7 591.3L467.8 594.6L470.8 598.5L473.8 602.9L476.8 607.7L479.8 612.7L482.9 617.8L485.9 622.6L488.9 627.2L491.9 631.2L495.0 635.1L498.0 638.9L501.0 642.5L504.0 646.1L507.0 649.4L510.1 652.6L513.1 655.6L516.1 658.4L519.1 661.0L522.2 663.4L525.2 665.7L528.2 667.9L531.2 669.9L534.3 672.0L537.3 674.0L540.3 676.0L543.3 677.9L546.3 679.8L549.4 681.7L552.4 683.5L555.4 685.2L558.4 687.0L561.5 688.6L564.5 690.3L567.5 691.9L570.5 693.6L573.5 695.2L576.6 696.8L579.6 698.4L582.6 699.8L585.6 701.2L588.7 702.6L591.7 703.8L594.7 704.9L597.7 706.0L600.7 707.1L603.8 708.2L606.8 709.2L609.8 710.3L612.8 711.5L615.9 712.7L618.9 713.9L621.9 715.2L624.9 716.5L627.9 717.7L631.0 719.0L634.0 720.2L637.0 721.4L640.0 722.5L643.1 723.6L646.1 724.7L649.1 725.7L652.1 726.7L655.2 727.7L658.2 728.7L661.2 729.6L664.2 730.6L667.2 731.4L670.3 732.3L673.3 733.1L676.3 733.9L679.3 734.7L682.4 735.5L685.4 736.4L688.4 737.3L691.4 738.2L694.4 739.2L697.5 740.2L700.5 741.2L703.5 742.2L706.5 743.3L709.6 744.3L712.6 745.4L715.6 746.5M446.6 609.1L449.6 612.3L452.6 615.4L455.7 618.6L458.7 621.9L461.7 625.1L464.7 628.3L467.8 631.6L470.8 635.1L473.8 638.6L476.8 642.3L479.8 645.9L482.9 649.5L485.9 652.9L488.9 656.2L491.9 659.2L495.0 662.1L498.0 664.9L501.0 667.7L504.0 670.4L507.0 672.9L510.1 675.4L513.1 677.7L516.1 679.8L519.1 681.8L522.2 683.6L525.2 685.4L528.2 687.1L531.2 688.7L534.3 690.3L537.3 691.9L540.3 693.6L543.3 695.2L546.3 696.8L549.4 698.3L552.4 699.8L555.4 701.3L558.4 702.8L561.5 704.3L564.5 705.7L567.5 707.2L570.5 708.6L573.5 710.0L576.6 711.4L579.6 712.8L582.6 714.1L585.6 715.4L588.7 716.7L591.7 717.9L594.7 719.0L597.7 720.2L600.7 721.3L603.8 722.4L606.8 723.5L609.8 724.4L612.8 725.3L615.9 726.2L618.9 726.9L621.9 727.7L624.9 728.4L627.9 729.1L631.0 729.8L634.0 730.6L637.0 731.3L640.0 732.1L643.1 732.9L646.1 733.8L649.1 734.6L652.1 735.4L655.2 736.3L658.2 737.1L661.2 737.9L664.2 738.7L667.2 739.5L670.3 740.3L673.3 741.0L676.3 741.7L679.3 742.5L682.4 743.2L685.4 744.0L688.4 744.8L691.4 745.6L694.4 746.4L697.5 747.2L700.5 748.0L703.5 748.8L706.5 749.6L709.6 750.4L712.6 751.2L715.6 752.0M446.6 594.0L449.6 596.8L452.6 599.7L455.7 602.8L458.7 606.0L461.7 609.2L464.7 612.6L467.8 616.0L470.8 619.8L473.8 623.9L476.8 628.1L479.8 632.5L482.9 636.7L485.9 640.8L488.9 644.6L491.9 648.0L495.0 651.2L498.0 654.4L501.0 657.4L504.0 660.2L507.0 663.0L510.1 665.5L513.1 667.9L516.1 670.1L519.1 672.1L522.2 674.0L525.2 675.8L528.2 677.4L531.2 679.1L534.3 680.7L537.3 682.3L540.3 683.9L543.3 685.6L546.3 687.2L549.4 688.8L552.4 690.4L555.4 692.1L558.4 693.7L561.5 695.3L564.5 696.9L567.5 698.6L570.5 700.3L573.5 701.9L576.6 703.6L579.6 705.3L582.6 706.9L585.6 708.5L588.7 710.0L591.7 711.4L594.7 712.9L597.7 714.2L600.7 715.6L603.8 716.9L606.8 718.1L609.8 719.3L612.8 720.5L615.9 721.6L618.9 722.7L621.9 723.7L624.9 724.8L627.9 725.7L631.0 726.7L634.0 727.6L637.0 728.4L640.0 729.3L643.1 730.0L646.1 730.8L649.1 731.5L652.1 732.3L655.2 732.9L658.2 733.6L661.2 734.2L664.2 734.9L667.2 735.4L670.3 736.0L673.3 736.5L676.3 737.1L679.3 737.7L682.4 738.3L685.4 738.9L688.4 739.7L691.4 740.4L694.4 741.3L697.5 742.1L700.5 743.0L703.5 743.9L706.5 744.9L709.6 745.9L712.6 747.0L715.6 748.1M446.6 606.4L449.6 609.5L452.6 612.6L455.7 615.8L458.7 619.0L461.7 622.2L464.7 625.5L467.8 628.9L470.8 632.4L473.8 636.1L476.8 639.9L479.8 643.7L482.9 647.5L485.9 651.1L488.9 654.5L491.9 657.7L495.0 660.8L498.0 663.8L501.0 666.7L504.0 669.5L507.0 672.1L510.1 674.7L513.1 677.1L516.1 679.3L519.1 681.3L522.2 683.2L525.2 685.0L528.2 686.7L531.2 688.3L534.3 689.9L537.3 691.5L540.3 693.1L543.3 694.7L546.3 696.2L549.4 697.7L552.4 699.1L555.4 700.5L558.4 701.9L561.5 703.3L564.5 704.7L567.5 706.0L570.5 707.4L573.5 708.7L576.6 710.1L579.6 711.4L582.6 712.7L585.6 713.9L588.7 715.1L591.7 716.3L594.7 717.4L597.7 718.6L600.7 719.8L603.8 720.9L606.8 722.0L609.8 723.0L612.8 724.0L615.9 724.9L618.9 725.8L621.9 726.6L624.9 727.5L627.9 728.3L631.0 729.2L634.0 730.1L637.0 730.9L640.0 731.8L643.1 732.8L646.1 733.7L649.1 734.6L652.1 735.5L655.2 736.4L658.2 737.3L661.2 738.2L664.2 739.0L667.2 739.8L670.3 740.5L673.3 741.3L676.3 742.0L679.3 742.7L682.4 743.4L685.4 744.1L688.4 744.8L691.4 745.6L694.4 746.3L697.5 747.0L700.5 747.7L703.5 748.4L706.5 749.2L709.6 749.9L712.6 750.6L715.6 751.3M446.6 594.6L449.6 597.2L452.6 600.0L455.7 602.9L458.7 605.9L461.7 609.0L464.7 612.2L467.8 615.6L470.8 619.3L473.8 623.3L476.8 627.5L479.8 631.8L482.9 636.0L485.9 640.2L488.9 644.0L491.9 647.6L495.0 650.9L498.0 654.2L501.0 657.4L504.0 660.5L507.0 663.5L510.1 666.3L513.1 668.9L516.1 671.3L519.1 673.6L522.2 675.7L525.2 677.6L528.2 679.5L531.2 681.3L534.3 683.0L537.3 684.8L540.3 686.5L543.3 688.2L546.3 689.9L549.4 691.5L552.4 693.0L555.4 694.6L558.4 696.1L561.5 697.5L564.5 699.0L567.5 700.5L570.5 701.9L573.5 703.4L576.6 704.8L579.6 706.2L582.6 707.6L585.6 708.9L588.7 710.1L591.7 711.3L594.7 712.5L597.7 713.6L600.7 714.8L603.8 715.9L606.8 717.0L609.8 718.0L612.8 719.1L615.9 720.1L618.9 721.2L621.9 722.2L624.9 723.3L627.9 724.3L631.0 725.3L634.0 726.3L637.0 727.3L640.0 728.3L643.1 729.3L646.1 730.3L649.1 731.3L652.1 732.3L655.2 733.2L658.2 734.1L661.2 735.0L664.2 735.9L667.2 736.7L670.3 737.5L673.3 738.2L676.3 738.9L679.3 739.7L682.4 740.4L685.4 741.2L688.4 741.9L691.4 742.7L694.4 743.5L697.5 744.3L700.5 745.1L703.5 746.0L706.5 746.8L709.6 747.6L712.6 748.5L715.6 749.3M446.6 607.3L449.6 610.6L452.6 614.0L455.7 617.4L458.7 620.9L461.7 624.4L464.7 627.8L467.8 631.3L470.8 635.0L473.8 638.8L476.8 642.6L479.8 646.4L482.9 650.1L485.9 653.7L488.9 657.0L491.9 660.1L495.0 663.0L498.0 665.8L501.0 668.5L504.0 671.1L507.0 673.5L510.1 675.8L513.1 677.9L516.1 679.8L519.1 681.6L522.2 683.2L525.2 684.7L528.2 686.2L531.2 687.6L534.3 689.0L537.3 690.4L540.3 691.8L543.3 693.3L546.3 694.7L549.4 696.1L552.4 697.5L555.4 698.9L558.4 700.3L561.5 701.8L564.5 703.2L567.5 704.7L570.5 706.3L573.5 707.8L576.6 709.3L579.6 710.9L582.6 712.4L585.6 713.9L588.7 715.3L591.7 716.8L594.7 718.2L597.7 719.6L600.7 721.0L603.8 722.3L606.8 723.6L609.8 724.8L612.8 725.9L615.9 727.0L618.9 728.0L621.9 728.9L624.9 729.7L627.9 730.6L631.0 731.3L634.0 732.1L637.0 732.9L640.0 733.6L643.1 734.4L646.1 735.1L649.1 735.8L652.1 736.5L655.2 737.2L658.2 737.8L661.2 738.4L664.2 739.0L667.2 739.5L670.3 740.0L673.3 740.5L676.3 741.0L679.3 741.5L682.4 742.0L685.4 742.6L688.4 743.2L691.4 743.8L694.4 744.5L697.5 745.2L700.5 745.9L703.5 746.7L706.5 747.5L709.6 748.3L712.6 749.1L715.6 750.0M446.6 600.6L449.6 603.4L452.6 606.3L455.7 609.2L458.7 612.3L461.7 615.4L464.7 618.6L467.8 621.9L470.8 625.5L473.8 629.3L476.8 633.2L479.8 637.2L482.9 641.2L485.9 645.0L488.9 648.6L491.9 651.9L495.0 655.0L498.0 658.1L501.0 661.1L504.0 664.0L507.0 666.8L510.1 669.5L513.1 672.0L516.1 674.3L519.1 676.4L522.2 678.4L525.2 680.3L528.2 682.2L531.2 683.9L534.3 685.7L537.3 687.4L540.3 689.1L543.3 690.8L546.3 692.5L549.4 694.1L552.4 695.7L555.4 697.3L558.4 698.8L561.5 700.3L564.5 701.8L567.5 703.3L570.5 704.8L573.5 706.2L576.6 707.7L579.6 709.1L582.6 710.4L585.6 711.7L588.7 713.0L591.7 714.2L594.7 715.3L597.7 716.5L600.7 717.6L603.8 718.7L606.8 719.7L609.8 720.7L612.8 721.6L615.9 722.6L618.9 723.5L621.9 724.3L624.9 725.2L627.9 726.1L631.0 726.9L634.0 727.8L637.0 728.7L640.0 729.6L643.1 730.5L646.1 731.4L649.1 732.3L652.1 733.2L655.2 734.1L658.2 734.9L661.2 735.8L664.2 736.7L667.2 737.5L670.3 738.2L673.3 739.0L676.3 739.8L679.3 740.5L682.4 741.3L685.4 742.1L688.4 743.0L691.4 743.8L694.4 744.6L697.5 745.5L700.5 746.3L703.5 747.2L706.5 748.1L709.6 748.9L712.6 749.8L715.6 750.6M446.6 583.6L449.6 585.7L452.6 588.0L455.7 590.6L458.7 593.3L461.7 596.2L464.7 599.3L467.8 602.5L470.8 606.3L473.8 610.5L476.8 615.0L479.8 619.7L482.9 624.4L485.9 628.9L488.9 633.1L491.9 636.9L495.0 640.5L498.0 644.0L501.0 647.4L504.0 650.8L507.0 653.9L510.1 657.0L513.1 659.8L516.1 662.4L519.1 664.9L522.2 667.2L525.2 669.4L528.2 671.5L531.2 673.5L534.3 675.5L537.3 677.4L540.3 679.4L543.3 681.3L546.3 683.2L549.4 685.1L552.4 686.9L555.4 688.6L558.4 690.4L561.5 692.1L564.5 693.7L567.5 695.4L570.5 697.0L573.5 698.6L576.6 700.2L579.6 701.8L582.6 703.2L585.6 704.6L588.7 705.9L591.7 707.2L594.7 708.3L597.7 709.4L600.7 710.5L603.8 711.5L606.8 712.5L609.8 713.6L612.8 714.6L615.9 715.7L618.9 716.8L621.9 717.9L624.9 719.0L627.9 720.1L631.0 721.2L634.0 722.2L637.0 723.3L640.0 724.3L643.1 725.2L646.1 726.2L649.1 727.2L652.1 728.1L655.2 729.1L658.2 730.0L661.2 730.9L664.2 731.8L667.2 732.7L670.3 733.5L673.3 734.4L676.3 735.2L679.3 736.0L682.4 736.9L685.4 737.8L688.4 738.7L691.4 739.7L694.4 740.6L697.5 741.6L700.5 742.7L703.5 743.7L706.5 744.7L709.6 745.8L712.6 746.9L715.6 748.0M446.6 609.7L449.6 612.9L452.6 616.1L455.7 619.3L458.7 622.6L461.7 625.8L464.7 629.1L467.8 632.4L470.8 635.9L473.8 639.4L476.8 643.1L479.8 646.7L482.9 650.3L485.9 653.8L488.9 657.0L491.9 660.1L495.0 663.0L498.0 665.9L501.0 668.7L504.0 671.4L507.0 674.0L510.1 676.4L513.1 678.7L516.1 680.9L519.1 682.8L522.2 684.7L525.2 686.5L528.2 688.1L531.2 689.8L534.3 691.3L537.3 692.9L540.3 694.5L543.3 696.1L546.3 697.6L549.4 699.1L552.4 700.6L555.4 702.0L558.4 703.4L561.5 704.8L564.5 706.2L567.5 707.6L570.5 709.0L573.5 710.3L576.6 711.7L579.6 713.0L582.6 714.3L585.6 715.5L588.7 716.7L591.7 717.9L594.7 719.0L597.7 720.2L600.7 721.3L603.8 722.4L606.8 723.5L609.8 724.5L612.8 725.4L615.9 726.2L618.9 727.0L621.9 727.8L624.9 728.6L627.9 729.3L631.0 730.1L634.0 730.9L637.0 731.7L640.0 732.5L643.1 733.4L646.1 734.3L649.1 735.1L652.1 736.0L655.2 736.9L658.2 737.8L661.2 738.6L664.2 739.4L667.2 740.2L670.3 741.0L673.3 741.7L676.3 742.4L679.3 743.1L682.4 743.9L685.4 744.6L688.4 745.4L691.4 746.1L694.4 746.9L697.5 747.6L700.5 748.4L703.5 749.1L706.5 749.8L709.6 750.6L712.6 751.3L715.6 752.0M446.6 604.1L449.6 607.1L452.6 610.1L455.7 613.2L458.7 616.3L461.7 619.5L464.7 622.7L467.8 626.0L470.8 629.4L473.8 633.1L476.8 636.9L479.8 640.8L482.9 644.5L485.9 648.2L488.9 651.6L491.9 654.8L495.0 657.8L498.0 660.8L501.0 663.7L504.0 666.5L507.0 669.1L510.1 671.7L513.1 674.1L516.1 676.3L519.1 678.3L522.2 680.3L525.2 682.1L528.2 683.9L531.2 685.6L534.3 687.3L537.3 689.0L540.3 690.7L543.3 692.4L546.3 694.0L549.4 695.6L552.4 697.2L555.4 698.8L558.4 700.3L561.5 701.8L564.5 703.3L567.5 704.8L570.5 706.3L573.5 707.8L576.6 709.3L579.6 710.7L582.6 712.0L585.6 713.4L588.7 714.6L591.7 715.8L594.7 717.0L597.7 718.2L600.7 719.3L603.8 720.4L606.8 721.4L609.8 722.4L612.8 723.3L615.9 724.2L618.9 725.0L621.9 725.8L624.9 726.6L627.9 727.4L631.0 728.2L634.0 728.9L637.0 729.7L640.0 730.6L643.1 731.4L646.1 732.2L649.1 733.1L652.1 734.0L655.2 734.8L658.2 735.6L661.2 736.5L664.2 737.3L667.2 738.1L670.3 738.8L673.3 739.6L676.3 740.3L679.3 741.1L682.4 741.9L685.4 742.7L688.4 743.5L691.4 744.3L694.4 745.2L697.5 746.1L700.5 746.9L703.5 747.8L706.5 748.6L709.6 749.5L712.6 750.4L715.6 751.2M446.6 578.2L449.6 580.4L452.6 582.8L455.7 585.5L458.7 588.4L461.7 591.6L464.7 594.8L467.8 598.3L470.8 602.3L473.8 606.9L476.8 611.7L479.8 616.7L482.9 621.7L485.9 626.5L488.9 630.9L491.9 634.8L495.0 638.5L498.0 642.1L501.0 645.6L504.0 648.9L507.0 652.1L510.1 655.0L513.1 657.7L516.1 660.2L519.1 662.5L522.2 664.7L525.2 666.7L528.2 668.6L531.2 670.4L534.3 672.2L537.3 674.0L540.3 675.8L543.3 677.6L546.3 679.3L549.4 681.1L552.4 682.8L555.4 684.5L558.4 686.2L561.5 687.9L564.5 689.6L567.5 691.3L570.5 693.0L573.5 694.8L576.6 696.5L579.6 698.2L582.6 699.9L585.6 701.5L588.7 703.1L591.7 704.5L594.7 705.9L597.7 707.3L600.7 708.6L603.8 709.9L606.8 711.2L609.8 712.4L612.8 713.7L615.9 715.1L618.9 716.4L621.9 717.7L624.9 719.0L627.9 720.3L631.0 721.5L634.0 722.7L637.0 723.8L640.0 724.8L643.1 725.8L646.1 726.7L649.1 727.5L652.1 728.3L655.2 729.1L658.2 729.8L661.2 730.6L664.2 731.2L667.2 731.9L670.3 732.5L673.3 733.0L676.3 733.6L679.3 734.2L682.4 734.8L685.4 735.5L688.4 736.3L691.4 737.1L694.4 737.9L697.5 738.9L700.5 739.8L703.5 740.8L706.5 741.9L709.6 743.0L712.6 744.1L715.6 745.3M446.6 599.4L449.6 602.3L452.6 605.3L455.7 608.5L458.7 611.7L461.7 615.0L464.7 618.4L467.8 621.9L470.8 625.7L473.8 629.6L476.8 633.8L479.8 638.0L482.9 642.1L485.9 646.1L488.9 649.8L491.9 653.2L495.0 656.5L498.0 659.6L501.0 662.7L504.0 665.6L507.0 668.4L510.1 671.1L513.1 673.5L516.1 675.7L519.1 677.8L522.2 679.7L525.2 681.4L528.2 683.1L531.2 684.7L534.3 686.2L537.3 687.8L540.3 689.3L543.3 690.8L546.3 692.3L549.4 693.7L552.4 695.1L555.4 696.5L558.4 697.9L561.5 699.3L564.5 700.6L567.5 702.0L570.5 703.4L573.5 704.8L576.6 706.2L579.6 707.6L582.6 709.0L585.6 710.4L588.7 711.7L591.7 713.0L594.7 714.2L597.7 715.5L600.7 716.8L603.8 718.0L606.8 719.2L609.8 720.4L612.8 721.6L615.9 722.7L618.9 723.8L621.9 724.9L624.9 725.9L627.9 727.0L631.0 728.0L634.0 729.0L637.0 730.0L640.0 731.0L643.1 731.9L646.1 732.9L649.1 733.8L652.1 734.7L655.2 735.6L658.2 736.4L661.2 737.2L664.2 738.0L667.2 738.6L670.3 739.3L673.3 739.9L676.3 740.5L679.3 741.1L682.4 741.6L685.4 742.3L688.4 742.9L691.4 743.5L694.4 744.2L697.5 744.8L700.5 745.5L703.5 746.2L706.5 746.9L709.6 747.7L712.6 748.4L715.6 749.2M446.6 596.2L449.6 598.9L452.6 601.7L455.7 604.5L458.7 607.5L461.7 610.6L464.7 613.8L467.8 617.0L470.8 620.6L473.8 624.5L476.8 628.5L479.8 632.7L482.9 636.8L485.9 640.7L488.9 644.4L491.9 647.7L495.0 650.9L498.0 654.1L501.0 657.1L504.0 660.0L507.0 662.8L510.1 665.5L513.1 668.0L516.1 670.3L519.1 672.5L522.2 674.6L525.2 676.5L528.2 678.4L531.2 680.2L534.3 682.0L537.3 683.8L540.3 685.6L543.3 687.4L546.3 689.2L549.4 690.9L552.4 692.6L555.4 694.3L558.4 696.0L561.5 697.6L564.5 699.3L567.5 700.9L570.5 702.5L573.5 704.1L576.6 705.7L579.6 707.3L582.6 708.7L585.6 710.1L588.7 711.5L591.7 712.7L594.7 713.9L597.7 715.1L600.7 716.2L603.8 717.3L606.8 718.4L609.8 719.4L612.8 720.3L615.9 721.2L618.9 722.2L621.9 723.0L624.9 723.9L627.9 724.8L631.0 725.6L634.0 726.5L637.0 727.3L640.0 728.1L643.1 729.0L646.1 729.8L649.1 730.6L652.1 731.4L655.2 732.3L658.2 733.1L661.2 733.9L664.2 734.7L667.2 735.5L670.3 736.2L673.3 737.0L676.3 737.7L679.3 738.5L682.4 739.3L685.4 740.2L688.4 741.1L691.4 742.0L694.4 742.9L697.5 743.9L700.5 744.9L703.5 745.8L706.5 746.8L709.6 747.8L712.6 748.9L715.6 749.9M446.6 599.3L449.6 602.1L452.6 605.0L455.7 608.0L458.7 611.1L461.7 614.3L464.7 617.6L467.8 621.0L470.8 624.6L473.8 628.5L476.8 632.5L479.8 636.6L482.9 640.7L485.9 644.6L488.9 648.3L491.9 651.7L495.0 655.0L498.0 658.2L501.0 661.3L504.0 664.2L507.0 667.1L510.1 669.8L513.1 672.3L516.1 674.6L519.1 676.8L522.2 678.8L525.2 680.7L528.2 682.5L531.2 684.2L534.3 685.9L537.3 687.5L540.3 689.2L543.3 690.8L546.3 692.4L549.4 694.0L552.4 695.5L555.4 697.0L558.4 698.4L561.5 699.8L564.5 701.2L567.5 702.7L570.5 704.1L573.5 705.5L576.6 706.9L579.6 708.2L582.6 709.5L585.6 710.8L588.7 712.1L591.7 713.3L594.7 714.4L597.7 715.6L600.7 716.7L603.8 717.9L606.8 719.0L609.8 720.0L612.8 721.1L615.9 722.1L618.9 723.0L621.9 724.0L624.9 725.0L627.9 726.0L631.0 726.9L634.0 727.9L637.0 728.9L640.0 729.8L643.1 730.8L646.1 731.8L649.1 732.7L652.1 733.7L655.2 734.6L658.2 735.5L661.2 736.4L664.2 737.2L667.2 738.0L670.3 738.8L673.3 739.5L676.3 740.2L679.3 740.9L682.4 741.6L685.4 742.4L688.4 743.1L691.4 743.9L694.4 744.6L697.5 745.4L700.5 746.2L703.5 746.9L706.5 747.7L709.6 748.5L712.6 749.3L715.6 750.1M446.6 596.7L449.6 599.5L452.6 602.4L455.7 605.4L458.7 608.6L461.7 611.8L464.7 615.2L467.8 618.6L470.8 622.3L473.8 626.4L476.8 630.6L479.8 634.8L482.9 639.0L485.9 643.1L488.9 647.0L491.9 650.4L495.0 653.8L498.0 657.0L501.0 660.2L504.0 663.2L507.0 666.1L510.1 668.8L513.1 671.3L516.1 673.7L519.1 675.8L522.2 677.8L525.2 679.6L528.2 681.4L531.2 683.1L534.3 684.7L537.3 686.3L540.3 687.9L543.3 689.5L546.3 691.0L549.4 692.5L552.4 694.0L555.4 695.4L558.4 696.8L561.5 698.2L564.5 699.6L567.5 701.0L570.5 702.5L573.5 703.9L576.6 705.3L579.6 706.7L582.6 708.0L585.6 709.4L588.7 710.7L591.7 711.9L594.7 713.2L597.7 714.4L600.7 715.6L603.8 716.8L606.8 718.0L609.8 719.1L612.8 720.2L615.9 721.4L618.9 722.5L621.9 723.5L624.9 724.6L627.9 725.7L631.0 726.7L634.0 727.8L637.0 728.8L640.0 729.8L643.1 730.8L646.1 731.8L649.1 732.7L652.1 733.7L655.2 734.6L658.2 735.4L661.2 736.3L664.2 737.1L667.2 737.8L670.3 738.5L673.3 739.2L676.3 739.8L679.3 740.4L682.4 741.1L685.4 741.7L688.4 742.4L691.4 743.1L694.4 743.8L697.5 744.5L700.5 745.2L703.5 746.0L706.5 746.7L709.6 747.5L712.6 748.3L715.6 749.1M446.6 599.4L449.6 602.2L452.6 605.2L455.7 608.2L458.7 611.4L461.7 614.6L464.7 617.9L467.8 621.3L470.8 625.0L473.8 628.9L476.8 633.0L479.8 637.1L482.9 641.2L485.9 645.2L488.9 648.9L491.9 652.3L495.0 655.6L498.0 658.8L501.0 661.9L504.0 664.8L507.0 667.7L510.1 670.3L513.1 672.8L516.1 675.2L519.1 677.3L522.2 679.3L525.2 681.1L528.2 682.9L531.2 684.6L534.3 686.2L537.3 687.8L540.3 689.4L543.3 691.0L546.3 692.5L549.4 694.0L552.4 695.5L555.4 696.9L558.4 698.3L561.5 699.7L564.5 701.1L567.5 702.5L570.5 703.9L573.5 705.3L576.6 706.7L579.6 708.0L582.6 709.4L585.6 710.7L588.7 711.9L591.7 713.1L594.7 714.3L597.7 715.5L600.7 716.7L603.8 717.9L606.8 719.0L609.8 720.1L612.8 721.2L615.9 722.2L618.9 723.3L621.9 724.3L624.9 725.3L627.9 726.3L631.0 727.3L634.0 728.3L637.0 729.2L640.0 730.2L643.1 731.2L646.1 732.2L649.1 733.2L652.1 734.1L655.2 735.0L658.2 735.9L661.2 736.8L664.2 737.6L667.2 738.4L670.3 739.1L673.3 739.8L676.3 740.4L679.3 741.1L682.4 741.8L685.4 742.5L688.4 743.2L691.4 743.9L694.4 744.6L697.5 745.3L700.5 746.0L703.5 746.8L706.5 747.5L709.6 748.3L712.6 749.0L715.6 749.8M446.6 597.7L449.6 600.5L452.6 603.5L455.7 606.6L458.7 609.8L461.7 613.1L464.7 616.5L467.8 620.0L470.8 623.8L473.8 627.8L476.8 632.0L479.8 636.2L482.9 640.4L485.9 644.5L488.9 648.3L491.9 651.7L495.0 655.0L498.0 658.3L501.0 661.4L504.0 664.3L507.0 667.2L510.1 669.8L513.1 672.3L516.1 674.5L519.1 676.6L522.2 678.5L525.2 680.3L528.2 682.0L531.2 683.6L534.3 685.2L537.3 686.8L540.3 688.3L543.3 689.8L546.3 691.3L549.4 692.8L552.4 694.2L555.4 695.6L558.4 697.0L561.5 698.4L564.5 699.8L567.5 701.2L570.5 702.6L573.5 704.0L576.6 705.5L579.6 706.9L582.6 708.3L585.6 709.6L588.7 711.0L591.7 712.2L594.7 713.5L597.7 714.8L600.7 716.1L603.8 717.3L606.8 718.5L609.8 719.7L612.8 720.9L615.9 722.0L618.9 723.1L621.9 724.2L624.9 725.3L627.9 726.4L631.0 727.4L634.0 728.5L637.0 729.5L640.0 730.5L643.1 731.4L646.1 732.4L649.1 733.3L652.1 734.2L655.2 735.1L658.2 735.9L661.2 736.7L664.2 737.5L667.2 738.2L670.3 738.8L673.3 739.4L676.3 740.0L679.3 740.6L682.4 741.2L685.4 741.8L688.4 742.4L691.4 743.1L694.4 743.7L697.5 744.4L700.5 745.1L703.5 745.8L706.5 746.6L709.6 747.3L712.6 748.1L715.6 748.9M446.6 607.9L449.6 611.2L452.6 614.6L455.7 618.1L458.7 621.6L461.7 625.1L464.7 628.6L467.8 632.1L470.8 635.8L473.8 639.6L476.8 643.5L479.8 647.3L482.9 651.0L485.9 654.6L488.9 658.0L491.9 661.1L495.0 664.0L498.0 666.9L501.0 669.6L504.0 672.2L507.0 674.7L510.1 677.0L513.1 679.1L516.1 681.1L519.1 682.8L522.2 684.5L525.2 686.0L528.2 687.4L531.2 688.8L534.3 690.2L537.3 691.5L540.3 692.9L543.3 694.3L546.3 695.6L549.4 697.0L552.4 698.3L555.4 699.6L558.4 701.0L561.5 702.3L564.5 703.7L567.5 705.1L570.5 706.6L573.5 708.0L576.6 709.5L579.6 711.0L582.6 712.4L585.6 713.9L588.7 715.3L591.7 716.7L594.7 718.1L597.7 719.5L600.7 720.9L603.8 722.3L606.8 723.6L609.8 724.8L612.8 725.9L615.9 727.0L618.9 728.0L621.9 729.0L624.9 729.9L627.9 730.8L631.0 731.6L634.0 732.4L637.0 733.3L640.0 734.1L643.1 734.9L646.1 735.7L649.1 736.5L652.1 737.2L655.2 737.9L658.2 738.6L661.2 739.2L664.2 739.8L667.2 740.3L670.3 740.8L673.3 741.3L676.3 741.8L679.3 742.3L682.4 742.8L685.4 743.3L688.4 743.9L691.4 744.4L694.4 745.0L697.5 745.7L700.5 746.3L703.5 747.0L706.5 747.7L709.6 748.4L712.6 749.2L715.6 750.0M446.6 603.2L449.6 606.2L452.6 609.1L455.7 612.2L458.7 615.3L461.7 618.5L464.7 621.7L467.8 624.9L470.8 628.5L473.8 632.2L476.8 636.0L479.8 639.9L482.9 643.7L485.9 647.4L488.9 650.8L491.9 654.0L495.0 657.1L498.0 660.1L501.0 663.0L504.0 665.8L507.0 668.5L510.1 671.1L513.1 673.5L516.1 675.8L519.1 677.8L522.2 679.8L525.2 681.7L528.2 683.4L531.2 685.2L534.3 686.9L537.3 688.6L540.3 690.3L543.3 692.0L546.3 693.6L549.4 695.3L552.4 696.8L555.4 698.4L558.4 699.9L561.5 701.5L564.5 703.0L567.5 704.5L570.5 706.0L573.5 707.4L576.6 708.9L579.6 710.3L582.6 711.7L585.6 713.0L588.7 714.2L591.7 715.4L594.7 716.6L597.7 717.7L600.7 718.9L603.8 719.9L606.8 721.0L609.8 722.0L612.8 722.9L615.9 723.8L618.9 724.6L621.9 725.4L624.9 726.2L627.9 727.0L631.0 727.8L634.0 728.7L637.0 729.5L640.0 730.3L643.1 731.2L646.1 732.0L649.1 732.9L652.1 733.7L655.2 734.6L658.2 735.5L661.2 736.3L664.2 737.1L667.2 737.9L670.3 738.7L673.3 739.4L676.3 740.2L679.3 741.0L682.4 741.7L685.4 742.5L688.4 743.4L691.4 744.2L694.4 745.1L697.5 745.9L700.5 746.8L703.5 747.6L706.5 748.5L709.6 749.4L712.6 750.2L715.6 751.1M446.6 603.5L449.6 606.5L452.6 609.7L455.7 612.9L458.7 616.1L461.7 619.4L464.7 622.7L467.8 626.0L470.8 629.6L473.8 633.3L476.8 637.2L479.8 641.0L482.9 644.8L485.9 648.5L488.9 651.8L491.9 654.9L495.0 657.9L498.0 660.8L501.0 663.5L504.0 666.2L507.0 668.7L510.1 671.1L513.1 673.4L516.1 675.4L519.1 677.4L522.2 679.2L525.2 680.9L528.2 682.5L531.2 684.1L534.3 685.7L537.3 687.3L540.3 688.9L543.3 690.6L546.3 692.2L549.4 693.8L552.4 695.5L555.4 697.1L558.4 698.7L561.5 700.3L564.5 701.9L567.5 703.5L570.5 705.1L573.5 706.7L576.6 708.4L579.6 709.9L582.6 711.5L585.6 713.0L588.7 714.4L591.7 715.8L594.7 717.1L597.7 718.4L600.7 719.7L603.8 720.9L606.8 722.0L609.8 723.1L612.8 724.1L615.9 725.0L618.9 725.9L621.9 726.7L624.9 727.5L627.9 728.3L631.0 729.0L634.0 729.7L637.0 730.4L640.0 731.2L643.1 731.9L646.1 732.6L649.1 733.3L652.1 734.0L655.2 734.7L658.2 735.3L661.2 736.0L664.2 736.7L667.2 737.3L670.3 737.9L673.3 738.5L676.3 739.1L679.3 739.8L682.4 740.5L685.4 741.2L688.4 742.0L691.4 742.8L694.4 743.7L697.5 744.6L700.5 745.5L703.5 746.4L706.5 747.4L709.6 748.3L712.6 749.3L715.6 750.3M446.6 613.7L449.6 617.0L452.6 620.4L455.7 623.7L458.7 627.0L461.7 630.3L464.7 633.6L467.8 636.9L470.8 640.3L473.8 643.7L476.8 647.2L479.8 650.6L482.9 654.0L485.9 657.3L488.9 660.4L491.9 663.2L495.0 666.0L498.0 668.7L501.0 671.4L504.0 673.9L507.0 676.4L510.1 678.7L513.1 680.9L516.1 682.9L519.1 684.8L522.2 686.6L525.2 688.3L528.2 689.9L531.2 691.5L534.3 693.0L537.3 694.6L540.3 696.2L543.3 697.7L546.3 699.2L549.4 700.7L552.4 702.2L555.4 703.7L558.4 705.1L561.5 706.5L564.5 707.9L567.5 709.3L570.5 710.7L573.5 712.1L576.6 713.5L579.6 714.8L582.6 716.1L585.6 717.4L588.7 718.6L591.7 719.8L594.7 721.0L597.7 722.1L600.7 723.3L603.8 724.4L606.8 725.4L609.8 726.4L612.8 727.3L615.9 728.0L618.9 728.8L621.9 729.5L624.9 730.1L627.9 730.8L631.0 731.4L634.0 732.1L637.0 732.8L640.0 733.6L643.1 734.3L646.1 735.1L649.1 736.0L652.1 736.8L655.2 737.6L658.2 738.4L661.2 739.2L664.2 740.0L667.2 740.8L670.3 741.5L673.3 742.2L676.3 742.9L679.3 743.7L682.4 744.4L685.4 745.1L688.4 745.9L691.4 746.7L694.4 747.5L697.5 748.2L700.5 749.0L703.5 749.7L706.5 750.5L709.6 751.2L712.6 752.0L715.6 752.7M446.6 608.3L449.6 611.6L452.6 614.9L455.7 618.2L458.7 621.6L461.7 625.1L464.7 628.5L467.8 632.0L470.8 635.6L473.8 639.4L476.8 643.2L479.8 647.0L482.9 650.8L485.9 654.4L488.9 657.8L491.9 661.0L495.0 664.0L498.0 666.9L501.0 669.8L504.0 672.5L507.0 675.1L510.1 677.5L513.1 679.8L516.1 681.9L519.1 683.8L522.2 685.5L525.2 687.2L528.2 688.7L531.2 690.2L534.3 691.6L537.3 693.0L540.3 694.4L543.3 695.8L546.3 697.2L549.4 698.5L552.4 699.8L555.4 701.1L558.4 702.4L561.5 703.7L564.5 704.9L567.5 706.2L570.5 707.5L573.5 708.9L576.6 710.2L579.6 711.5L582.6 712.8L585.6 714.1L588.7 715.4L591.7 716.6L594.7 717.9L597.7 719.2L600.7 720.5L603.8 721.7L606.8 722.9L609.8 724.1L612.8 725.2L615.9 726.2L618.9 727.2L621.9 728.2L624.9 729.1L627.9 730.0L631.0 730.9L634.0 731.8L637.0 732.7L640.0 733.6L643.1 734.6L646.1 735.5L649.1 736.4L652.1 737.3L655.2 738.1L658.2 739.0L661.2 739.7L664.2 740.5L667.2 741.1L670.3 741.7L673.3 742.3L676.3 742.9L679.3 743.5L682.4 744.0L685.4 744.6L688.4 745.2L691.4 745.8L694.4 746.3L697.5 746.9L700.5 747.5L703.5 748.1L706.5 748.8L709.6 749.4L712.6 750.0L715.6 750.7M446.6 598.8L449.6 601.5L452.6 604.4L455.7 607.3L458.7 610.3L461.7 613.5L464.7 616.6L467.8 619.9L470.8 623.5L473.8 627.3L476.8 631.3L479.8 635.4L482.9 639.4L485.9 643.3L488.9 646.9L491.9 650.3L495.0 653.5L498.0 656.6L501.0 659.6L504.0 662.6L507.0 665.4L510.1 668.1L513.1 670.6L516.1 672.9L519.1 675.1L522.2 677.1L525.2 679.1L528.2 680.9L531.2 682.7L534.3 684.5L537.3 686.2L540.3 688.0L543.3 689.8L546.3 691.4L549.4 693.1L552.4 694.7L555.4 696.3L558.4 697.9L561.5 699.4L564.5 700.9L567.5 702.5L570.5 704.0L573.5 705.5L576.6 706.9L579.6 708.4L582.6 709.7L585.6 711.0L588.7 712.3L591.7 713.5L594.7 714.7L597.7 715.8L600.7 716.9L603.8 718.0L606.8 719.0L609.8 720.0L612.8 721.0L615.9 721.9L618.9 722.8L621.9 723.7L624.9 724.6L627.9 725.5L631.0 726.3L634.0 727.2L637.0 728.1L640.0 729.0L643.1 729.9L646.1 730.8L649.1 731.7L652.1 732.6L655.2 733.5L658.2 734.4L661.2 735.2L664.2 736.1L667.2 736.9L670.3 737.7L673.3 738.4L676.3 739.2L679.3 740.0L682.4 740.8L685.4 741.6L688.4 742.4L691.4 743.3L694.4 744.2L697.5 745.0L700.5 745.9L703.5 746.8L706.5 747.7L709.6 748.6L712.6 749.5L715.6 750.4M446.6 607.7L449.6 610.8L452.6 614.0L455.7 617.1L458.7 620.3L461.7 623.6L464.7 626.8L467.8 630.1L470.8 633.6L473.8 637.2L476.8 640.9L479.8 644.6L482.9 648.2L485.9 651.7L488.9 655.1L491.9 658.1L495.0 661.1L498.0 664.0L501.0 666.8L504.0 669.6L507.0 672.2L510.1 674.6L513.1 677.0L516.1 679.1L519.1 681.1L522.2 683.0L525.2 684.8L528.2 686.5L531.2 688.2L534.3 689.8L537.3 691.5L540.3 693.1L543.3 694.7L546.3 696.3L549.4 697.8L552.4 699.4L555.4 700.8L558.4 702.3L561.5 703.8L564.5 705.2L567.5 706.6L570.5 708.0L573.5 709.5L576.6 710.8L579.6 712.2L582.6 713.5L585.6 714.8L588.7 716.0L591.7 717.2L594.7 718.4L597.7 719.5L600.7 720.6L603.8 721.7L606.8 722.8L609.8 723.7L612.8 724.7L615.9 725.5L618.9 726.3L621.9 727.1L624.9 727.9L627.9 728.6L631.0 729.4L634.0 730.1L637.0 730.9L640.0 731.8L643.1 732.6L646.1 733.5L649.1 734.3L652.1 735.2L655.2 736.1L658.2 736.9L661.2 737.8L664.2 738.6L667.2 739.4L670.3 740.1L673.3 740.9L676.3 741.6L679.3 742.4L682.4 743.1L685.4 743.9L688.4 744.7L691.4 745.5L694.4 746.3L697.5 747.1L700.5 747.9L703.5 748.6L706.5 749.4L709.6 750.2L712.6 751.0L715.6 751.8M446.6 611.4L449.6 614.7L452.6 618.0L455.7 621.3L458.7 624.7L461.7 628.0L464.7 631.3L467.8 634.6L470.8 638.0L473.8 641.5L476.8 645.0L479.8 648.6L482.9 652.0L485.9 655.3L488.9 658.4L491.9 661.3L495.0 664.1L498.0 666.8L501.0 669.4L504.0 671.9L507.0 674.3L510.1 676.6L513.1 678.8L516.1 680.7L519.1 682.6L522.2 684.3L525.2 686.0L528.2 687.6L531.2 689.1L534.3 690.7L537.3 692.2L540.3 693.8L543.3 695.4L546.3 697.0L549.4 698.5L552.4 700.1L555.4 701.6L558.4 703.1L561.5 704.6L564.5 706.2L567.5 707.7L570.5 709.2L573.5 710.7L576.6 712.2L579.6 713.7L582.6 715.1L585.6 716.5L588.7 717.8L591.7 719.1L594.7 720.3L597.7 721.6L600.7 722.8L603.8 723.9L606.8 725.0L609.8 726.0L612.8 726.9L615.9 727.7L618.9 728.5L621.9 729.2L624.9 729.8L627.9 730.5L631.0 731.1L634.0 731.7L637.0 732.4L640.0 733.1L643.1 733.8L646.1 734.5L649.1 735.2L652.1 736.0L655.2 736.7L658.2 737.4L661.2 738.1L664.2 738.8L667.2 739.5L670.3 740.2L673.3 740.8L676.3 741.5L679.3 742.2L682.4 742.9L685.4 743.7L688.4 744.4L691.4 745.3L694.4 746.1L697.5 746.9L700.5 747.7L703.5 748.6L706.5 749.4L709.6 750.3L712.6 751.2L715.6 752.0M446.6 596.3L449.6 599.2L452.6 602.2L455.7 605.3L458.7 608.6L461.7 611.9L464.7 615.3L467.8 618.7L470.8 622.5L473.8 626.6L476.8 630.7L479.8 635.0L482.9 639.2L485.9 643.2L488.9 646.9L491.9 650.2L495.0 653.4L498.0 656.5L501.0 659.5L504.0 662.3L507.0 665.0L510.1 667.5L513.1 669.8L516.1 672.0L519.1 673.9L522.2 675.8L525.2 677.5L528.2 679.1L531.2 680.7L534.3 682.3L537.3 683.8L540.3 685.4L543.3 687.0L546.3 688.6L549.4 690.2L552.4 691.7L555.4 693.3L558.4 694.8L561.5 696.4L564.5 698.0L567.5 699.6L570.5 701.3L573.5 702.9L576.6 704.6L579.6 706.2L582.6 707.8L585.6 709.3L588.7 710.8L591.7 712.3L594.7 713.7L597.7 715.1L600.7 716.4L603.8 717.8L606.8 719.0L609.8 720.2L612.8 721.4L615.9 722.5L618.9 723.6L621.9 724.7L624.9 725.7L627.9 726.6L631.0 727.6L634.0 728.4L637.0 729.3L640.0 730.1L643.1 730.9L646.1 731.7L649.1 732.4L652.1 733.1L655.2 733.8L658.2 734.5L661.2 735.1L664.2 735.7L667.2 736.3L670.3 736.8L673.3 737.3L676.3 737.9L679.3 738.4L682.4 739.0L685.4 739.7L688.4 740.3L691.4 741.1L694.4 741.9L697.5 742.7L700.5 743.5L703.5 744.4L706.5 745.3L709.6 746.3L712.6 747.3L715.6 748.3M446.6 590.2L449.6 592.6L452.6 595.2L455.7 597.9L458.7 600.8L461.7 603.8L464.7 606.9L467.8 610.2L470.8 613.9L473.8 618.0L476.8 622.3L479.8 626.7L482.9 631.1L485.9 635.4L488.9 639.3L491.9 643.0L495.0 646.4L498.0 649.8L501.0 653.1L504.0 656.3L507.0 659.3L510.1 662.2L513.1 664.9L516.1 667.4L519.1 669.8L522.2 671.9L525.2 674.0L528.2 676.0L531.2 677.9L534.3 679.8L537.3 681.6L540.3 683.5L543.3 685.3L546.3 687.1L549.4 688.8L552.4 690.5L555.4 692.2L558.4 693.8L561.5 695.4L564.5 696.9L567.5 698.5L570.5 700.1L573.5 701.6L576.6 703.1L579.6 704.6L582.6 706.0L585.6 707.3L588.7 708.6L591.7 709.8L594.7 710.9L597.7 712.0L600.7 713.1L603.8 714.2L606.8 715.2L609.8 716.3L612.8 717.3L615.9 718.3L618.9 719.3L621.9 720.4L624.9 721.4L627.9 722.5L631.0 723.5L634.0 724.5L637.0 725.5L640.0 726.5L643.1 727.5L646.1 728.4L649.1 729.4L652.1 730.3L655.2 731.3L658.2 732.2L661.2 733.1L664.2 734.0L667.2 734.8L670.3 735.7L673.3 736.4L676.3 737.2L679.3 738.0L682.4 738.8L685.4 739.7L688.4 740.5L691.4 741.4L694.4 742.3L697.5 743.3L700.5 744.2L703.5 745.1L706.5 746.1L709.6 747.0L712.6 748.0L715.6 748.9M446.6 607.2L449.6 610.3L452.6 613.5L455.7 616.6L458.7 619.8L461.7 623.0L464.7 626.3L467.8 629.6L470.8 633.0L473.8 636.6L476.8 640.3L479.8 644.0L482.9 647.6L485.9 651.1L488.9 654.4L491.9 657.4L495.0 660.4L498.0 663.2L501.0 666.0L504.0 668.7L507.0 671.3L510.1 673.7L513.1 676.0L516.1 678.1L519.1 680.1L522.2 682.0L525.2 683.8L528.2 685.5L531.2 687.1L534.3 688.8L537.3 690.4L540.3 692.1L543.3 693.7L546.3 695.4L549.4 697.0L552.4 698.5L555.4 700.1L558.4 701.6L561.5 703.1L564.5 704.6L567.5 706.1L570.5 707.6L573.5 709.1L576.6 710.6L579.6 712.0L582.6 713.4L585.6 714.7L588.7 716.0L591.7 717.2L594.7 718.4L597.7 719.6L600.7 720.8L603.8 721.9L606.8 722.9L609.8 723.9L612.8 724.8L615.9 725.6L618.9 726.4L621.9 727.2L624.9 727.9L627.9 728.6L631.0 729.3L634.0 730.0L637.0 730.8L640.0 731.5L643.1 732.3L646.1 733.1L649.1 733.9L652.1 734.7L655.2 735.5L658.2 736.3L661.2 737.1L664.2 737.9L667.2 738.7L670.3 739.4L673.3 740.1L676.3 740.9L679.3 741.6L682.4 742.4L685.4 743.2L688.4 744.0L691.4 744.8L694.4 745.7L697.5 746.5L700.5 747.4L703.5 748.2L706.5 749.1L709.6 749.9L712.6 750.8L715.6 751.6M446.6 595.5L449.6 598.3L452.6 601.3L455.7 604.4L458.7 607.6L461.7 610.9L464.7 614.3L467.8 617.7L470.8 621.5L473.8 625.5L476.8 629.7L479.8 634.0L482.9 638.2L485.9 642.2L488.9 645.9L491.9 649.3L495.0 652.5L498.0 655.6L501.0 658.6L504.0 661.4L507.0 664.1L510.1 666.6L513.1 669.0L516.1 671.1L519.1 673.1L522.2 675.0L525.2 676.7L528.2 678.4L531.2 680.0L534.3 681.6L537.3 683.1L540.3 684.8L543.3 686.4L546.3 688.0L549.4 689.6L552.4 691.2L555.4 692.8L558.4 694.4L561.5 696.0L564.5 697.6L567.5 699.3L570.5 700.9L573.5 702.6L576.6 704.3L579.6 705.9L582.6 707.5L585.6 709.1L588.7 710.6L591.7 712.1L594.7 713.5L597.7 714.8L600.7 716.2L603.8 717.5L606.8 718.7L609.8 719.9L612.8 721.1L615.9 722.2L618.9 723.3L621.9 724.3L624.9 725.3L627.9 726.3L631.0 727.2L634.0 728.1L637.0 728.9L640.0 729.7L643.1 730.5L646.1 731.3L649.1 732.0L652.1 732.7L655.2 733.4L658.2 734.0L661.2 734.7L664.2 735.3L667.2 735.8L670.3 736.4L673.3 736.9L676.3 737.5L679.3 738.1L682.4 738.7L685.4 739.3L688.4 740.0L691.4 740.8L694.4 741.6L697.5 742.4L700.5 743.3L703.5 744.2L706.5 745.2L709.6 746.2L712.6 747.2L715.6 748.3M446.6 630.8L449.6 634.0L452.6 637.2L455.7 640.3L458.7 643.3L461.7 646.1L464.7 648.9L467.8 651.5L470.8 654.0L473.8 656.4L476.8 658.7L479.8 660.9L482.9 663.1L485.9 665.3L488.9 667.5L491.9 669.7L495.0 671.9L498.0 674.2L501.0 676.4L504.0 678.6L507.0 680.7L510.1 682.8L513.1 684.7L516.1 686.4L519.1 688.0L522.2 689.5L525.2 691.0L528.2 692.4L531.2 693.7L534.3 695.0L537.3 696.4L540.3 697.7L543.3 699.1L546.3 700.4L549.4 701.7L552.4 703.1L555.4 704.4L558.4 705.7L561.5 707.0L564.5 708.3L567.5 709.7L570.5 711.0L573.5 712.4L576.6 713.7L579.6 715.1L582.6 716.4L585.6 717.7L588.7 719.0L591.7 720.3L594.7 721.5L597.7 722.8L600.7 724.1L603.8 725.3L606.8 726.5L609.8 727.6L612.8 728.5L615.9 729.4L618.9 730.3L621.9 731.1L624.9 731.8L627.9 732.5L631.0 733.2L634.0 733.9L637.0 734.7L640.0 735.4L643.1 736.2L646.1 737.0L649.1 737.7L652.1 738.5L655.2 739.2L658.2 739.9L661.2 740.6L664.2 741.3L667.2 741.9L670.3 742.6L673.3 743.2L676.3 743.8L679.3 744.4L682.4 745.0L685.4 745.6L688.4 746.3L691.4 746.9L694.4 747.6L697.5 748.3L700.5 748.9L703.5 749.6L706.5 750.3L709.6 751.1L712.6 751.8L715.6 752.5" fill="none" stroke="#a6cdf8" stroke-width="1.3" stroke-linejoin="round"/>
<line x1="444.2" y1="506.7" x2="444.2" y2="867.4" stroke="#666" stroke-width="1.3"/>
<rect x="103.9" y="506.7" width="612.3" height="360.7" fill="none" stroke="#1a1a1a" stroke-width="1.4"/>
<line x1="172.1" y1="867.4" x2="172.1" y2="858.8" stroke="#1a1a1a" stroke-width="1.3"/>
<line x1="308.1" y1="867.4" x2="308.1" y2="858.8" stroke="#1a1a1a" stroke-width="1.3"/>
<line x1="580.2" y1="867.4" x2="580.2" y2="858.8" stroke="#1a1a1a" stroke-width="1.3"/>
<line x1="103.9" y1="626.9" x2="112.5" y2="626.9" stroke="#1a1a1a" stroke-width="1.3"/>
<text x="171.6" y="895.7" font-size="22" text-anchor="middle" textLength="23.0" lengthAdjust="spacingAndGlyphs">−2</text>
<text x="307.6" y="895.7" font-size="22" text-anchor="middle" textLength="19.5" lengthAdjust="spacingAndGlyphs">−1</text>
<text x="444.2" y="895.7" font-size="22" text-anchor="middle" textLength="12.5" lengthAdjust="spacingAndGlyphs">0</text>
<text x="580.2" y="895.7" font-size="22" text-anchor="middle" textLength="7.5" lengthAdjust="spacingAndGlyphs">1</text>
<text x="714.8" y="895.7" font-size="22" text-anchor="middle" textLength="11.5" lengthAdjust="spacingAndGlyphs">2</text>
<text x="57.5" y="874.9" font-size="22" textLength="23.0" lengthAdjust="spacingAndGlyphs">10</text>
<text x="82.5" y="863.6" font-size="14" textLength="7.8" lengthAdjust="spacingAndGlyphs">3</text>
<text x="57.5" y="754.7" font-size="22" textLength="23.0" lengthAdjust="spacingAndGlyphs">10</text>
<text x="82.5" y="743.4" font-size="14" textLength="7.8" lengthAdjust="spacingAndGlyphs">4</text>
<text x="57.5" y="634.4" font-size="22" textLength="23.0" lengthAdjust="spacingAndGlyphs">10</text>
<text x="82.5" y="623.1" font-size="14" textLength="7.8" lengthAdjust="spacingAndGlyphs">5</text>
<text x="57.5" y="514.2" font-size="22" textLength="23.0" lengthAdjust="spacingAndGlyphs">10</text>
<text x="82.5" y="502.9" font-size="14" textLength="7.8" lengthAdjust="spacingAndGlyphs">6</text>
<text x="410.5" y="927.6" font-size="26" text-anchor="middle" textLength="138.0" lengthAdjust="spacingAndGlyphs">Voltage (V)</text>
<text x="35.0" y="687.0" font-size="26" text-anchor="middle" textLength="179.0" lengthAdjust="spacingAndGlyphs" transform="rotate(-90 35 687)">Resistance (Ω)</text>
<text x="133.8" y="544.8" font-size="26" textLength="123.5" lengthAdjust="spacingAndGlyphs">30 cycles</text>
<text x="223.4" y="833.8" font-size="26" textLength="70.0" lengthAdjust="spacingAndGlyphs">Reset</text>
<text x="554.2" y="833.8" font-size="26" textLength="42.0" lengthAdjust="spacingAndGlyphs">Set</text>
<line x1="271.0" y1="694.3" x2="339.5" y2="652.3" stroke="#000" stroke-width="2.5" marker-end="url(#ahK)"/>
<line x1="546.7" y1="649.1" x2="615.2" y2="691.6" stroke="#000" stroke-width="2.5" marker-end="url(#ahK)"/>
<line x1="481.7" y1="761.0" x2="415.0" y2="761.0" stroke="#000" stroke-width="2.5" marker-end="url(#ahK)"/>
</g>
<g id="panel-e">
<text transform="translate(742 491.5) scale(1.13 1)" font-size="37" font-weight="bold" stroke="#000" stroke-width="1.5" stroke-linejoin="round">e</text>
<line x1="832.9" y1="506.4" x2="832.9" y2="866.4" stroke="#1a1a1a" stroke-width="1.4"/>
<line x1="1443.8" y1="506.4" x2="1443.8" y2="866.4" stroke="#1a1a1a" stroke-width="1.4"/>
<line x1="832.2" y1="866.4" x2="1444.5" y2="866.4" stroke="#1a1a1a" stroke-width="1.4"/>
<line x1="832.2" y1="506.4" x2="1444.5" y2="506.4" stroke="#000" stroke-width="2.3"/>
<line x1="985.6" y1="866.4" x2="985.6" y2="857.9" stroke="#1a1a1a" stroke-width="1.3"/>
<line x1="1138.3" y1="866.4" x2="1138.3" y2="857.9" stroke="#1a1a1a" stroke-width="1.3"/>
<line x1="1291.1" y1="866.4" x2="1291.1" y2="857.9" stroke="#1a1a1a" stroke-width="1.3"/>
<line x1="832.9" y1="776.4" x2="842.9" y2="776.4" stroke="#1a1a1a" stroke-width="1.3"/>
<line x1="832.9" y1="686.4" x2="842.9" y2="686.4" stroke="#1a1a1a" stroke-width="1.3"/>
<line x1="832.9" y1="596.4" x2="842.9" y2="596.4" stroke="#1a1a1a" stroke-width="1.3"/>
<path d="M832.9 754.8h0M836.0 751.9h0M839.0 744.2h0M842.1 746.8h0M845.1 731.8h0M848.2 732.8h0M851.2 733.7h0M854.3 720.9h0M857.3 709.9h0M860.4 717.8h0M863.4 702.7h0M866.5 702.7h0M869.6 710.7h0M872.6 700.0h0M875.7 687.8h0M878.7 695.4h0M881.8 674.7h0M884.8 671.3h0M887.9 688.0h0M890.9 677.0h0M894.0 660.9h0M897.0 681.4h0M900.1 685.8h0M903.2 679.0h0M906.2 687.2h0M909.3 685.1h0M912.3 667.0h0M915.4 672.1h0M918.4 663.2h0M921.5 660.5h0M924.5 671.9h0M927.6 666.4h0M930.6 665.9h0M933.7 668.4h0M936.8 669.0h0M939.8 656.5h0M942.9 658.3h0M945.9 650.8h0M949.0 644.2h0M952.0 641.5h0M955.1 663.2h0M958.1 660.2h0M961.2 653.3h0M964.2 648.3h0M967.3 640.3h0M970.4 658.8h0M973.4 652.5h0M976.5 645.5h0M979.5 635.4h0M982.6 632.1h0M985.6 653.6h0M988.7 644.5h0M991.7 649.0h0M994.8 631.2h0M997.8 634.1h0M1000.9 641.2h0M1004.0 643.5h0M1007.0 632.7h0M1010.1 625.1h0M1013.1 641.9h0M1016.2 636.8h0M1019.2 631.5h0M1022.3 630.5h0M1025.3 627.3h0M1028.4 640.6h0M1031.4 636.0h0M1034.5 651.4h0M1037.6 628.2h0M1040.6 616.6h0M1043.7 646.3h0M1046.7 631.7h0M1049.8 615.1h0M1052.8 623.6h0M1055.9 639.8h0M1058.9 609.0h0M1062.0 635.8h0M1065.0 606.4h0M1068.1 625.4h0M1071.2 626.7h0M1074.2 617.8h0M1077.3 617.1h0M1080.3 611.8h0M1083.4 612.1h0M1086.4 618.1h0M1089.5 601.7h0M1092.5 609.1h0M1095.6 613.0h0M1098.6 613.7h0M1101.7 613.7h0M1104.8 613.8h0M1107.8 608.8h0M1110.9 611.3h0M1113.9 614.5h0M1117.0 603.1h0M1120.0 613.1h0M1123.1 605.0h0M1126.1 600.9h0M1129.2 618.8h0M1132.2 609.8h0M1135.3 590.3h0M1138.3 615.8h0M1141.4 593.0h0M1144.5 615.5h0M1147.5 601.7h0M1150.6 615.9h0M1153.6 611.2h0M1156.7 609.4h0M1159.7 611.7h0M1162.8 595.6h0M1165.8 595.5h0M1168.9 594.1h0M1171.9 599.7h0M1175.0 583.8h0M1178.1 591.6h0M1181.1 599.8h0M1184.2 613.8h0M1187.2 597.5h0M1190.3 598.5h0M1193.3 603.5h0M1196.4 598.3h0M1199.4 597.7h0M1202.5 609.9h0M1205.5 601.9h0M1208.6 602.0h0M1211.7 602.3h0M1214.7 607.9h0M1217.8 607.7h0M1220.8 601.8h0M1223.9 587.6h0M1226.9 580.1h0M1230.0 603.2h0M1233.0 610.1h0M1236.1 604.0h0M1239.1 609.4h0M1242.2 605.3h0M1245.3 596.1h0M1248.3 608.7h0M1251.4 593.6h0M1254.4 591.4h0M1257.5 582.5h0M1260.5 579.6h0M1263.6 585.6h0M1266.6 575.5h0M1269.7 601.3h0M1272.7 592.2h0M1275.8 592.2h0M1278.9 589.9h0M1281.9 583.7h0M1285.0 597.3h0M1288.0 575.7h0M1291.1 578.9h0M1294.1 588.2h0M1297.2 586.0h0M1300.2 600.1h0M1303.3 610.8h0M1306.3 590.2h0M1309.4 586.2h0M1312.5 586.0h0M1315.5 598.1h0M1318.6 590.6h0M1321.6 567.0h0M1324.7 576.8h0M1327.7 578.9h0M1330.8 588.0h0M1333.8 576.8h0M1336.9 570.8h0M1339.9 574.8h0M1343.0 584.8h0M1346.1 577.4h0M1349.1 588.3h0M1352.2 582.9h0M1355.2 572.2h0M1358.3 582.8h0M1361.3 580.3h0M1364.4 564.6h0M1367.4 580.5h0M1370.5 569.4h0M1373.5 579.2h0M1376.6 589.6h0M1379.7 579.0h0M1382.7 582.9h0M1385.8 599.0h0M1388.8 591.1h0M1391.9 584.4h0M1394.9 565.3h0M1398.0 586.0h0M1401.0 582.9h0M1404.1 577.1h0M1407.1 581.0h0M1410.2 586.1h0M1413.3 564.7h0M1416.3 569.2h0M1419.4 602.9h0M1422.4 572.2h0M1425.5 577.6h0M1428.5 575.2h0M1431.6 583.7h0M1434.6 575.9h0M1437.7 565.3h0M1440.7 569.8h0M1443.8 568.5h0M832.9 763.8h0M836.0 762.7h0M839.0 748.4h0M842.1 749.7h0M845.1 754.9h0M848.2 743.2h0M851.2 747.9h0M854.3 732.5h0M857.3 724.4h0M860.4 724.9h0M863.4 726.7h0M866.5 717.9h0M869.6 719.9h0M872.6 703.2h0M875.7 722.1h0M878.7 733.5h0M881.8 699.4h0M884.8 738.4h0M887.9 700.2h0M890.9 724.5h0M894.0 701.1h0M897.0 716.1h0M900.1 707.4h0M903.2 713.1h0M906.2 713.3h0M909.3 704.5h0M912.3 713.3h0M915.4 699.6h0M918.4 713.2h0M921.5 709.6h0M924.5 705.2h0M927.6 699.4h0M930.6 684.9h0M933.7 705.4h0M936.8 704.0h0M939.8 703.9h0M942.9 694.8h0M945.9 684.3h0M949.0 695.5h0M952.0 689.9h0M955.1 691.6h0M958.1 682.9h0M961.2 702.3h0M964.2 675.4h0M967.3 670.8h0M970.4 688.2h0M973.4 680.8h0M976.5 687.7h0M979.5 668.5h0M982.6 670.6h0M985.6 657.1h0M988.7 677.5h0M991.7 683.0h0M994.8 675.9h0M997.8 684.9h0M1000.9 670.9h0M1004.0 667.2h0M1007.0 660.0h0M1010.1 664.0h0M1013.1 671.5h0M1016.2 654.0h0M1019.2 660.2h0M1022.3 658.5h0M1025.3 678.3h0M1028.4 673.4h0M1031.4 671.0h0M1034.5 668.9h0M1037.6 685.6h0M1040.6 651.1h0M1043.7 664.9h0M1046.7 654.1h0M1049.8 653.8h0M1052.8 645.2h0M1055.9 652.2h0M1058.9 653.7h0M1062.0 663.8h0M1065.0 653.5h0M1068.1 638.7h0M1071.2 672.8h0M1074.2 661.2h0M1077.3 650.9h0M1080.3 637.9h0M1083.4 663.5h0M1086.4 655.1h0M1089.5 648.6h0M1092.5 629.8h0M1095.6 658.1h0M1098.6 648.7h0M1101.7 637.7h0M1104.8 651.3h0M1107.8 640.9h0M1110.9 641.3h0M1113.9 648.5h0M1117.0 641.1h0M1120.0 626.5h0M1123.1 642.9h0M1126.1 647.8h0M1129.2 649.9h0M1132.2 641.5h0M1135.3 630.5h0M1138.3 638.3h0M1141.4 635.8h0M1144.5 620.0h0M1147.5 648.3h0M1150.6 650.0h0M1153.6 635.5h0M1156.7 642.7h0M1159.7 633.4h0M1162.8 625.8h0M1165.8 633.7h0M1168.9 640.1h0M1171.9 632.6h0M1175.0 633.3h0M1178.1 638.2h0M1181.1 640.7h0M1184.2 627.5h0M1187.2 634.7h0M1190.3 644.1h0M1193.3 626.7h0M1196.4 638.2h0M1199.4 636.9h0M1202.5 623.1h0M1205.5 636.9h0M1208.6 630.2h0M1211.7 638.1h0M1214.7 644.8h0M1217.8 626.2h0M1220.8 612.8h0M1223.9 636.8h0M1226.9 616.3h0M1230.0 618.7h0M1233.0 613.8h0M1236.1 637.2h0M1239.1 632.6h0M1242.2 608.8h0M1245.3 624.6h0M1248.3 624.6h0M1251.4 616.8h0M1254.4 618.2h0M1257.5 626.1h0M1260.5 622.1h0M1263.6 614.4h0M1266.6 619.3h0M1269.7 627.1h0M1272.7 606.1h0M1275.8 609.5h0M1278.9 622.1h0M1281.9 624.5h0M1285.0 610.8h0M1288.0 640.0h0M1291.1 617.3h0M1294.1 621.7h0M1297.2 621.5h0M1300.2 605.9h0M1303.3 609.7h0M1306.3 594.7h0M1309.4 617.0h0M1312.5 611.1h0M1315.5 626.9h0M1318.6 601.4h0M1321.6 616.4h0M1324.7 609.7h0M1327.7 599.1h0M1330.8 600.9h0M1333.8 605.9h0M1336.9 598.0h0M1339.9 613.9h0M1343.0 616.2h0M1346.1 621.5h0M1349.1 599.6h0M1352.2 585.4h0M1355.2 607.3h0M1358.3 603.3h0M1361.3 606.0h0M1364.4 597.6h0M1367.4 620.5h0M1370.5 592.0h0M1373.5 590.7h0M1376.6 608.3h0M1379.7 612.4h0M1382.7 614.2h0M1385.8 599.7h0M1388.8 591.1h0M1391.9 617.1h0M1394.9 623.5h0M1398.0 609.0h0M1401.0 607.0h0M1404.1 601.0h0M1407.1 613.5h0M1410.2 600.8h0M1413.3 599.0h0M1416.3 625.4h0M1419.4 610.3h0M1422.4 601.1h0M1425.5 598.3h0M1428.5 612.6h0M1431.6 626.3h0M1434.6 614.0h0M1437.7 620.5h0M1440.7 611.5h0M1443.8 595.0h0M832.9 762.3h0M836.0 755.0h0M839.0 758.1h0M842.1 760.2h0M845.1 753.1h0M848.2 738.1h0M851.2 753.9h0M854.3 725.4h0M857.3 732.4h0M860.4 721.0h0M863.4 736.8h0M866.5 721.2h0M869.6 706.7h0M872.6 729.4h0M875.7 725.4h0M878.7 713.8h0M881.8 713.8h0M884.8 729.6h0M887.9 723.4h0M890.9 706.2h0M894.0 702.0h0M897.0 695.8h0M900.1 703.0h0M903.2 692.5h0M906.2 685.2h0M909.3 707.2h0M912.3 684.3h0M915.4 686.7h0M918.4 680.6h0M921.5 694.8h0M924.5 688.9h0M927.6 686.6h0M930.6 690.5h0M933.7 675.8h0M936.8 682.3h0M939.8 693.1h0M942.9 679.8h0M945.9 691.4h0M949.0 694.7h0M952.0 687.1h0M955.1 674.8h0M958.1 672.2h0M961.2 674.6h0M964.2 668.1h0M967.3 653.6h0M970.4 682.2h0M973.4 665.3h0M976.5 667.7h0M979.5 680.8h0M982.6 673.0h0M985.6 665.4h0M988.7 666.8h0M991.7 673.6h0M994.8 656.9h0M997.8 660.1h0M1000.9 657.0h0M1004.0 647.6h0M1007.0 672.5h0M1010.1 649.6h0M1013.1 654.8h0M1016.2 667.7h0M1019.2 660.9h0M1022.3 662.5h0M1025.3 668.0h0M1028.4 647.6h0M1031.4 661.3h0M1034.5 672.6h0M1037.6 643.2h0M1040.6 654.7h0M1043.7 644.4h0M1046.7 645.5h0M1049.8 649.9h0M1052.8 650.7h0M1055.9 667.7h0M1058.9 651.9h0M1062.0 656.8h0M1065.0 638.8h0M1068.1 649.7h0M1071.2 646.7h0M1074.2 638.5h0M1077.3 649.3h0M1080.3 645.8h0M1083.4 643.1h0M1086.4 635.7h0M1089.5 653.7h0M1092.5 631.9h0M1095.6 640.3h0M1098.6 644.1h0M1101.7 633.8h0M1104.8 625.5h0M1107.8 623.9h0M1110.9 645.6h0M1113.9 622.3h0M1117.0 633.1h0M1120.0 622.2h0M1123.1 643.4h0M1126.1 634.3h0M1129.2 633.5h0M1132.2 643.0h0M1135.3 634.6h0M1138.3 621.5h0M1141.4 617.7h0M1144.5 623.4h0M1147.5 625.0h0M1150.6 632.5h0M1153.6 609.1h0M1156.7 639.9h0M1159.7 634.7h0M1162.8 628.9h0M1165.8 620.4h0M1168.9 628.6h0M1171.9 616.3h0M1175.0 638.5h0M1178.1 615.8h0M1181.1 606.7h0M1184.2 615.6h0M1187.2 625.6h0M1190.3 628.3h0M1193.3 611.8h0M1196.4 640.6h0M1199.4 631.2h0M1202.5 640.7h0M1205.5 624.7h0M1208.6 605.1h0M1211.7 628.6h0M1214.7 613.9h0M1217.8 635.4h0M1220.8 629.1h0M1223.9 628.3h0M1226.9 611.0h0M1230.0 629.8h0M1233.0 626.8h0M1236.1 621.2h0M1239.1 605.5h0M1242.2 619.6h0M1245.3 602.3h0M1248.3 615.1h0M1251.4 619.8h0M1254.4 606.3h0M1257.5 622.6h0M1260.5 623.9h0M1263.6 613.7h0M1266.6 629.7h0M1269.7 626.8h0M1272.7 622.7h0M1275.8 614.2h0M1278.9 603.4h0M1281.9 602.1h0M1285.0 613.8h0M1288.0 609.5h0M1291.1 612.5h0M1294.1 622.7h0M1297.2 604.0h0M1300.2 614.0h0M1303.3 600.6h0M1306.3 611.5h0M1309.4 615.9h0M1312.5 601.5h0M1315.5 611.6h0M1318.6 620.4h0M1321.6 599.5h0M1324.7 607.8h0M1327.7 607.7h0M1330.8 609.5h0M1333.8 616.2h0M1336.9 631.3h0M1339.9 616.3h0M1343.0 613.8h0M1346.1 604.2h0M1349.1 619.9h0M1352.2 601.3h0M1355.2 603.1h0M1358.3 587.9h0M1361.3 610.1h0M1364.4 602.8h0M1367.4 600.6h0M1370.5 596.4h0M1373.5 589.4h0M1376.6 596.7h0M1379.7 617.0h0M1382.7 586.7h0M1385.8 622.6h0M1388.8 596.8h0M1391.9 590.1h0M1394.9 610.5h0M1398.0 605.2h0M1401.0 604.8h0M1404.1 613.7h0M1407.1 600.3h0M1410.2 614.3h0M1413.3 604.1h0M1416.3 602.3h0M1419.4 598.3h0M1422.4 596.0h0M1425.5 604.2h0M1428.5 603.9h0M1431.6 611.7h0M1434.6 610.3h0M1437.7 601.0h0M1440.7 601.4h0M1443.8 603.8h0M832.9 755.9h0M836.0 747.8h0M839.0 746.9h0M842.1 738.7h0M845.1 753.9h0M848.2 736.6h0M851.2 739.6h0M854.3 733.1h0M857.3 728.3h0M860.4 721.6h0M863.4 703.0h0M866.5 702.1h0M869.6 717.6h0M872.6 703.1h0M875.7 708.4h0M878.7 693.5h0M881.8 698.7h0M884.8 693.9h0M887.9 700.2h0M890.9 697.1h0M894.0 702.0h0M897.0 709.5h0M900.1 698.2h0M903.2 678.9h0M906.2 676.5h0M909.3 697.9h0M912.3 698.6h0M915.4 697.6h0M918.4 696.2h0M921.5 697.8h0M924.5 691.9h0M927.6 678.0h0M930.6 678.6h0M933.7 667.9h0M936.8 684.8h0M939.8 702.4h0M942.9 687.3h0M945.9 692.9h0M949.0 684.1h0M952.0 686.1h0M955.1 670.1h0M958.1 687.5h0M961.2 679.1h0M964.2 660.3h0M967.3 675.7h0M970.4 690.0h0M973.4 664.1h0M976.5 666.8h0M979.5 666.1h0M982.6 663.0h0M985.6 677.3h0M988.7 677.4h0M991.7 664.1h0M994.8 679.5h0M997.8 671.6h0M1000.9 650.7h0M1004.0 671.9h0M1007.0 656.0h0M1010.1 649.0h0M1013.1 660.0h0M1016.2 664.6h0M1019.2 647.5h0M1022.3 671.7h0M1025.3 643.4h0M1028.4 666.7h0M1031.4 658.1h0M1034.5 668.7h0M1037.6 667.5h0M1040.6 647.2h0M1043.7 653.7h0M1046.7 649.4h0M1049.8 665.5h0M1052.8 656.2h0M1055.9 663.6h0M1058.9 650.3h0M1062.0 644.6h0M1065.0 644.4h0M1068.1 644.0h0M1071.2 654.9h0M1074.2 642.9h0M1077.3 652.4h0M1080.3 635.4h0M1083.4 649.1h0M1086.4 635.3h0M1089.5 650.0h0M1092.5 639.7h0M1095.6 642.9h0M1098.6 657.2h0M1101.7 636.1h0M1104.8 649.6h0M1107.8 656.7h0M1110.9 636.6h0M1113.9 626.6h0M1117.0 631.1h0M1120.0 644.8h0M1123.1 653.2h0M1126.1 659.5h0M1129.2 643.7h0M1132.2 642.0h0M1135.3 637.9h0M1138.3 623.8h0M1141.4 637.1h0M1144.5 643.9h0M1147.5 643.8h0M1150.6 642.3h0M1153.6 639.3h0M1156.7 631.8h0M1159.7 637.0h0M1162.8 636.0h0M1165.8 633.7h0M1168.9 632.5h0M1171.9 628.1h0M1175.0 623.7h0M1178.1 642.1h0M1181.1 637.3h0M1184.2 635.4h0M1187.2 636.4h0M1190.3 628.5h0M1193.3 627.5h0M1196.4 639.6h0M1199.4 615.1h0M1202.5 624.6h0M1205.5 621.9h0M1208.6 633.0h0M1211.7 620.7h0M1214.7 631.9h0M1217.8 635.8h0M1220.8 624.3h0M1223.9 635.2h0M1226.9 635.2h0M1230.0 620.0h0M1233.0 614.9h0M1236.1 627.9h0M1239.1 612.7h0M1242.2 609.3h0M1245.3 609.5h0M1248.3 616.0h0M1251.4 622.2h0M1254.4 607.5h0M1257.5 623.4h0M1260.5 615.8h0M1263.6 608.2h0M1266.6 601.5h0M1269.7 614.7h0M1272.7 615.7h0M1275.8 610.7h0M1278.9 612.8h0M1281.9 602.6h0M1285.0 602.1h0M1288.0 594.4h0M1291.1 610.3h0M1294.1 603.5h0M1297.2 617.4h0M1300.2 613.6h0M1303.3 597.0h0M1306.3 612.6h0M1309.4 627.4h0M1312.5 613.0h0M1315.5 610.6h0M1318.6 624.3h0M1321.6 604.3h0M1324.7 595.8h0M1327.7 609.4h0M1330.8 595.9h0M1333.8 622.6h0M1336.9 595.4h0M1339.9 602.5h0M1343.0 581.2h0M1346.1 599.9h0M1349.1 599.5h0M1352.2 598.3h0M1355.2 600.3h0M1358.3 599.4h0M1361.3 588.5h0M1364.4 591.4h0M1367.4 590.9h0M1370.5 589.8h0M1373.5 599.1h0M1376.6 575.9h0M1379.7 604.8h0M1382.7 587.9h0M1385.8 598.5h0M1388.8 587.8h0M1391.9 599.2h0M1394.9 588.1h0M1398.0 594.1h0M1401.0 589.6h0M1404.1 582.1h0M1407.1 597.4h0M1410.2 597.3h0M1413.3 620.4h0M1416.3 598.0h0M1419.4 589.3h0M1422.4 600.5h0M1425.5 598.3h0M1428.5 601.0h0M1431.6 616.6h0M1434.6 589.5h0M1437.7 603.3h0M1440.7 609.0h0M1443.8 584.7h0M832.9 751.0h0M836.0 745.5h0M839.0 745.2h0M842.1 740.6h0M845.1 749.8h0M848.2 730.6h0M851.2 724.0h0M854.3 732.9h0M857.3 726.8h0M860.4 723.8h0M863.4 726.4h0M866.5 706.8h0M869.6 704.4h0M872.6 694.3h0M875.7 721.4h0M878.7 699.3h0M881.8 698.7h0M884.8 708.3h0M887.9 712.0h0M890.9 698.9h0M894.0 681.0h0M897.0 710.8h0M900.1 701.9h0M903.2 699.1h0M906.2 692.3h0M909.3 677.6h0M912.3 691.6h0M915.4 707.9h0M918.4 696.2h0M921.5 695.9h0M924.5 681.1h0M927.6 679.1h0M930.6 688.7h0M933.7 670.8h0M936.8 694.5h0M939.8 678.6h0M942.9 662.0h0M945.9 689.9h0M949.0 668.7h0M952.0 662.3h0M955.1 676.9h0M958.1 669.4h0M961.2 685.4h0M964.2 664.7h0M967.3 677.9h0M970.4 671.2h0M973.4 662.8h0M976.5 669.5h0M979.5 676.8h0M982.6 664.2h0M985.6 664.0h0M988.7 668.2h0M991.7 677.8h0M994.8 660.2h0M997.8 647.6h0M1000.9 659.6h0M1004.0 659.3h0M1007.0 656.8h0M1010.1 647.1h0M1013.1 664.8h0M1016.2 642.0h0M1019.2 629.0h0M1022.3 643.2h0M1025.3 647.1h0M1028.4 642.7h0M1031.4 643.5h0M1034.5 651.1h0M1037.6 648.0h0M1040.6 648.6h0M1043.7 641.1h0M1046.7 629.4h0M1049.8 647.2h0M1052.8 628.4h0M1055.9 656.8h0M1058.9 638.2h0M1062.0 651.3h0M1065.0 643.7h0M1068.1 643.1h0M1071.2 661.8h0M1074.2 646.1h0M1077.3 640.1h0M1080.3 640.6h0M1083.4 655.0h0M1086.4 654.4h0M1089.5 633.1h0M1092.5 650.2h0M1095.6 619.8h0M1098.6 633.8h0M1101.7 631.6h0M1104.8 635.1h0M1107.8 638.9h0M1110.9 627.2h0M1113.9 631.0h0M1117.0 614.4h0M1120.0 628.6h0M1123.1 627.9h0M1126.1 619.6h0M1129.2 620.8h0M1132.2 649.4h0M1135.3 607.7h0M1138.3 641.9h0M1141.4 638.2h0M1144.5 632.2h0M1147.5 635.8h0M1150.6 609.0h0M1153.6 626.3h0M1156.7 637.0h0M1159.7 628.3h0M1162.8 632.3h0M1165.8 630.7h0M1168.9 620.4h0M1171.9 620.8h0M1175.0 627.5h0M1178.1 638.9h0M1181.1 631.6h0M1184.2 616.6h0M1187.2 619.8h0M1190.3 627.6h0M1193.3 617.2h0M1196.4 643.9h0M1199.4 632.8h0M1202.5 624.9h0M1205.5 621.0h0M1208.6 611.4h0M1211.7 620.7h0M1214.7 617.7h0M1217.8 617.5h0M1220.8 630.2h0M1223.9 620.5h0M1226.9 604.6h0M1230.0 611.6h0M1233.0 620.6h0M1236.1 617.3h0M1239.1 599.7h0M1242.2 601.9h0M1245.3 598.7h0M1248.3 605.1h0M1251.4 619.2h0M1254.4 616.5h0M1257.5 630.2h0M1260.5 601.5h0M1263.6 602.1h0M1266.6 594.6h0M1269.7 620.2h0M1272.7 595.9h0M1275.8 604.7h0M1278.9 608.6h0M1281.9 605.7h0M1285.0 619.2h0M1288.0 608.9h0M1291.1 617.9h0M1294.1 611.2h0M1297.2 604.1h0M1300.2 612.6h0M1303.3 598.5h0M1306.3 612.8h0M1309.4 611.3h0M1312.5 609.7h0M1315.5 603.4h0M1318.6 603.0h0M1321.6 594.6h0M1324.7 606.5h0M1327.7 609.0h0M1330.8 600.2h0M1333.8 583.9h0M1336.9 593.0h0M1339.9 619.6h0M1343.0 600.6h0M1346.1 603.3h0M1349.1 601.2h0M1352.2 590.6h0M1355.2 598.3h0M1358.3 598.8h0M1361.3 614.6h0M1364.4 599.7h0M1367.4 606.1h0M1370.5 594.7h0M1373.5 587.2h0M1376.6 607.2h0M1379.7 601.3h0M1382.7 592.7h0M1385.8 613.4h0M1388.8 604.5h0M1391.9 611.8h0M1394.9 602.1h0M1398.0 597.0h0M1401.0 599.1h0M1404.1 582.3h0M1407.1 588.9h0M1410.2 595.7h0M1413.3 584.1h0M1416.3 575.5h0M1419.4 597.2h0M1422.4 596.3h0M1425.5 591.0h0M1428.5 584.5h0M1431.6 615.4h0M1434.6 597.4h0M1437.7 577.7h0M1440.7 593.7h0M1443.8 575.2h0M832.9 765.5h0M836.0 757.9h0M839.0 758.5h0M842.1 754.2h0M845.1 744.9h0M848.2 740.3h0M851.2 736.1h0M854.3 736.8h0M857.3 733.0h0M860.4 728.6h0M863.4 714.9h0M866.5 723.6h0M869.6 709.9h0M872.6 724.7h0M875.7 713.3h0M878.7 735.0h0M881.8 724.8h0M884.8 715.1h0M887.9 713.7h0M890.9 713.9h0M894.0 724.0h0M897.0 710.9h0M900.1 711.9h0M903.2 713.0h0M906.2 703.5h0M909.3 712.9h0M912.3 710.4h0M915.4 684.3h0M918.4 697.4h0M921.5 686.8h0M924.5 702.9h0M927.6 699.9h0M930.6 707.5h0M933.7 706.6h0M936.8 703.4h0M939.8 685.9h0M942.9 699.8h0M945.9 699.8h0M949.0 696.8h0M952.0 681.4h0M955.1 691.9h0M958.1 679.2h0M961.2 695.1h0M964.2 677.7h0M967.3 684.1h0M970.4 676.2h0M973.4 690.4h0M976.5 680.1h0M979.5 679.5h0M982.6 685.5h0M985.6 671.0h0M988.7 676.1h0M991.7 668.0h0M994.8 679.2h0M997.8 669.4h0M1000.9 682.5h0M1004.0 660.3h0M1007.0 678.1h0M1010.1 670.2h0M1013.1 662.6h0M1016.2 658.3h0M1019.2 660.1h0M1022.3 683.1h0M1025.3 675.2h0M1028.4 671.7h0M1031.4 665.0h0M1034.5 676.2h0M1037.6 671.8h0M1040.6 661.1h0M1043.7 662.3h0M1046.7 656.4h0M1049.8 657.3h0M1052.8 676.1h0M1055.9 672.5h0M1058.9 660.9h0M1062.0 657.2h0M1065.0 665.3h0M1068.1 649.0h0M1071.2 664.9h0M1074.2 662.0h0M1077.3 656.3h0M1080.3 652.8h0M1083.4 661.2h0M1086.4 655.2h0M1089.5 664.5h0M1092.5 661.9h0M1095.6 640.2h0M1098.6 665.4h0M1101.7 639.1h0M1104.8 660.1h0M1107.8 642.0h0M1110.9 659.3h0M1113.9 665.7h0M1117.0 654.9h0M1120.0 653.1h0M1123.1 648.9h0M1126.1 661.5h0M1129.2 665.6h0M1132.2 654.9h0M1135.3 656.1h0M1138.3 660.0h0M1141.4 651.6h0M1144.5 636.2h0M1147.5 634.9h0M1150.6 643.3h0M1153.6 633.6h0M1156.7 624.9h0M1159.7 628.1h0M1162.8 658.4h0M1165.8 646.7h0M1168.9 636.1h0M1171.9 632.0h0M1175.0 654.1h0M1178.1 621.2h0M1181.1 647.9h0M1184.2 651.3h0M1187.2 661.4h0M1190.3 632.3h0M1193.3 629.9h0M1196.4 629.7h0M1199.4 637.0h0M1202.5 633.9h0M1205.5 634.3h0M1208.6 616.2h0M1211.7 627.3h0M1214.7 623.1h0M1217.8 649.9h0M1220.8 649.7h0M1223.9 621.4h0M1226.9 626.5h0M1230.0 628.6h0M1233.0 634.4h0M1236.1 631.3h0M1239.1 638.5h0M1242.2 627.4h0M1245.3 649.3h0M1248.3 631.8h0M1251.4 638.7h0M1254.4 642.3h0M1257.5 634.4h0M1260.5 631.4h0M1263.6 630.5h0M1266.6 611.7h0M1269.7 639.7h0M1272.7 636.9h0M1275.8 625.8h0M1278.9 626.4h0M1281.9 622.1h0M1285.0 616.5h0M1288.0 622.7h0M1291.1 636.1h0M1294.1 605.1h0M1297.2 623.4h0M1300.2 625.5h0M1303.3 626.0h0M1306.3 635.1h0M1309.4 635.0h0M1312.5 626.2h0M1315.5 623.3h0M1318.6 619.8h0M1321.6 634.1h0M1324.7 616.0h0M1327.7 633.0h0M1330.8 609.6h0M1333.8 598.6h0M1336.9 634.4h0M1339.9 614.9h0M1343.0 608.7h0M1346.1 623.0h0M1349.1 601.2h0M1352.2 630.9h0M1355.2 620.9h0M1358.3 610.4h0M1361.3 598.5h0M1364.4 619.1h0M1367.4 628.8h0M1370.5 609.1h0M1373.5 597.3h0M1376.6 611.4h0M1379.7 623.1h0M1382.7 630.5h0M1385.8 596.1h0M1388.8 613.8h0M1391.9 632.8h0M1394.9 633.9h0M1398.0 603.5h0M1401.0 601.8h0M1404.1 616.1h0M1407.1 620.9h0M1410.2 608.5h0M1413.3 607.4h0M1416.3 614.5h0M1419.4 629.2h0M1422.4 613.5h0M1425.5 594.9h0M1428.5 626.3h0M1431.6 622.5h0M1434.6 623.8h0M1437.7 623.7h0M1440.7 598.2h0M1443.8 605.9h0M832.9 754.4h0M836.0 735.1h0M839.0 730.5h0M842.1 726.1h0M845.1 729.3h0M848.2 713.7h0M851.2 722.1h0M854.3 712.3h0M857.3 704.7h0M860.4 698.4h0M863.4 704.1h0M866.5 692.7h0M869.6 690.6h0M872.6 688.0h0M875.7 693.1h0M878.7 693.7h0M881.8 687.8h0M884.8 683.9h0M887.9 668.0h0M890.9 687.3h0M894.0 672.4h0M897.0 678.5h0M900.1 675.3h0M903.2 680.2h0M906.2 647.7h0M909.3 665.3h0M912.3 667.5h0M915.4 657.3h0M918.4 672.7h0M921.5 669.5h0M924.5 657.6h0M927.6 669.6h0M930.6 658.6h0M933.7 642.1h0M936.8 667.0h0M939.8 657.4h0M942.9 650.1h0M945.9 671.3h0M949.0 650.4h0M952.0 650.3h0M955.1 665.1h0M958.1 647.9h0M961.2 640.7h0M964.2 635.4h0M967.3 646.7h0M970.4 630.9h0M973.4 643.3h0M976.5 644.2h0M979.5 650.7h0M982.6 645.8h0M985.6 631.6h0M988.7 635.8h0M991.7 621.2h0M994.8 628.2h0M997.8 629.3h0M1000.9 607.3h0M1004.0 632.1h0M1007.0 621.4h0M1010.1 609.7h0M1013.1 620.9h0M1016.2 615.7h0M1019.2 617.3h0M1022.3 641.2h0M1025.3 610.6h0M1028.4 631.2h0M1031.4 624.1h0M1034.5 609.4h0M1037.6 626.7h0M1040.6 624.1h0M1043.7 617.3h0M1046.7 629.3h0M1049.8 614.8h0M1052.8 620.4h0M1055.9 623.8h0M1058.9 628.8h0M1062.0 614.1h0M1065.0 639.1h0M1068.1 623.9h0M1071.2 624.4h0M1074.2 610.7h0M1077.3 595.0h0M1080.3 609.6h0M1083.4 602.7h0M1086.4 629.1h0M1089.5 605.2h0M1092.5 627.7h0M1095.6 623.0h0M1098.6 618.0h0M1101.7 626.5h0M1104.8 604.4h0M1107.8 598.5h0M1110.9 600.7h0M1113.9 620.5h0M1117.0 626.5h0M1120.0 612.6h0M1123.1 588.7h0M1126.1 624.7h0M1129.2 615.6h0M1132.2 589.0h0M1135.3 595.2h0M1138.3 593.8h0M1141.4 601.1h0M1144.5 600.5h0M1147.5 601.1h0M1150.6 604.1h0M1153.6 620.9h0M1156.7 602.5h0M1159.7 588.8h0M1162.8 609.7h0M1165.8 593.5h0M1168.9 603.9h0M1171.9 607.9h0M1175.0 591.9h0M1178.1 601.5h0M1181.1 612.8h0M1184.2 610.9h0M1187.2 587.6h0M1190.3 594.9h0M1193.3 606.4h0M1196.4 589.9h0M1199.4 596.2h0M1202.5 577.6h0M1205.5 601.6h0M1208.6 607.2h0M1211.7 607.7h0M1214.7 604.8h0M1217.8 600.3h0M1220.8 601.9h0M1223.9 600.6h0M1226.9 605.2h0M1230.0 584.2h0M1233.0 579.9h0M1236.1 601.2h0M1239.1 575.4h0M1242.2 577.0h0M1245.3 573.7h0M1248.3 593.1h0M1251.4 598.5h0M1254.4 574.8h0M1257.5 607.5h0M1260.5 590.4h0M1263.6 591.3h0M1266.6 590.0h0M1269.7 592.6h0M1272.7 584.5h0M1275.8 582.8h0M1278.9 581.0h0M1281.9 593.1h0M1285.0 583.2h0M1288.0 576.7h0M1291.1 580.4h0M1294.1 589.8h0M1297.2 584.5h0M1300.2 573.5h0M1303.3 583.2h0M1306.3 582.2h0M1309.4 579.5h0M1312.5 569.3h0M1315.5 571.7h0M1318.6 553.7h0M1321.6 558.9h0M1324.7 567.1h0M1327.7 564.5h0M1330.8 577.0h0M1333.8 570.9h0M1336.9 563.3h0M1339.9 555.3h0M1343.0 567.1h0M1346.1 570.2h0M1349.1 559.8h0M1352.2 564.8h0M1355.2 564.6h0M1358.3 554.0h0M1361.3 545.5h0M1364.4 564.2h0M1367.4 542.0h0M1370.5 559.6h0M1373.5 574.6h0M1376.6 556.7h0M1379.7 561.3h0M1382.7 558.5h0M1385.8 579.0h0M1388.8 558.3h0M1391.9 556.5h0M1394.9 576.9h0M1398.0 580.5h0M1401.0 562.0h0M1404.1 549.1h0M1407.1 552.5h0M1410.2 582.7h0M1413.3 552.5h0M1416.3 582.2h0M1419.4 573.4h0M1422.4 574.7h0M1425.5 560.0h0M1428.5 558.9h0M1431.6 569.9h0M1434.6 564.2h0M1437.7 576.6h0M1440.7 566.5h0M1443.8 552.9h0M832.9 758.7h0M836.0 737.4h0M839.0 746.9h0M842.1 742.1h0M845.1 730.9h0M848.2 729.5h0M851.2 727.5h0M854.3 714.5h0M857.3 699.7h0M860.4 702.3h0M863.4 703.6h0M866.5 687.3h0M869.6 694.0h0M872.6 696.6h0M875.7 691.3h0M878.7 674.1h0M881.8 664.5h0M884.8 686.7h0M887.9 685.7h0M890.9 673.9h0M894.0 673.2h0M897.0 667.5h0M900.1 676.1h0M903.2 683.1h0M906.2 662.7h0M909.3 680.0h0M912.3 675.0h0M915.4 675.6h0M918.4 664.0h0M921.5 681.3h0M924.5 674.8h0M927.6 649.6h0M930.6 655.9h0M933.7 654.0h0M936.8 653.1h0M939.8 642.5h0M942.9 668.7h0M945.9 660.3h0M949.0 652.2h0M952.0 662.4h0M955.1 654.9h0M958.1 663.8h0M961.2 655.5h0M964.2 653.1h0M967.3 647.1h0M970.4 646.7h0M973.4 647.9h0M976.5 673.8h0M979.5 650.4h0M982.6 652.3h0M985.6 649.9h0M988.7 655.5h0M991.7 638.5h0M994.8 643.7h0M997.8 648.5h0M1000.9 642.2h0M1004.0 636.2h0M1007.0 649.9h0M1010.1 629.3h0M1013.1 634.8h0M1016.2 628.8h0M1019.2 638.9h0M1022.3 637.4h0M1025.3 641.6h0M1028.4 638.2h0M1031.4 628.9h0M1034.5 629.4h0M1037.6 626.7h0M1040.6 640.6h0M1043.7 629.0h0M1046.7 614.6h0M1049.8 628.1h0M1052.8 618.5h0M1055.9 626.0h0M1058.9 611.3h0M1062.0 620.0h0M1065.0 615.9h0M1068.1 617.9h0M1071.2 597.5h0M1074.2 621.1h0M1077.3 596.7h0M1080.3 629.7h0M1083.4 613.6h0M1086.4 606.1h0M1089.5 615.6h0M1092.5 600.7h0M1095.6 595.0h0M1098.6 609.3h0M1101.7 604.4h0M1104.8 606.7h0M1107.8 617.8h0M1110.9 607.7h0M1113.9 598.3h0M1117.0 594.8h0M1120.0 601.3h0M1123.1 604.5h0M1126.1 600.7h0M1129.2 601.1h0M1132.2 588.8h0M1135.3 595.1h0M1138.3 619.0h0M1141.4 598.4h0M1144.5 590.3h0M1147.5 617.4h0M1150.6 589.6h0M1153.6 596.6h0M1156.7 583.0h0M1159.7 598.1h0M1162.8 596.4h0M1165.8 596.5h0M1168.9 591.5h0M1171.9 582.2h0M1175.0 588.9h0M1178.1 580.6h0M1181.1 592.7h0M1184.2 588.8h0M1187.2 586.8h0M1190.3 581.2h0M1193.3 581.3h0M1196.4 571.9h0M1199.4 593.5h0M1202.5 587.8h0M1205.5 581.3h0M1208.6 571.1h0M1211.7 581.1h0M1214.7 593.3h0M1217.8 575.4h0M1220.8 589.1h0M1223.9 586.3h0M1226.9 570.9h0M1230.0 574.9h0M1233.0 596.7h0M1236.1 567.3h0M1239.1 581.3h0M1242.2 578.5h0M1245.3 602.6h0M1248.3 588.0h0M1251.4 581.0h0M1254.4 586.3h0M1257.5 585.3h0M1260.5 577.1h0M1263.6 576.3h0M1266.6 576.1h0M1269.7 592.3h0M1272.7 578.3h0M1275.8 582.1h0M1278.9 555.8h0M1281.9 573.8h0M1285.0 581.8h0M1288.0 576.7h0M1291.1 590.9h0M1294.1 573.5h0M1297.2 563.5h0M1300.2 563.3h0M1303.3 553.3h0M1306.3 577.7h0M1309.4 582.6h0M1312.5 571.9h0M1315.5 570.5h0M1318.6 572.0h0M1321.6 560.1h0M1324.7 574.0h0M1327.7 568.6h0M1330.8 560.6h0M1333.8 567.7h0M1336.9 556.9h0M1339.9 550.2h0M1343.0 562.7h0M1346.1 579.2h0M1349.1 554.2h0M1352.2 578.3h0M1355.2 571.0h0M1358.3 581.2h0M1361.3 575.6h0M1364.4 578.7h0M1367.4 567.5h0M1370.5 581.2h0M1373.5 576.3h0M1376.6 571.4h0M1379.7 554.3h0M1382.7 572.1h0M1385.8 584.8h0M1388.8 580.8h0M1391.9 552.3h0M1394.9 585.7h0M1398.0 590.3h0M1401.0 574.4h0M1404.1 572.1h0M1407.1 569.2h0M1410.2 590.8h0M1413.3 574.7h0M1416.3 577.1h0M1419.4 557.0h0M1422.4 560.1h0M1425.5 591.9h0M1428.5 564.0h0M1431.6 577.2h0M1434.6 575.0h0M1437.7 577.7h0M1440.7 591.2h0M1443.8 577.7h0M832.9 752.5h0M836.0 745.4h0M839.0 748.1h0M842.1 745.0h0M845.1 740.1h0M848.2 741.1h0M851.2 731.8h0M854.3 715.7h0M857.3 695.0h0M860.4 712.4h0M863.4 694.5h0M866.5 705.8h0M869.6 692.4h0M872.6 699.3h0M875.7 702.5h0M878.7 696.7h0M881.8 710.6h0M884.8 707.1h0M887.9 715.0h0M890.9 674.8h0M894.0 671.7h0M897.0 685.3h0M900.1 670.2h0M903.2 679.1h0M906.2 688.1h0M909.3 679.3h0M912.3 692.7h0M915.4 675.2h0M918.4 669.3h0M921.5 669.1h0M924.5 680.7h0M927.6 666.8h0M930.6 678.5h0M933.7 674.8h0M936.8 682.5h0M939.8 658.8h0M942.9 660.4h0M945.9 657.1h0M949.0 646.4h0M952.0 644.4h0M955.1 662.0h0M958.1 645.3h0M961.2 660.3h0M964.2 659.5h0M967.3 651.0h0M970.4 651.2h0M973.4 648.4h0M976.5 649.7h0M979.5 640.5h0M982.6 660.4h0M985.6 630.7h0M988.7 645.6h0M991.7 643.3h0M994.8 644.5h0M997.8 649.2h0M1000.9 628.2h0M1004.0 642.1h0M1007.0 637.0h0M1010.1 624.3h0M1013.1 620.4h0M1016.2 631.3h0M1019.2 628.4h0M1022.3 623.7h0M1025.3 626.3h0M1028.4 623.0h0M1031.4 635.2h0M1034.5 628.9h0M1037.6 636.2h0M1040.6 616.8h0M1043.7 621.2h0M1046.7 622.3h0M1049.8 623.4h0M1052.8 630.5h0M1055.9 638.8h0M1058.9 630.7h0M1062.0 618.1h0M1065.0 631.0h0M1068.1 608.1h0M1071.2 618.3h0M1074.2 627.1h0M1077.3 617.7h0M1080.3 601.0h0M1083.4 619.4h0M1086.4 600.9h0M1089.5 621.5h0M1092.5 626.2h0M1095.6 614.1h0M1098.6 628.9h0M1101.7 631.0h0M1104.8 632.8h0M1107.8 600.6h0M1110.9 613.8h0M1113.9 630.2h0M1117.0 598.9h0M1120.0 621.6h0M1123.1 615.2h0M1126.1 594.2h0M1129.2 615.8h0M1132.2 592.8h0M1135.3 609.0h0M1138.3 601.0h0M1141.4 593.8h0M1144.5 599.7h0M1147.5 601.7h0M1150.6 599.5h0M1153.6 615.5h0M1156.7 601.1h0M1159.7 601.9h0M1162.8 585.9h0M1165.8 605.2h0M1168.9 594.7h0M1171.9 598.8h0M1175.0 616.0h0M1178.1 605.5h0M1181.1 599.6h0M1184.2 597.2h0M1187.2 607.1h0M1190.3 603.4h0M1193.3 593.4h0M1196.4 591.7h0M1199.4 602.0h0M1202.5 601.1h0M1205.5 590.4h0M1208.6 605.3h0M1211.7 593.3h0M1214.7 592.1h0M1217.8 613.0h0M1220.8 580.3h0M1223.9 580.3h0M1226.9 584.8h0M1230.0 580.8h0M1233.0 590.7h0M1236.1 582.7h0M1239.1 600.3h0M1242.2 606.2h0M1245.3 592.6h0M1248.3 589.6h0M1251.4 592.9h0M1254.4 598.2h0M1257.5 599.4h0M1260.5 598.1h0M1263.6 593.2h0M1266.6 607.7h0M1269.7 591.1h0M1272.7 594.4h0M1275.8 584.3h0M1278.9 601.8h0M1281.9 592.4h0M1285.0 595.2h0M1288.0 596.8h0M1291.1 589.0h0M1294.1 587.7h0M1297.2 582.2h0M1300.2 575.5h0M1303.3 578.2h0M1306.3 599.1h0M1309.4 609.8h0M1312.5 593.8h0M1315.5 590.8h0M1318.6 581.4h0M1321.6 582.5h0M1324.7 580.9h0M1327.7 593.5h0M1330.8 597.0h0M1333.8 584.0h0M1336.9 565.1h0M1339.9 586.8h0M1343.0 594.8h0M1346.1 577.2h0M1349.1 580.3h0M1352.2 579.9h0M1355.2 569.5h0M1358.3 580.0h0M1361.3 598.7h0M1364.4 588.6h0M1367.4 582.5h0M1370.5 573.2h0M1373.5 587.5h0M1376.6 576.4h0M1379.7 571.3h0M1382.7 570.3h0M1385.8 589.9h0M1388.8 583.4h0M1391.9 582.7h0M1394.9 585.8h0M1398.0 567.4h0M1401.0 586.4h0M1404.1 571.2h0M1407.1 586.4h0M1410.2 573.8h0M1413.3 569.7h0M1416.3 568.4h0M1419.4 585.7h0M1422.4 586.6h0M1425.5 577.4h0M1428.5 571.2h0M1431.6 584.4h0M1434.6 574.1h0M1437.7 597.5h0M1440.7 579.9h0M1443.8 575.5h0M832.9 750.5h0M836.0 755.7h0M839.0 748.0h0M842.1 754.5h0M845.1 740.5h0M848.2 755.5h0M851.2 732.8h0M854.3 737.6h0M857.3 721.9h0M860.4 697.2h0M863.4 719.2h0M866.5 717.9h0M869.6 704.0h0M872.6 704.7h0M875.7 695.8h0M878.7 697.3h0M881.8 692.9h0M884.8 682.7h0M887.9 701.7h0M890.9 697.1h0M894.0 683.2h0M897.0 689.3h0M900.1 697.2h0M903.2 707.9h0M906.2 679.2h0M909.3 682.7h0M912.3 690.3h0M915.4 678.4h0M918.4 667.0h0M921.5 685.3h0M924.5 669.2h0M927.6 676.0h0M930.6 672.9h0M933.7 677.3h0M936.8 672.7h0M939.8 663.6h0M942.9 665.5h0M945.9 661.4h0M949.0 662.7h0M952.0 656.6h0M955.1 652.2h0M958.1 660.6h0M961.2 656.4h0M964.2 656.6h0M967.3 655.4h0M970.4 661.9h0M973.4 661.6h0M976.5 663.1h0M979.5 647.2h0M982.6 653.1h0M985.6 650.7h0M988.7 658.8h0M991.7 649.6h0M994.8 643.0h0M997.8 665.4h0M1000.9 648.0h0M1004.0 633.6h0M1007.0 660.4h0M1010.1 652.0h0M1013.1 637.3h0M1016.2 623.2h0M1019.2 647.0h0M1022.3 635.1h0M1025.3 659.5h0M1028.4 655.2h0M1031.4 641.8h0M1034.5 636.4h0M1037.6 647.8h0M1040.6 627.3h0M1043.7 638.4h0M1046.7 659.3h0M1049.8 634.8h0M1052.8 632.1h0M1055.9 631.3h0M1058.9 654.0h0M1062.0 648.6h0M1065.0 636.5h0M1068.1 643.2h0M1071.2 620.7h0M1074.2 647.6h0M1077.3 648.3h0M1080.3 625.0h0M1083.4 614.0h0M1086.4 615.0h0M1089.5 644.6h0M1092.5 624.5h0M1095.6 647.8h0M1098.6 613.5h0M1101.7 638.9h0M1104.8 632.4h0M1107.8 640.9h0M1110.9 612.8h0M1113.9 645.7h0M1117.0 621.9h0M1120.0 621.2h0M1123.1 620.5h0M1126.1 632.3h0M1129.2 633.1h0M1132.2 623.5h0M1135.3 621.4h0M1138.3 619.8h0M1141.4 621.5h0M1144.5 626.5h0M1147.5 629.3h0M1150.6 621.1h0M1153.6 615.7h0M1156.7 635.0h0M1159.7 627.2h0M1162.8 617.2h0M1165.8 630.1h0M1168.9 622.6h0M1171.9 628.4h0M1175.0 627.9h0M1178.1 624.6h0M1181.1 638.2h0M1184.2 630.5h0M1187.2 639.2h0M1190.3 626.5h0M1193.3 612.2h0M1196.4 624.3h0M1199.4 607.6h0M1202.5 618.8h0M1205.5 637.2h0M1208.6 614.4h0M1211.7 621.3h0M1214.7 618.2h0M1217.8 618.9h0M1220.8 628.0h0M1223.9 628.8h0M1226.9 622.8h0M1230.0 621.6h0M1233.0 604.4h0M1236.1 611.1h0M1239.1 615.6h0M1242.2 625.8h0M1245.3 602.1h0M1248.3 608.9h0M1251.4 599.7h0M1254.4 618.1h0M1257.5 594.5h0M1260.5 608.0h0M1263.6 604.8h0M1266.6 603.6h0M1269.7 608.9h0M1272.7 624.4h0M1275.8 624.7h0M1278.9 600.1h0M1281.9 600.8h0M1285.0 622.0h0M1288.0 617.5h0M1291.1 599.6h0M1294.1 612.0h0M1297.2 614.0h0M1300.2 617.6h0M1303.3 629.8h0M1306.3 612.3h0M1309.4 607.9h0M1312.5 607.3h0M1315.5 599.7h0M1318.6 617.5h0M1321.6 589.8h0M1324.7 592.1h0M1327.7 616.2h0M1330.8 622.2h0M1333.8 607.4h0M1336.9 607.3h0M1339.9 587.2h0M1343.0 606.1h0M1346.1 602.2h0M1349.1 615.8h0M1352.2 610.6h0M1355.2 591.2h0M1358.3 618.3h0M1361.3 604.9h0M1364.4 604.4h0M1367.4 583.0h0M1370.5 576.2h0M1373.5 589.1h0M1376.6 617.9h0M1379.7 594.1h0M1382.7 585.1h0M1385.8 606.2h0M1388.8 589.8h0M1391.9 594.4h0M1394.9 603.1h0M1398.0 622.0h0M1401.0 612.2h0M1404.1 587.3h0M1407.1 586.6h0M1410.2 610.7h0M1413.3 595.3h0M1416.3 618.3h0M1419.4 601.4h0M1422.4 583.6h0M1425.5 591.2h0M1428.5 598.4h0M1431.6 595.7h0M1434.6 572.0h0M1437.7 589.8h0M1440.7 590.0h0M1443.8 591.6h0M1321.6 636.9h0M1330.8 643.2h0M1339.9 645.0h0M1346.1 638.7h0M1355.2 648.6h0M1361.3 633.3h0M1336.9 630.6h0M1367.4 627.9h0M1315.5 649.5h0M1376.6 623.4h0M1349.1 628.8h0M1440.7 618.9h0" fill="none" stroke="#a5cdf8" stroke-width="10" stroke-linecap="round"/>
<path d="M832.9 765.8h0M836.0 774.1h0M839.0 764.2h0M842.1 754.6h0M845.1 769.5h0M848.2 765.2h0M851.2 771.9h0M854.3 758.3h0M857.3 767.1h0M860.4 774.9h0M863.4 775.6h0M866.5 764.2h0M869.6 763.6h0M872.6 745.3h0M875.7 768.3h0M878.7 755.2h0M881.8 763.3h0M884.8 770.0h0M887.9 763.0h0M890.9 747.0h0M894.0 764.6h0M897.0 748.7h0M900.1 742.1h0M903.2 744.7h0M906.2 746.2h0M909.3 735.0h0M912.3 734.5h0M915.4 764.2h0M918.4 750.0h0M921.5 756.4h0M924.5 754.9h0M927.6 761.3h0M930.6 754.7h0M933.7 730.3h0M936.8 758.9h0M939.8 741.5h0M942.9 743.6h0M945.9 769.0h0M949.0 740.9h0M952.0 739.3h0M955.1 732.7h0M958.1 746.8h0M961.2 734.7h0M964.2 748.7h0M967.3 741.9h0M970.4 763.5h0M973.4 761.1h0M976.5 745.6h0M979.5 770.4h0M982.6 770.2h0M985.6 746.8h0M988.7 753.4h0M991.7 761.0h0M994.8 754.7h0M997.8 758.4h0M1000.9 758.3h0M1004.0 757.2h0M1007.0 755.9h0M1010.1 767.0h0M1013.1 763.9h0M1016.2 747.5h0M1019.2 749.9h0M1022.3 758.3h0M1025.3 747.1h0M1028.4 740.8h0M1031.4 740.2h0M1034.5 750.4h0M1037.6 742.3h0M1040.6 735.8h0M1043.7 739.4h0M1046.7 744.3h0M1049.8 751.9h0M1052.8 743.6h0M1055.9 747.1h0M1058.9 736.9h0M1062.0 748.2h0M1065.0 746.1h0M1068.1 756.0h0M1071.2 742.0h0M1074.2 742.0h0M1077.3 752.3h0M1080.3 744.1h0M1083.4 749.2h0M1086.4 756.5h0M1089.5 760.3h0M1092.5 745.0h0M1095.6 754.1h0M1098.6 728.2h0M1101.7 735.7h0M1104.8 744.5h0M1107.8 736.6h0M1110.9 730.9h0M1113.9 760.2h0M1117.0 743.3h0M1120.0 751.9h0M1123.1 743.7h0M1126.1 758.5h0M1129.2 734.0h0M1132.2 754.5h0M1135.3 735.8h0M1138.3 731.2h0M1141.4 745.0h0M1144.5 737.6h0M1147.5 740.7h0M1150.6 738.4h0M1153.6 737.7h0M1156.7 740.8h0M1159.7 744.1h0M1162.8 743.7h0M1165.8 733.6h0M1168.9 724.7h0M1171.9 716.6h0M1175.0 728.7h0M1178.1 727.9h0M1181.1 722.7h0M1184.2 733.7h0M1187.2 711.5h0M1190.3 705.1h0M1193.3 723.9h0M1196.4 710.7h0M1199.4 715.4h0M1202.5 721.8h0M1205.5 708.2h0M1208.6 721.5h0M1211.7 710.4h0M1214.7 716.0h0M1217.8 723.8h0M1220.8 712.7h0M1223.9 734.3h0M1226.9 708.2h0M1230.0 707.4h0M1233.0 704.5h0M1236.1 715.0h0M1239.1 709.3h0M1242.2 706.3h0M1245.3 701.2h0M1248.3 694.1h0M1251.4 703.9h0M1254.4 692.1h0M1257.5 707.0h0M1260.5 715.7h0M1263.6 702.5h0M1266.6 707.7h0M1269.7 699.3h0M1272.7 699.3h0M1275.8 697.7h0M1278.9 696.1h0M1281.9 706.3h0M1285.0 693.2h0M1288.0 689.9h0M1291.1 681.2h0M1294.1 673.6h0M1297.2 695.3h0M1300.2 707.1h0M1303.3 698.8h0M1306.3 684.5h0M1309.4 688.4h0M1312.5 668.9h0M1315.5 675.9h0M1318.6 688.2h0M1321.6 684.5h0M1324.7 687.3h0M1327.7 652.6h0M1330.8 683.3h0M1333.8 679.7h0M1336.9 680.6h0M1339.9 675.6h0M1343.0 678.4h0M1346.1 669.8h0M1349.1 674.1h0M1352.2 674.8h0M1355.2 661.5h0M1358.3 652.1h0M1361.3 656.0h0M1364.4 658.8h0M1367.4 662.2h0M1370.5 662.8h0M1373.5 656.6h0M1376.6 647.6h0M1379.7 658.5h0M1382.7 648.5h0M1385.8 644.9h0M1388.8 649.5h0M1391.9 662.2h0M1394.9 662.1h0M1398.0 639.5h0M1401.0 630.1h0M1404.1 646.2h0M1407.1 644.7h0M1410.2 623.4h0M1413.3 625.3h0M1416.3 627.4h0M1419.4 630.0h0M1422.4 607.2h0M1425.5 618.2h0M1428.5 596.9h0M1431.6 608.5h0M1434.6 597.4h0M1437.7 603.0h0M1440.7 606.9h0M1443.8 617.8h0M832.9 732.3h0M836.0 728.3h0M839.0 731.6h0M842.1 745.0h0M845.1 731.4h0M848.2 737.3h0M851.2 742.7h0M854.3 749.3h0M857.3 742.6h0M860.4 727.7h0M863.4 737.6h0M866.5 737.0h0M869.6 717.2h0M872.6 742.8h0M875.7 753.2h0M878.7 742.3h0M881.8 752.1h0M884.8 735.7h0M887.9 732.8h0M890.9 715.6h0M894.0 736.2h0M897.0 749.8h0M900.1 735.7h0M903.2 730.6h0M906.2 712.2h0M909.3 733.4h0M912.3 730.9h0M915.4 722.9h0M918.4 745.3h0M921.5 722.1h0M924.5 719.6h0M927.6 719.3h0M930.6 737.2h0M933.7 706.9h0M936.8 724.7h0M939.8 707.1h0M942.9 720.6h0M945.9 726.0h0M949.0 718.5h0M952.0 743.4h0M955.1 727.0h0M958.1 752.7h0M961.2 747.0h0M964.2 721.7h0M967.3 737.4h0M970.4 731.6h0M973.4 724.9h0M976.5 733.3h0M979.5 723.3h0M982.6 720.0h0M985.6 726.7h0M988.7 717.6h0M991.7 704.3h0M994.8 731.8h0M997.8 735.0h0M1000.9 736.7h0M1004.0 722.7h0M1007.0 707.7h0M1010.1 734.1h0M1013.1 733.5h0M1016.2 730.5h0M1019.2 718.1h0M1022.3 734.5h0M1025.3 734.6h0M1028.4 733.8h0M1031.4 735.1h0M1034.5 726.7h0M1037.6 722.5h0M1040.6 738.9h0M1043.7 734.4h0M1046.7 730.6h0M1049.8 721.4h0M1052.8 711.0h0M1055.9 721.4h0M1058.9 719.0h0M1062.0 740.1h0M1065.0 722.7h0M1068.1 725.9h0M1071.2 730.8h0M1074.2 719.8h0M1077.3 740.3h0M1080.3 726.3h0M1083.4 741.1h0M1086.4 724.5h0M1089.5 721.7h0M1092.5 710.1h0M1095.6 720.6h0M1098.6 728.5h0M1101.7 725.7h0M1104.8 701.1h0M1107.8 713.7h0M1110.9 717.6h0M1113.9 720.2h0M1117.0 709.5h0M1120.0 736.3h0M1123.1 719.3h0M1126.1 718.7h0M1129.2 705.1h0M1132.2 727.0h0M1135.3 722.8h0M1138.3 699.0h0M1141.4 699.3h0M1144.5 732.1h0M1147.5 718.7h0M1150.6 704.4h0M1153.6 704.2h0M1156.7 720.8h0M1159.7 720.8h0M1162.8 692.9h0M1165.8 702.2h0M1168.9 698.8h0M1171.9 709.7h0M1175.0 709.2h0M1178.1 708.7h0M1181.1 696.2h0M1184.2 703.1h0M1187.2 693.0h0M1190.3 701.8h0M1193.3 716.0h0M1196.4 697.4h0M1199.4 705.1h0M1202.5 689.3h0M1205.5 693.6h0M1208.6 703.5h0M1211.7 687.1h0M1214.7 694.4h0M1217.8 691.3h0M1220.8 697.2h0M1223.9 692.9h0M1226.9 693.1h0M1230.0 697.1h0M1233.0 696.0h0M1236.1 691.0h0M1239.1 679.1h0M1242.2 689.9h0M1245.3 711.9h0M1248.3 700.8h0M1251.4 705.2h0M1254.4 698.7h0M1257.5 685.6h0M1260.5 692.2h0M1263.6 681.3h0M1266.6 696.1h0M1269.7 684.6h0M1272.7 690.8h0M1275.8 677.2h0M1278.9 664.7h0M1281.9 684.7h0M1285.0 669.3h0M1288.0 656.2h0M1291.1 658.6h0M1294.1 668.4h0M1297.2 662.5h0M1300.2 666.6h0M1303.3 646.7h0M1306.3 655.9h0M1309.4 645.7h0M1312.5 669.8h0M1315.5 641.7h0M1318.6 662.5h0M1321.6 653.9h0M1324.7 642.0h0M1327.7 655.8h0M1330.8 646.2h0M1333.8 656.9h0M1336.9 643.1h0M1339.9 651.4h0M1343.0 636.6h0M1346.1 648.5h0M1349.1 646.3h0M1352.2 657.0h0M1355.2 656.4h0M1358.3 651.4h0M1361.3 638.3h0M1364.4 628.7h0M1367.4 617.6h0M1370.5 634.8h0M1373.5 638.6h0M1376.6 638.1h0M1379.7 623.3h0M1382.7 627.4h0M1385.8 624.3h0M1388.8 605.6h0M1391.9 624.7h0M1394.9 628.5h0M1398.0 620.6h0M1401.0 629.2h0M1404.1 605.0h0M1407.1 613.9h0M1410.2 613.8h0M1413.3 599.2h0M1416.3 604.4h0M1419.4 607.0h0M1422.4 607.2h0M1425.5 586.6h0M1428.5 588.7h0M1431.6 581.1h0M1434.6 584.9h0M1437.7 573.6h0M1440.7 593.2h0M1443.8 585.5h0M832.9 763.0h0M836.0 760.6h0M839.0 780.5h0M842.1 769.1h0M845.1 775.1h0M848.2 772.1h0M851.2 766.0h0M854.3 761.6h0M857.3 750.9h0M860.4 768.6h0M863.4 763.9h0M866.5 780.7h0M869.6 759.7h0M872.6 761.7h0M875.7 768.0h0M878.7 764.7h0M881.8 785.5h0M884.8 759.1h0M887.9 765.0h0M890.9 766.5h0M894.0 759.7h0M897.0 767.9h0M900.1 764.3h0M903.2 764.7h0M906.2 748.4h0M909.3 771.1h0M912.3 748.6h0M915.4 739.7h0M918.4 756.7h0M921.5 754.5h0M924.5 744.8h0M927.6 764.3h0M930.6 762.4h0M933.7 762.0h0M936.8 749.2h0M939.8 744.2h0M942.9 741.7h0M945.9 750.5h0M949.0 757.5h0M952.0 754.4h0M955.1 742.8h0M958.1 760.7h0M961.2 757.9h0M964.2 759.9h0M967.3 751.4h0M970.4 756.5h0M973.4 741.4h0M976.5 731.6h0M979.5 755.1h0M982.6 736.8h0M985.6 740.1h0M988.7 742.4h0M991.7 742.8h0M994.8 759.5h0M997.8 749.6h0M1000.9 758.5h0M1004.0 740.0h0M1007.0 748.6h0M1010.1 740.4h0M1013.1 759.2h0M1016.2 740.6h0M1019.2 739.8h0M1022.3 745.2h0M1025.3 729.4h0M1028.4 733.7h0M1031.4 737.6h0M1034.5 732.9h0M1037.6 736.1h0M1040.6 725.8h0M1043.7 749.4h0M1046.7 746.6h0M1049.8 738.4h0M1052.8 723.1h0M1055.9 726.0h0M1058.9 717.6h0M1062.0 717.3h0M1065.0 746.1h0M1068.1 733.9h0M1071.2 738.9h0M1074.2 737.6h0M1077.3 734.3h0M1080.3 735.4h0M1083.4 734.6h0M1086.4 732.5h0M1089.5 741.9h0M1092.5 725.6h0M1095.6 737.5h0M1098.6 730.3h0M1101.7 731.6h0M1104.8 741.8h0M1107.8 734.6h0M1110.9 720.6h0M1113.9 709.1h0M1117.0 730.5h0M1120.0 725.9h0M1123.1 727.9h0M1126.1 741.9h0M1129.2 726.4h0M1132.2 726.2h0M1135.3 708.0h0M1138.3 718.3h0M1141.4 721.8h0M1144.5 727.1h0M1147.5 726.6h0M1150.6 721.5h0M1153.6 726.0h0M1156.7 718.3h0M1159.7 710.6h0M1162.8 740.5h0M1165.8 718.9h0M1168.9 702.1h0M1171.9 740.6h0M1175.0 708.4h0M1178.1 700.4h0M1181.1 706.3h0M1184.2 723.0h0M1187.2 712.5h0M1190.3 716.1h0M1193.3 724.8h0M1196.4 716.5h0M1199.4 708.8h0M1202.5 708.7h0M1205.5 711.3h0M1208.6 717.0h0M1211.7 719.7h0M1214.7 695.4h0M1217.8 733.2h0M1220.8 720.9h0M1223.9 732.6h0M1226.9 723.3h0M1230.0 716.9h0M1233.0 716.9h0M1236.1 702.7h0M1239.1 708.3h0M1242.2 707.4h0M1245.3 703.3h0M1248.3 686.2h0M1251.4 709.7h0M1254.4 709.5h0M1257.5 700.7h0M1260.5 708.5h0M1263.6 715.2h0M1266.6 703.3h0M1269.7 677.3h0M1272.7 690.8h0M1275.8 698.2h0M1278.9 711.1h0M1281.9 677.6h0M1285.0 684.5h0M1288.0 690.1h0M1291.1 678.4h0M1294.1 690.3h0M1297.2 692.6h0M1300.2 682.7h0M1303.3 696.2h0M1306.3 686.8h0M1309.4 687.6h0M1312.5 689.2h0M1315.5 673.0h0M1318.6 701.3h0M1321.6 689.0h0M1324.7 679.6h0M1327.7 673.2h0M1330.8 665.6h0M1333.8 669.5h0M1336.9 662.7h0M1339.9 664.6h0M1343.0 672.9h0M1346.1 673.1h0M1349.1 675.3h0M1352.2 673.8h0M1355.2 674.0h0M1358.3 651.8h0M1361.3 665.7h0M1364.4 676.1h0M1367.4 672.5h0M1370.5 669.8h0M1373.5 650.8h0M1376.6 661.6h0M1379.7 670.7h0M1382.7 656.7h0M1385.8 661.2h0M1388.8 664.2h0M1391.9 637.8h0M1394.9 643.9h0M1398.0 638.3h0M1401.0 655.4h0M1404.1 646.8h0M1407.1 640.5h0M1410.2 651.0h0M1413.3 643.9h0M1416.3 632.6h0M1419.4 635.2h0M1422.4 620.8h0M1425.5 619.4h0M1428.5 627.1h0M1431.6 615.9h0M1434.6 609.5h0M1437.7 608.2h0M1440.7 599.6h0M1443.8 595.6h0M832.9 731.2h0M836.0 729.9h0M839.0 732.0h0M842.1 731.1h0M845.1 723.8h0M848.2 720.7h0M851.2 739.8h0M854.3 733.2h0M857.3 734.4h0M860.4 721.0h0M863.4 716.0h0M866.5 736.1h0M869.6 736.2h0M872.6 742.7h0M875.7 712.0h0M878.7 721.0h0M881.8 726.9h0M884.8 724.4h0M887.9 727.5h0M890.9 732.6h0M894.0 731.2h0M897.0 726.4h0M900.1 730.8h0M903.2 736.3h0M906.2 734.4h0M909.3 722.1h0M912.3 710.4h0M915.4 734.9h0M918.4 728.5h0M921.5 720.6h0M924.5 736.8h0M927.6 715.0h0M930.6 719.3h0M933.7 719.4h0M936.8 727.8h0M939.8 710.8h0M942.9 728.4h0M945.9 720.9h0M949.0 721.6h0M952.0 713.7h0M955.1 745.6h0M958.1 742.3h0M961.2 714.2h0M964.2 742.9h0M967.3 724.7h0M970.4 742.9h0M973.4 720.4h0M976.5 740.4h0M979.5 714.3h0M982.6 741.6h0M985.6 729.5h0M988.7 719.7h0M991.7 710.8h0M994.8 725.7h0M997.8 725.0h0M1000.9 742.0h0M1004.0 738.1h0M1007.0 723.8h0M1010.1 735.2h0M1013.1 745.6h0M1016.2 732.8h0M1019.2 726.1h0M1022.3 738.6h0M1025.3 716.3h0M1028.4 719.2h0M1031.4 736.4h0M1034.5 721.0h0M1037.6 745.1h0M1040.6 739.6h0M1043.7 719.3h0M1046.7 728.3h0M1049.8 734.1h0M1052.8 718.8h0M1055.9 718.6h0M1058.9 714.5h0M1062.0 715.4h0M1065.0 709.7h0M1068.1 715.8h0M1071.2 707.2h0M1074.2 695.8h0M1077.3 722.8h0M1080.3 710.9h0M1083.4 718.4h0M1086.4 703.9h0M1089.5 700.6h0M1092.5 706.3h0M1095.6 694.9h0M1098.6 704.7h0M1101.7 728.7h0M1104.8 710.1h0M1107.8 704.3h0M1110.9 702.8h0M1113.9 706.8h0M1117.0 688.0h0M1120.0 711.3h0M1123.1 691.7h0M1126.1 697.9h0M1129.2 703.4h0M1132.2 701.5h0M1135.3 690.6h0M1138.3 695.4h0M1141.4 719.1h0M1144.5 689.8h0M1147.5 724.4h0M1150.6 701.9h0M1153.6 700.8h0M1156.7 692.8h0M1159.7 703.8h0M1162.8 717.6h0M1165.8 703.2h0M1168.9 711.0h0M1171.9 698.6h0M1175.0 715.2h0M1178.1 702.8h0M1181.1 702.4h0M1184.2 677.8h0M1187.2 698.4h0M1190.3 691.1h0M1193.3 700.9h0M1196.4 686.9h0M1199.4 701.5h0M1202.5 693.2h0M1205.5 700.4h0M1208.6 693.6h0M1211.7 688.3h0M1214.7 697.0h0M1217.8 672.7h0M1220.8 694.9h0M1223.9 697.4h0M1226.9 698.6h0M1230.0 690.2h0M1233.0 681.6h0M1236.1 691.4h0M1239.1 692.2h0M1242.2 694.1h0M1245.3 679.7h0M1248.3 684.3h0M1251.4 685.0h0M1254.4 684.9h0M1257.5 686.2h0M1260.5 683.8h0M1263.6 685.8h0M1266.6 674.2h0M1269.7 678.6h0M1272.7 665.7h0M1275.8 667.3h0M1278.9 683.7h0M1281.9 651.8h0M1285.0 670.6h0M1288.0 658.3h0M1291.1 667.0h0M1294.1 663.7h0M1297.2 656.1h0M1300.2 667.7h0M1303.3 673.2h0M1306.3 668.4h0M1309.4 645.6h0M1312.5 659.7h0M1315.5 671.9h0M1318.6 656.9h0M1321.6 667.4h0M1324.7 670.8h0M1327.7 650.6h0M1330.8 648.6h0M1333.8 661.0h0M1336.9 667.3h0M1339.9 676.0h0M1343.0 650.2h0M1346.1 643.7h0M1349.1 662.9h0M1352.2 632.1h0M1355.2 668.1h0M1358.3 655.3h0M1361.3 631.5h0M1364.4 630.0h0M1367.4 658.3h0M1370.5 631.4h0M1373.5 625.1h0M1376.6 628.6h0M1379.7 632.4h0M1382.7 628.3h0M1385.8 644.2h0M1388.8 627.1h0M1391.9 627.7h0M1394.9 635.1h0M1398.0 635.1h0M1401.0 629.4h0M1404.1 623.1h0M1407.1 604.3h0M1410.2 610.5h0M1413.3 602.2h0M1416.3 591.2h0M1419.4 611.8h0M1422.4 596.1h0M1425.5 598.2h0M1428.5 597.1h0M1431.6 579.4h0M1434.6 583.8h0M1437.7 564.0h0M1440.7 581.5h0M1443.8 557.1h0M832.9 737.5h0M836.0 731.1h0M839.0 743.6h0M842.1 738.2h0M845.1 744.3h0M848.2 732.7h0M851.2 729.3h0M854.3 729.8h0M857.3 746.2h0M860.4 752.7h0M863.4 745.6h0M866.5 745.6h0M869.6 734.0h0M872.6 736.4h0M875.7 734.0h0M878.7 761.3h0M881.8 742.2h0M884.8 736.7h0M887.9 743.6h0M890.9 751.8h0M894.0 748.3h0M897.0 718.8h0M900.1 742.1h0M903.2 736.0h0M906.2 745.4h0M909.3 741.3h0M912.3 740.8h0M915.4 729.4h0M918.4 738.8h0M921.5 741.6h0M924.5 751.7h0M927.6 737.7h0M930.6 737.4h0M933.7 755.4h0M936.8 745.2h0M939.8 751.8h0M942.9 729.5h0M945.9 729.0h0M949.0 722.2h0M952.0 732.4h0M955.1 726.3h0M958.1 727.1h0M961.2 733.7h0M964.2 724.8h0M967.3 734.6h0M970.4 744.7h0M973.4 718.8h0M976.5 718.6h0M979.5 726.5h0M982.6 733.6h0M985.6 743.9h0M988.7 734.5h0M991.7 746.9h0M994.8 739.2h0M997.8 732.1h0M1000.9 747.2h0M1004.0 751.3h0M1007.0 740.7h0M1010.1 754.5h0M1013.1 740.8h0M1016.2 730.4h0M1019.2 743.4h0M1022.3 727.6h0M1025.3 722.1h0M1028.4 725.8h0M1031.4 732.2h0M1034.5 738.8h0M1037.6 722.7h0M1040.6 751.7h0M1043.7 736.2h0M1046.7 742.1h0M1049.8 741.7h0M1052.8 716.7h0M1055.9 728.6h0M1058.9 740.9h0M1062.0 751.3h0M1065.0 725.8h0M1068.1 735.0h0M1071.2 736.3h0M1074.2 740.1h0M1077.3 728.5h0M1080.3 726.6h0M1083.4 749.9h0M1086.4 733.3h0M1089.5 732.4h0M1092.5 740.4h0M1095.6 734.1h0M1098.6 709.9h0M1101.7 743.0h0M1104.8 728.4h0M1107.8 712.9h0M1110.9 712.5h0M1113.9 713.1h0M1117.0 721.3h0M1120.0 717.4h0M1123.1 697.4h0M1126.1 733.2h0M1129.2 735.7h0M1132.2 723.0h0M1135.3 714.6h0M1138.3 703.2h0M1141.4 720.4h0M1144.5 726.7h0M1147.5 720.4h0M1150.6 709.9h0M1153.6 713.0h0M1156.7 711.3h0M1159.7 699.8h0M1162.8 718.3h0M1165.8 719.1h0M1168.9 706.9h0M1171.9 701.3h0M1175.0 688.3h0M1178.1 703.8h0M1181.1 694.9h0M1184.2 683.7h0M1187.2 685.7h0M1190.3 705.3h0M1193.3 693.4h0M1196.4 717.6h0M1199.4 702.6h0M1202.5 692.7h0M1205.5 681.4h0M1208.6 693.0h0M1211.7 678.6h0M1214.7 686.9h0M1217.8 685.5h0M1220.8 681.1h0M1223.9 706.0h0M1226.9 677.4h0M1230.0 685.8h0M1233.0 679.0h0M1236.1 677.9h0M1239.1 687.8h0M1242.2 687.8h0M1245.3 681.4h0M1248.3 688.2h0M1251.4 680.1h0M1254.4 678.7h0M1257.5 685.0h0M1260.5 683.1h0M1263.6 684.3h0M1266.6 671.2h0M1269.7 680.3h0M1272.7 665.2h0M1275.8 681.9h0M1278.9 670.5h0M1281.9 672.0h0M1285.0 692.0h0M1288.0 674.8h0M1291.1 649.6h0M1294.1 666.6h0M1297.2 675.1h0M1300.2 667.0h0M1303.3 681.0h0M1306.3 675.6h0M1309.4 657.7h0M1312.5 660.1h0M1315.5 669.3h0M1318.6 668.5h0M1321.6 669.2h0M1324.7 659.6h0M1327.7 654.0h0M1330.8 667.6h0M1333.8 670.5h0M1336.9 675.7h0M1339.9 675.1h0M1343.0 647.9h0M1346.1 661.1h0M1349.1 674.9h0M1352.2 641.8h0M1355.2 642.5h0M1358.3 653.3h0M1361.3 632.7h0M1364.4 639.7h0M1367.4 659.2h0M1370.5 646.1h0M1373.5 642.7h0M1376.6 636.1h0M1379.7 646.7h0M1382.7 656.0h0M1385.8 635.9h0M1388.8 621.6h0M1391.9 651.2h0M1394.9 634.7h0M1398.0 645.2h0M1401.0 631.0h0M1404.1 623.5h0M1407.1 629.9h0M1410.2 613.1h0M1413.3 628.5h0M1416.3 614.4h0M1419.4 600.7h0M1422.4 601.5h0M1425.5 583.9h0M1428.5 607.2h0M1431.6 585.7h0M1434.6 594.8h0M1437.7 601.4h0M1440.7 585.4h0M1443.8 572.5h0M832.9 748.2h0M836.0 759.4h0M839.0 753.3h0M842.1 746.2h0M845.1 756.5h0M848.2 749.1h0M851.2 755.3h0M854.3 759.4h0M857.3 756.5h0M860.4 753.3h0M863.4 744.0h0M866.5 750.9h0M869.6 762.3h0M872.6 746.2h0M875.7 751.2h0M878.7 775.5h0M881.8 739.6h0M884.8 739.2h0M887.9 738.9h0M890.9 737.4h0M894.0 761.2h0M897.0 751.1h0M900.1 735.3h0M903.2 749.8h0M906.2 758.1h0M909.3 761.9h0M912.3 752.3h0M915.4 758.5h0M918.4 755.9h0M921.5 757.5h0M924.5 740.1h0M927.6 756.5h0M930.6 736.8h0M933.7 749.6h0M936.8 733.7h0M939.8 753.1h0M942.9 750.2h0M945.9 728.0h0M949.0 751.2h0M952.0 737.3h0M955.1 721.6h0M958.1 744.3h0M961.2 731.4h0M964.2 744.0h0M967.3 742.3h0M970.4 742.5h0M973.4 730.7h0M976.5 733.7h0M979.5 739.6h0M982.6 742.6h0M985.6 735.6h0M988.7 732.4h0M991.7 736.7h0M994.8 741.6h0M997.8 728.7h0M1000.9 716.8h0M1004.0 719.3h0M1007.0 714.5h0M1010.1 736.7h0M1013.1 744.1h0M1016.2 732.8h0M1019.2 733.4h0M1022.3 731.7h0M1025.3 723.6h0M1028.4 730.7h0M1031.4 728.0h0M1034.5 723.4h0M1037.6 736.6h0M1040.6 727.3h0M1043.7 726.5h0M1046.7 738.6h0M1049.8 734.1h0M1052.8 717.4h0M1055.9 736.6h0M1058.9 736.1h0M1062.0 735.4h0M1065.0 731.8h0M1068.1 732.3h0M1071.2 719.9h0M1074.2 717.5h0M1077.3 724.8h0M1080.3 721.8h0M1083.4 716.5h0M1086.4 728.6h0M1089.5 728.1h0M1092.5 711.9h0M1095.6 709.9h0M1098.6 734.4h0M1101.7 711.4h0M1104.8 719.4h0M1107.8 708.1h0M1110.9 719.5h0M1113.9 733.8h0M1117.0 732.5h0M1120.0 718.2h0M1123.1 707.8h0M1126.1 726.3h0M1129.2 730.1h0M1132.2 711.9h0M1135.3 713.5h0M1138.3 691.1h0M1141.4 719.3h0M1144.5 715.9h0M1147.5 721.1h0M1150.6 718.5h0M1153.6 714.4h0M1156.7 704.1h0M1159.7 709.2h0M1162.8 708.1h0M1165.8 726.9h0M1168.9 721.3h0M1171.9 708.0h0M1175.0 710.7h0M1178.1 716.4h0M1181.1 712.1h0M1184.2 702.2h0M1187.2 699.6h0M1190.3 692.3h0M1193.3 707.2h0M1196.4 689.0h0M1199.4 708.2h0M1202.5 704.2h0M1205.5 697.7h0M1208.6 714.4h0M1211.7 705.6h0M1214.7 710.9h0M1217.8 688.3h0M1220.8 696.0h0M1223.9 717.6h0M1226.9 698.6h0M1230.0 690.4h0M1233.0 678.9h0M1236.1 694.4h0M1239.1 715.1h0M1242.2 690.6h0M1245.3 675.3h0M1248.3 684.9h0M1251.4 696.5h0M1254.4 690.1h0M1257.5 687.8h0M1260.5 664.0h0M1263.6 681.3h0M1266.6 693.6h0M1269.7 687.1h0M1272.7 664.1h0M1275.8 699.0h0M1278.9 696.9h0M1281.9 683.0h0M1285.0 673.5h0M1288.0 687.3h0M1291.1 656.7h0M1294.1 674.4h0M1297.2 678.3h0M1300.2 669.5h0M1303.3 683.6h0M1306.3 668.1h0M1309.4 645.5h0M1312.5 676.0h0M1315.5 664.8h0M1318.6 666.0h0M1321.6 668.9h0M1324.7 649.2h0M1327.7 640.7h0M1330.8 676.7h0M1333.8 661.1h0M1336.9 667.9h0M1339.9 663.6h0M1343.0 651.3h0M1346.1 640.8h0M1349.1 658.3h0M1352.2 658.0h0M1355.2 668.9h0M1358.3 659.8h0M1361.3 642.0h0M1364.4 656.4h0M1367.4 662.3h0M1370.5 658.0h0M1373.5 663.7h0M1376.6 652.0h0M1379.7 634.3h0M1382.7 628.8h0M1385.8 623.6h0M1388.8 644.5h0M1391.9 646.3h0M1394.9 623.6h0M1398.0 651.3h0M1401.0 621.9h0M1404.1 621.4h0M1407.1 632.0h0M1410.2 629.1h0M1413.3 604.3h0M1416.3 617.1h0M1419.4 616.8h0M1422.4 595.0h0M1425.5 611.6h0M1428.5 618.3h0M1431.6 601.1h0M1434.6 591.8h0M1437.7 598.3h0M1440.7 587.3h0M1443.8 573.2h0M832.9 757.6h0M836.0 763.1h0M839.0 752.6h0M842.1 769.0h0M845.1 774.3h0M848.2 755.0h0M851.2 762.2h0M854.3 759.9h0M857.3 756.9h0M860.4 760.1h0M863.4 775.2h0M866.5 760.3h0M869.6 755.7h0M872.6 745.8h0M875.7 759.2h0M878.7 758.2h0M881.8 771.6h0M884.8 755.9h0M887.9 763.9h0M890.9 762.5h0M894.0 766.0h0M897.0 736.5h0M900.1 748.3h0M903.2 764.0h0M906.2 747.7h0M909.3 753.4h0M912.3 757.8h0M915.4 734.8h0M918.4 754.7h0M921.5 759.4h0M924.5 764.9h0M927.6 747.6h0M930.6 741.3h0M933.7 747.5h0M936.8 736.8h0M939.8 750.6h0M942.9 762.9h0M945.9 756.7h0M949.0 737.2h0M952.0 756.1h0M955.1 766.0h0M958.1 750.0h0M961.2 755.3h0M964.2 745.6h0M967.3 735.3h0M970.4 730.7h0M973.4 740.5h0M976.5 749.0h0M979.5 739.1h0M982.6 740.6h0M985.6 734.2h0M988.7 740.1h0M991.7 740.2h0M994.8 743.5h0M997.8 742.7h0M1000.9 732.0h0M1004.0 730.8h0M1007.0 744.8h0M1010.1 736.4h0M1013.1 718.4h0M1016.2 741.1h0M1019.2 746.3h0M1022.3 749.9h0M1025.3 741.7h0M1028.4 723.1h0M1031.4 751.3h0M1034.5 753.1h0M1037.6 732.5h0M1040.6 748.1h0M1043.7 726.7h0M1046.7 727.0h0M1049.8 733.3h0M1052.8 748.6h0M1055.9 746.8h0M1058.9 741.6h0M1062.0 734.1h0M1065.0 749.7h0M1068.1 739.4h0M1071.2 751.6h0M1074.2 743.9h0M1077.3 735.3h0M1080.3 737.4h0M1083.4 732.6h0M1086.4 745.9h0M1089.5 757.8h0M1092.5 732.3h0M1095.6 722.9h0M1098.6 757.8h0M1101.7 729.2h0M1104.8 737.1h0M1107.8 727.9h0M1110.9 737.1h0M1113.9 736.9h0M1117.0 734.0h0M1120.0 727.2h0M1123.1 729.6h0M1126.1 720.7h0M1129.2 742.4h0M1132.2 729.4h0M1135.3 728.1h0M1138.3 725.6h0M1141.4 717.2h0M1144.5 722.3h0M1147.5 708.4h0M1150.6 712.6h0M1153.6 722.1h0M1156.7 716.3h0M1159.7 722.3h0M1162.8 735.0h0M1165.8 726.3h0M1168.9 706.7h0M1171.9 712.7h0M1175.0 731.4h0M1178.1 714.3h0M1181.1 728.3h0M1184.2 729.4h0M1187.2 721.7h0M1190.3 707.1h0M1193.3 733.1h0M1196.4 716.7h0M1199.4 711.9h0M1202.5 745.1h0M1205.5 728.0h0M1208.6 717.5h0M1211.7 730.9h0M1214.7 703.4h0M1217.8 727.1h0M1220.8 702.4h0M1223.9 722.1h0M1226.9 721.1h0M1230.0 696.4h0M1233.0 710.6h0M1236.1 715.0h0M1239.1 718.0h0M1242.2 695.2h0M1245.3 697.0h0M1248.3 722.0h0M1251.4 706.5h0M1254.4 703.8h0M1257.5 698.8h0M1260.5 699.3h0M1263.6 705.3h0M1266.6 705.1h0M1269.7 704.4h0M1272.7 684.4h0M1275.8 690.8h0M1278.9 684.0h0M1281.9 686.1h0M1285.0 676.4h0M1288.0 676.1h0M1291.1 685.2h0M1294.1 689.3h0M1297.2 680.1h0M1300.2 683.0h0M1303.3 666.7h0M1306.3 679.8h0M1309.4 681.1h0M1312.5 680.7h0M1315.5 668.1h0M1318.6 687.7h0M1321.6 681.4h0M1324.7 677.6h0M1327.7 656.9h0M1330.8 681.3h0M1333.8 678.0h0M1336.9 683.8h0M1339.9 656.9h0M1343.0 665.6h0M1346.1 667.6h0M1349.1 659.5h0M1352.2 666.7h0M1355.2 669.7h0M1358.3 678.1h0M1361.3 661.2h0M1364.4 666.4h0M1367.4 644.4h0M1370.5 660.7h0M1373.5 661.6h0M1376.6 662.2h0M1379.7 645.4h0M1382.7 631.4h0M1385.8 638.6h0M1388.8 667.9h0M1391.9 641.4h0M1394.9 640.0h0M1398.0 620.5h0M1401.0 633.7h0M1404.1 648.7h0M1407.1 640.3h0M1410.2 641.3h0M1413.3 619.0h0M1416.3 615.3h0M1419.4 607.4h0M1422.4 608.2h0M1425.5 625.7h0M1428.5 618.5h0M1431.6 609.8h0M1434.6 606.8h0M1437.7 599.6h0M1440.7 575.4h0M1443.8 601.0h0M832.9 753.8h0M836.0 748.6h0M839.0 735.3h0M842.1 748.2h0M845.1 748.1h0M848.2 755.5h0M851.2 744.9h0M854.3 734.3h0M857.3 754.4h0M860.4 757.0h0M863.4 768.1h0M866.5 751.3h0M869.6 750.0h0M872.6 769.7h0M875.7 748.3h0M878.7 764.2h0M881.8 741.6h0M884.8 748.2h0M887.9 755.6h0M890.9 769.6h0M894.0 756.0h0M897.0 763.9h0M900.1 737.4h0M903.2 745.7h0M906.2 750.5h0M909.3 757.3h0M912.3 749.9h0M915.4 756.8h0M918.4 729.9h0M921.5 745.3h0M924.5 761.0h0M927.6 761.1h0M930.6 734.0h0M933.7 745.8h0M936.8 747.3h0M939.8 764.4h0M942.9 739.3h0M945.9 760.6h0M949.0 741.6h0M952.0 743.3h0M955.1 739.2h0M958.1 742.8h0M961.2 744.0h0M964.2 765.9h0M967.3 748.4h0M970.4 729.1h0M973.4 741.0h0M976.5 734.3h0M979.5 742.8h0M982.6 747.9h0M985.6 741.4h0M988.7 756.8h0M991.7 740.1h0M994.8 754.0h0M997.8 731.7h0M1000.9 749.0h0M1004.0 743.5h0M1007.0 745.4h0M1010.1 753.5h0M1013.1 742.7h0M1016.2 734.7h0M1019.2 733.6h0M1022.3 742.6h0M1025.3 752.5h0M1028.4 730.2h0M1031.4 711.3h0M1034.5 719.0h0M1037.6 737.1h0M1040.6 732.1h0M1043.7 725.4h0M1046.7 733.4h0M1049.8 721.8h0M1052.8 720.5h0M1055.9 731.1h0M1058.9 728.2h0M1062.0 708.8h0M1065.0 735.4h0M1068.1 731.0h0M1071.2 739.1h0M1074.2 722.4h0M1077.3 734.2h0M1080.3 737.4h0M1083.4 724.7h0M1086.4 730.0h0M1089.5 735.2h0M1092.5 716.0h0M1095.6 715.6h0M1098.6 729.9h0M1101.7 733.2h0M1104.8 719.7h0M1107.8 710.7h0M1110.9 731.6h0M1113.9 729.5h0M1117.0 734.7h0M1120.0 734.9h0M1123.1 736.9h0M1126.1 729.2h0M1129.2 737.2h0M1132.2 725.8h0M1135.3 736.8h0M1138.3 724.0h0M1141.4 730.5h0M1144.5 731.6h0M1147.5 734.7h0M1150.6 718.0h0M1153.6 699.8h0M1156.7 700.2h0M1159.7 710.6h0M1162.8 716.8h0M1165.8 727.1h0M1168.9 702.2h0M1171.9 725.7h0M1175.0 696.5h0M1178.1 706.4h0M1181.1 709.7h0M1184.2 707.5h0M1187.2 702.6h0M1190.3 732.1h0M1193.3 714.9h0M1196.4 693.4h0M1199.4 709.5h0M1202.5 707.1h0M1205.5 719.8h0M1208.6 705.2h0M1211.7 698.4h0M1214.7 712.6h0M1217.8 717.6h0M1220.8 708.5h0M1223.9 711.1h0M1226.9 701.5h0M1230.0 709.2h0M1233.0 693.9h0M1236.1 677.7h0M1239.1 681.4h0M1242.2 691.3h0M1245.3 694.5h0M1248.3 693.1h0M1251.4 696.5h0M1254.4 680.1h0M1257.5 693.6h0M1260.5 706.1h0M1263.6 669.1h0M1266.6 691.7h0M1269.7 697.3h0M1272.7 684.6h0M1275.8 681.6h0M1278.9 673.4h0M1281.9 683.2h0M1285.0 670.2h0M1288.0 672.6h0M1291.1 671.8h0M1294.1 670.0h0M1297.2 667.9h0M1300.2 666.8h0M1303.3 683.2h0M1306.3 680.4h0M1309.4 677.3h0M1312.5 659.1h0M1315.5 664.1h0M1318.6 672.2h0M1321.6 657.0h0M1324.7 644.4h0M1327.7 656.9h0M1330.8 665.1h0M1333.8 638.7h0M1336.9 665.7h0M1339.9 649.3h0M1343.0 643.7h0M1346.1 646.6h0M1349.1 653.8h0M1352.2 655.2h0M1355.2 650.8h0M1358.3 650.6h0M1361.3 647.3h0M1364.4 649.5h0M1367.4 627.4h0M1370.5 665.3h0M1373.5 621.9h0M1376.6 648.1h0M1379.7 639.2h0M1382.7 626.1h0M1385.8 647.8h0M1388.8 622.9h0M1391.9 636.8h0M1394.9 637.2h0M1398.0 632.3h0M1401.0 613.0h0M1404.1 627.7h0M1407.1 610.2h0M1410.2 626.1h0M1413.3 614.9h0M1416.3 604.1h0M1419.4 593.6h0M1422.4 611.4h0M1425.5 600.5h0M1428.5 595.1h0M1431.6 601.4h0M1434.6 608.4h0M1437.7 576.3h0M1440.7 568.1h0M1443.8 595.1h0M832.9 778.5h0M836.0 779.6h0M839.0 773.1h0M842.1 777.3h0M845.1 767.7h0M848.2 787.1h0M851.2 779.7h0M854.3 768.8h0M857.3 777.3h0M860.4 770.9h0M863.4 782.0h0M866.5 761.4h0M869.6 777.1h0M872.6 772.4h0M875.7 784.2h0M878.7 779.1h0M881.8 771.2h0M884.8 775.0h0M887.9 769.2h0M890.9 767.3h0M894.0 794.5h0M897.0 789.8h0M900.1 785.6h0M903.2 756.1h0M906.2 774.2h0M909.3 782.8h0M912.3 779.0h0M915.4 761.2h0M918.4 773.5h0M921.5 765.9h0M924.5 775.0h0M927.6 765.7h0M930.6 777.3h0M933.7 767.7h0M936.8 778.2h0M939.8 750.5h0M942.9 759.8h0M945.9 775.1h0M949.0 757.6h0M952.0 767.1h0M955.1 766.0h0M958.1 768.1h0M961.2 783.5h0M964.2 763.0h0M967.3 766.6h0M970.4 768.4h0M973.4 769.6h0M976.5 778.3h0M979.5 762.6h0M982.6 763.5h0M985.6 759.4h0M988.7 764.9h0M991.7 756.6h0M994.8 782.7h0M997.8 772.3h0M1000.9 754.5h0M1004.0 751.8h0M1007.0 750.7h0M1010.1 772.2h0M1013.1 746.2h0M1016.2 756.9h0M1019.2 765.4h0M1022.3 780.4h0M1025.3 763.1h0M1028.4 768.0h0M1031.4 768.3h0M1034.5 757.4h0M1037.6 760.7h0M1040.6 762.7h0M1043.7 764.5h0M1046.7 748.8h0M1049.8 753.5h0M1052.8 770.0h0M1055.9 749.4h0M1058.9 779.3h0M1062.0 778.5h0M1065.0 764.5h0M1068.1 734.5h0M1071.2 755.8h0M1074.2 737.1h0M1077.3 754.3h0M1080.3 745.9h0M1083.4 774.5h0M1086.4 748.0h0M1089.5 751.0h0M1092.5 743.7h0M1095.6 748.3h0M1098.6 763.5h0M1101.7 739.7h0M1104.8 744.2h0M1107.8 735.0h0M1110.9 758.6h0M1113.9 771.9h0M1117.0 762.9h0M1120.0 762.5h0M1123.1 760.4h0M1126.1 739.4h0M1129.2 760.4h0M1132.2 755.4h0M1135.3 729.3h0M1138.3 746.6h0M1141.4 746.7h0M1144.5 742.6h0M1147.5 726.1h0M1150.6 730.6h0M1153.6 734.4h0M1156.7 724.5h0M1159.7 724.0h0M1162.8 730.7h0M1165.8 739.8h0M1168.9 744.7h0M1171.9 738.0h0M1175.0 739.1h0M1178.1 751.9h0M1181.1 730.6h0M1184.2 722.6h0M1187.2 721.6h0M1190.3 719.3h0M1193.3 726.8h0M1196.4 731.7h0M1199.4 718.8h0M1202.5 742.3h0M1205.5 730.4h0M1208.6 726.4h0M1211.7 710.0h0M1214.7 716.4h0M1217.8 714.4h0M1220.8 711.1h0M1223.9 727.0h0M1226.9 708.2h0M1230.0 737.2h0M1233.0 716.1h0M1236.1 718.3h0M1239.1 720.4h0M1242.2 715.0h0M1245.3 714.8h0M1248.3 709.5h0M1251.4 728.4h0M1254.4 717.4h0M1257.5 715.8h0M1260.5 704.5h0M1263.6 709.1h0M1266.6 696.8h0M1269.7 716.8h0M1272.7 703.5h0M1275.8 688.4h0M1278.9 703.4h0M1281.9 712.4h0M1285.0 711.7h0M1288.0 701.8h0M1291.1 688.4h0M1294.1 686.2h0M1297.2 700.4h0M1300.2 688.2h0M1303.3 702.4h0M1306.3 700.3h0M1309.4 681.3h0M1312.5 695.4h0M1315.5 701.6h0M1318.6 696.1h0M1321.6 686.7h0M1324.7 688.4h0M1327.7 697.1h0M1330.8 694.9h0M1333.8 683.6h0M1336.9 663.1h0M1339.9 693.5h0M1343.0 661.4h0M1346.1 688.5h0M1349.1 681.8h0M1352.2 665.0h0M1355.2 672.8h0M1358.3 678.5h0M1361.3 671.2h0M1364.4 689.4h0M1367.4 683.5h0M1370.5 657.5h0M1373.5 673.2h0M1376.6 674.4h0M1379.7 666.8h0M1382.7 654.1h0M1385.8 640.2h0M1388.8 664.5h0M1391.9 656.7h0M1394.9 642.1h0M1398.0 647.6h0M1401.0 642.0h0M1404.1 660.8h0M1407.1 647.9h0M1410.2 646.5h0M1413.3 634.3h0M1416.3 633.6h0M1419.4 640.1h0M1422.4 628.0h0M1425.5 621.5h0M1428.5 635.0h0M1431.6 610.2h0M1434.6 622.9h0M1437.7 614.2h0M1440.7 604.3h0M1443.8 619.2h0M832.9 777.2h0M836.0 770.1h0M839.0 775.7h0M842.1 766.2h0M845.1 785.8h0M848.2 781.5h0M851.2 776.7h0M854.3 770.9h0M857.3 781.6h0M860.4 768.6h0M863.4 774.7h0M866.5 760.1h0M869.6 782.2h0M872.6 768.1h0M875.7 776.2h0M878.7 768.4h0M881.8 765.3h0M884.8 773.3h0M887.9 774.6h0M890.9 780.4h0M894.0 771.6h0M897.0 755.2h0M900.1 758.6h0M903.2 772.2h0M906.2 748.6h0M909.3 758.7h0M912.3 756.1h0M915.4 759.2h0M918.4 752.0h0M921.5 768.1h0M924.5 756.8h0M927.6 763.2h0M930.6 776.5h0M933.7 759.9h0M936.8 745.4h0M939.8 767.1h0M942.9 768.7h0M945.9 766.1h0M949.0 756.3h0M952.0 751.1h0M955.1 771.1h0M958.1 762.6h0M961.2 767.1h0M964.2 775.5h0M967.3 761.8h0M970.4 757.0h0M973.4 769.0h0M976.5 753.8h0M979.5 760.7h0M982.6 767.0h0M985.6 760.9h0M988.7 760.6h0M991.7 743.7h0M994.8 749.4h0M997.8 755.5h0M1000.9 769.5h0M1004.0 769.2h0M1007.0 763.5h0M1010.1 759.7h0M1013.1 757.2h0M1016.2 755.3h0M1019.2 764.1h0M1022.3 763.7h0M1025.3 742.4h0M1028.4 767.3h0M1031.4 766.6h0M1034.5 772.4h0M1037.6 775.6h0M1040.6 760.4h0M1043.7 779.3h0M1046.7 774.6h0M1049.8 762.1h0M1052.8 759.4h0M1055.9 757.4h0M1058.9 753.4h0M1062.0 752.4h0M1065.0 757.4h0M1068.1 777.7h0M1071.2 757.6h0M1074.2 760.6h0M1077.3 764.0h0M1080.3 759.1h0M1083.4 745.6h0M1086.4 751.9h0M1089.5 744.8h0M1092.5 757.3h0M1095.6 745.5h0M1098.6 756.7h0M1101.7 769.6h0M1104.8 739.9h0M1107.8 758.4h0M1110.9 764.2h0M1113.9 749.8h0M1117.0 759.1h0M1120.0 752.4h0M1123.1 750.0h0M1126.1 743.6h0M1129.2 755.0h0M1132.2 731.9h0M1135.3 738.7h0M1138.3 750.4h0M1141.4 745.6h0M1144.5 738.1h0M1147.5 734.5h0M1150.6 750.3h0M1153.6 752.3h0M1156.7 733.4h0M1159.7 737.7h0M1162.8 738.2h0M1165.8 744.7h0M1168.9 726.1h0M1171.9 729.3h0M1175.0 724.3h0M1178.1 720.2h0M1181.1 732.1h0M1184.2 735.4h0M1187.2 752.0h0M1190.3 725.1h0M1193.3 716.4h0M1196.4 724.1h0M1199.4 729.6h0M1202.5 720.4h0M1205.5 717.0h0M1208.6 712.3h0M1211.7 721.9h0M1214.7 728.1h0M1217.8 727.8h0M1220.8 722.2h0M1223.9 734.2h0M1226.9 726.4h0M1230.0 712.5h0M1233.0 706.2h0M1236.1 703.6h0M1239.1 726.4h0M1242.2 705.5h0M1245.3 705.7h0M1248.3 720.4h0M1251.4 707.5h0M1254.4 699.8h0M1257.5 710.6h0M1260.5 715.4h0M1263.6 704.8h0M1266.6 695.4h0M1269.7 711.9h0M1272.7 709.8h0M1275.8 720.5h0M1278.9 701.3h0M1281.9 700.1h0M1285.0 696.7h0M1288.0 707.4h0M1291.1 685.6h0M1294.1 694.6h0M1297.2 689.3h0M1300.2 682.2h0M1303.3 685.8h0M1306.3 691.2h0M1309.4 675.6h0M1312.5 696.5h0M1315.5 696.9h0M1318.6 690.1h0M1321.6 686.5h0M1324.7 687.4h0M1327.7 699.0h0M1330.8 701.8h0M1333.8 692.1h0M1336.9 687.1h0M1339.9 663.9h0M1343.0 670.7h0M1346.1 673.9h0M1349.1 685.0h0M1352.2 678.4h0M1355.2 691.4h0M1358.3 692.9h0M1361.3 685.8h0M1364.4 658.8h0M1367.4 683.8h0M1370.5 662.5h0M1373.5 675.3h0M1376.6 656.8h0M1379.7 666.3h0M1382.7 668.4h0M1385.8 661.3h0M1388.8 650.6h0M1391.9 647.3h0M1394.9 650.9h0M1398.0 637.5h0M1401.0 671.4h0M1404.1 657.1h0M1407.1 629.0h0M1410.2 650.9h0M1413.3 642.9h0M1416.3 640.8h0M1419.4 636.4h0M1422.4 636.5h0M1425.5 627.6h0M1428.5 617.9h0M1431.6 631.2h0M1434.6 608.9h0M1437.7 621.2h0M1440.7 595.1h0M1443.8 602.1h0M832.9 812.4h0M836.0 814.2h0M839.0 807.9h0M842.1 800.7h0M832.9 798.0h0M848.2 798.9h0M857.3 792.6h0M869.6 795.3h0M875.7 787.2h0M894.0 799.8h0M897.0 805.2h0M884.8 786.3h0M900.1 785.4h0M912.3 785.4h0M924.5 780.0h0M991.7 789.9h0M994.8 778.2h0M1016.2 773.7h0M1043.7 775.5h0M1306.3 729.6h0M1312.5 722.4h0M1315.5 717.9h0M1321.6 713.4h0M1327.7 717.0h0M1339.9 715.2h0M1300.2 733.2h0M1175.0 752.1h0M1120.0 755.7h0M1095.6 665.7h0M1098.6 672.9h0M1092.5 679.2h0M1010.1 678.3h0M985.6 693.6h0M1306.3 643.2h0M1257.5 683.7h0M1242.2 654.9h0M836.0 713.4h0M839.0 715.2h0M857.3 706.2h0" fill="none" stroke="#7896e8" stroke-width="10" stroke-linecap="round"/>
<path d="M832.9 753.0L836.0 746.7L839.0 746.7L842.1 740.1L845.1 745.6L848.2 738.3L851.2 733.7L854.3 731.6L857.3 716.0L860.4 714.8L863.4 709.6L866.5 703.0L869.6 708.9L872.6 712.9L875.7 705.6L878.7 708.4L881.8 707.6L884.8 702.0L887.9 697.9L890.9 697.4L894.0 700.5L897.0 690.6L900.1 690.2L903.2 696.7L906.2 684.7L909.3 689.0L912.3 684.0L915.4 684.9L918.4 683.3L921.5 681.0L924.5 680.0L927.6 676.1L930.6 675.7L933.7 678.0L936.8 672.5L939.8 669.8L942.9 671.5L945.9 668.0L949.0 672.4L952.0 663.8L955.1 666.9L958.1 666.1L961.2 667.6L964.2 659.9L967.3 662.9L970.4 656.8L973.4 663.2L976.5 658.4L979.5 660.8L982.6 659.0L985.6 656.6L988.7 654.8L991.7 656.3L994.8 657.9L997.8 652.0L1000.9 653.5L1004.0 644.3L1007.0 647.2L1010.1 644.9L1013.1 647.7L1016.2 646.5L1019.2 639.3L1022.3 646.4L1025.3 647.3L1028.4 650.6L1031.4 642.0L1034.5 640.4L1037.6 644.8L1040.6 641.5L1043.7 641.1L1046.7 647.1L1049.8 638.1L1052.8 641.9L1055.9 637.4L1058.9 637.4L1062.0 640.9L1065.0 632.7L1068.1 639.0L1071.2 641.1L1074.2 632.1L1077.3 636.5L1080.3 638.8L1083.4 641.0L1086.4 631.4L1089.5 635.7L1092.5 634.0L1095.6 631.2L1098.6 627.1L1101.7 638.5L1104.8 632.8L1107.8 630.5L1110.9 629.7L1113.9 630.2L1117.0 624.7L1120.0 628.2L1123.1 624.9L1126.1 624.0L1129.2 628.6L1132.2 621.1L1135.3 623.6L1138.3 622.4L1141.4 622.7L1144.5 627.7L1147.5 624.0L1150.6 616.9L1153.6 622.1L1156.7 624.2L1159.7 627.4L1162.8 621.1L1165.8 621.0L1168.9 622.3L1171.9 619.8L1175.0 623.9L1178.1 626.0L1181.1 622.2L1184.2 620.8L1187.2 615.1L1190.3 624.1L1193.3 619.1L1196.4 610.8L1199.4 614.1L1202.5 616.5L1205.5 617.3L1208.6 615.6L1211.7 613.7L1214.7 613.1L1217.8 615.3L1220.8 619.7L1223.9 619.9L1226.9 618.6L1230.0 611.6L1233.0 615.0L1236.1 611.4L1239.1 614.7L1242.2 609.0L1245.3 610.7L1248.3 612.9L1251.4 614.0L1254.4 605.8L1257.5 614.1L1260.5 604.7L1263.6 609.9L1266.6 606.4L1269.7 607.5L1272.7 608.0L1275.8 608.0L1278.9 604.5L1281.9 605.8L1285.0 604.5L1288.0 602.9L1291.1 602.3L1294.1 601.4L1297.2 604.3L1300.2 607.1L1303.3 604.3L1306.3 598.0L1309.4 604.8L1312.5 599.9L1315.5 597.8L1318.6 599.8L1321.6 597.4L1324.7 594.0L1327.7 595.2L1330.8 592.0L1333.8 595.5L1336.9 597.7L1339.9 596.7L1343.0 599.9L1346.1 598.6L1349.1 592.0L1352.2 592.9L1355.2 592.5L1358.3 591.6L1361.3 592.5L1364.4 594.4L1367.4 587.6L1370.5 592.5L1373.5 593.6L1376.6 592.7L1379.7 591.4L1382.7 589.4L1385.8 595.7L1388.8 593.7L1391.9 591.4L1394.9 595.7L1398.0 589.4L1401.0 594.8L1404.1 594.0L1407.1 597.6L1410.2 591.1L1413.3 591.9L1416.3 594.0L1419.4 596.5L1422.4 593.3L1425.5 594.1L1428.5 596.0L1431.6 592.0L1434.6 597.0L1437.7 599.9L1440.7 587.1L1443.8 591.0" fill="none" stroke="#62b0e9" stroke-width="3" stroke-linejoin="round"/>
<path d="M832.9 761.2L836.0 758.2L839.0 753.8L842.1 757.7L845.1 753.9L848.2 763.5L851.2 755.7L854.3 755.3L857.3 759.2L860.4 750.4L863.4 750.5L866.5 756.0L869.6 758.0L872.6 757.7L875.7 748.1L878.7 754.6L881.8 756.2L884.8 758.0L887.9 744.7L890.9 745.3L894.0 751.4L897.0 749.7L900.1 745.2L903.2 747.3L906.2 753.6L909.3 747.2L912.3 749.8L915.4 745.5L918.4 745.6L921.5 746.9L924.5 749.3L927.6 741.2L930.6 742.7L933.7 748.3L936.8 743.1L939.8 745.7L942.9 743.3L945.9 744.2L949.0 741.3L952.0 739.9L955.1 745.7L958.1 742.2L961.2 742.6L964.2 743.4L967.3 742.5L970.4 743.3L973.4 735.9L976.5 742.8L979.5 740.0L982.6 740.5L985.6 738.1L988.7 740.3L991.7 743.4L994.8 742.0L997.8 742.2L1000.9 737.6L1004.0 740.2L1007.0 738.4L1010.1 739.0L1013.1 741.9L1016.2 730.6L1019.2 736.8L1022.3 735.2L1025.3 740.4L1028.4 736.6L1031.4 738.4L1034.5 744.8L1037.6 736.1L1040.6 740.2L1043.7 739.3L1046.7 731.2L1049.8 735.9L1052.8 736.9L1055.9 736.0L1058.9 736.8L1062.0 737.2L1065.0 732.5L1068.1 732.5L1071.2 732.1L1074.2 742.2L1077.3 733.7L1080.3 730.0L1083.4 740.7L1086.4 728.6L1089.5 730.4L1092.5 731.2L1095.6 729.1L1098.6 730.3L1101.7 724.9L1104.8 728.1L1107.8 723.9L1110.9 727.2L1113.9 735.3L1117.0 728.5L1120.0 726.3L1123.1 729.1L1126.1 727.8L1129.2 730.5L1132.2 719.0L1135.3 719.7L1138.3 720.1L1141.4 726.5L1144.5 726.4L1147.5 727.1L1150.6 711.6L1153.6 715.8L1156.7 714.4L1159.7 720.7L1162.8 715.5L1165.8 718.6L1168.9 720.8L1171.9 721.8L1175.0 719.6L1178.1 715.4L1181.1 711.0L1184.2 719.3L1187.2 715.9L1190.3 715.5L1193.3 720.3L1196.4 711.2L1199.4 705.4L1202.5 716.9L1205.5 715.4L1208.6 707.7L1211.7 717.7L1214.7 709.8L1217.8 708.9L1220.8 706.4L1223.9 711.1L1226.9 703.3L1230.0 701.9L1233.0 701.8L1236.1 705.7L1239.1 706.5L1242.2 702.1L1245.3 698.0L1248.3 704.3L1251.4 695.4L1254.4 695.3L1257.5 691.2L1260.5 694.7L1263.6 700.0L1266.6 694.5L1269.7 699.9L1272.7 686.4L1275.8 687.4L1278.9 681.7L1281.9 681.4L1285.0 688.3L1288.0 685.4L1291.1 678.1L1294.1 685.6L1297.2 680.3L1300.2 682.8L1303.3 676.6L1306.3 679.1L1309.4 674.6L1312.5 672.3L1315.5 675.2L1318.6 674.1L1321.6 675.2L1324.7 673.4L1327.7 672.1L1330.8 670.5L1333.8 672.9L1336.9 673.7L1339.9 664.5L1343.0 662.9L1346.1 669.9L1349.1 669.9L1352.2 662.5L1355.2 664.0L1358.3 657.7L1361.3 660.4L1364.4 663.1L1367.4 658.2L1370.5 657.0L1373.5 652.9L1376.6 650.1L1379.7 650.7L1382.7 653.3L1385.8 648.6L1388.8 644.9L1391.9 638.2L1394.9 640.9L1398.0 635.5L1401.0 635.1L1404.1 628.4L1407.1 632.2L1410.2 637.9L1413.3 617.7L1416.3 613.4L1419.4 616.9L1422.4 617.7L1425.5 612.1L1428.5 610.7L1431.6 610.6L1434.6 601.3L1437.7 596.7L1440.7 590.0L1443.8 600.0" fill="none" stroke="#6273e8" stroke-width="3" stroke-linejoin="round"/>
<text x="819.5" y="874.4" font-size="22" text-anchor="end" textLength="27.4" lengthAdjust="spacingAndGlyphs">20</text>
<text x="819.5" y="784.4" font-size="22" text-anchor="end" textLength="27.4" lengthAdjust="spacingAndGlyphs">30</text>
<text x="819.5" y="694.4" font-size="22" text-anchor="end" textLength="27.4" lengthAdjust="spacingAndGlyphs">40</text>
<text x="819.5" y="604.4" font-size="22" text-anchor="end" textLength="27.4" lengthAdjust="spacingAndGlyphs">50</text>
<text x="819.5" y="514.4" font-size="22" text-anchor="end" textLength="27.4" lengthAdjust="spacingAndGlyphs">60</text>
<text x="832.9" y="893.0" font-size="22" text-anchor="middle" textLength="12.5" lengthAdjust="spacingAndGlyphs">0</text>
<text x="985.6" y="893.0" font-size="22" text-anchor="middle" textLength="27.4" lengthAdjust="spacingAndGlyphs">50</text>
<text x="1138.3" y="893.0" font-size="22" text-anchor="middle" textLength="39.0" lengthAdjust="spacingAndGlyphs">100</text>
<text x="1291.1" y="893.0" font-size="22" text-anchor="middle" textLength="39.0" lengthAdjust="spacingAndGlyphs">150</text>
<text x="1443.8" y="893.0" font-size="22" text-anchor="middle" textLength="41.5" lengthAdjust="spacingAndGlyphs">200</text>
<text x="1138.8" y="933.8" font-size="26" text-anchor="middle" textLength="226.0" lengthAdjust="spacingAndGlyphs">Number of pulses</text>
<text x="765.0" y="685.0" font-size="26" text-anchor="middle" textLength="234.0" lengthAdjust="spacingAndGlyphs" transform="rotate(-90 765 685)">Conductance (µS)</text>
<text x="854.2" y="544.8" font-size="26" textLength="120.0" lengthAdjust="spacingAndGlyphs">10 cycles</text>
<text x="1052.9" y="649.2" font-size="26" textLength="148.8" lengthAdjust="spacingAndGlyphs" transform="rotate(-7 1052.9 649.2)">Potentiation</text>
<text x="1065.3" y="743.8" font-size="26" textLength="137.0" lengthAdjust="spacingAndGlyphs" transform="rotate(-9.2 1065.3 743.8)">Depression</text>
<circle cx="1285.6" cy="792" r="5" fill="#a5cdf8"/>
<line x1="1273.0" y1="827.0" x2="1298.0" y2="827.0" stroke="#62b0e9" stroke-width="3.2"/>
<text x="1308.7" y="797.5" font-size="24" textLength="17.9" lengthAdjust="spacingAndGlyphs" font-style="italic">G</text>
<text x="1329.0" y="806.8" font-size="17.5" textLength="37.3" lengthAdjust="spacingAndGlyphs">data</text>
<text x="1308.7" y="834.5" font-size="24" textLength="17.9" lengthAdjust="spacingAndGlyphs" font-style="italic">G</text>
<text x="1329.0" y="844.6" font-size="17.5" textLength="47.4" lengthAdjust="spacingAndGlyphs">mean</text>
</g>
<g id="panel-f">
<text transform="translate(1466 492.2) scale(1.13 1)" font-size="37" font-weight="bold" stroke="#000" stroke-width="1.5" stroke-linejoin="round">f</text>
<path d="M1558.9 673V673.0H1596.8V672.0H1634.8V668.9H1672.8V663.1H1710.7V650.7H1748.7V622.9H1786.6V573.4H1824.5V520.2H1862.5V514.8H1900.5V568.8H1938.4V619.9H1976.3V649.9H2014.3V664.5H2052.2V671.5H2090.2V672.6H2128.2V673.0H2166.1V673Z" fill="#c6e0fa"/>
<rect x="1558.7" y="507.5" width="607.3" height="165.5" fill="none" stroke="#1a1a1a" stroke-width="1.4"/>
<line x1="1672.8" y1="673.0" x2="1672.8" y2="662.0" stroke="#1a1a1a" stroke-width="1.3"/>
<line x1="1862.5" y1="673.0" x2="1862.5" y2="662.0" stroke="#1a1a1a" stroke-width="1.3"/>
<line x1="2052.2" y1="673.0" x2="2052.2" y2="662.0" stroke="#1a1a1a" stroke-width="1.3"/>
<line x1="1558.7" y1="609.3" x2="1567.7" y2="609.3" stroke="#1a1a1a" stroke-width="1.3"/>
<line x1="1558.7" y1="545.6" x2="1567.7" y2="545.6" stroke="#1a1a1a" stroke-width="1.3"/>
<text x="1543.8" y="680.4" font-size="22" text-anchor="end" textLength="12.5" lengthAdjust="spacingAndGlyphs">0</text>
<text x="1543.8" y="616.7" font-size="22" text-anchor="end" textLength="12.5" lengthAdjust="spacingAndGlyphs">5</text>
<text x="1543.8" y="553.0" font-size="22" text-anchor="end" textLength="24.0" lengthAdjust="spacingAndGlyphs">10</text>
<path d="M1558.9 865.2V864.7H1596.8V863.1H1634.8V860.0H1672.8V852.9H1710.7V838.0H1748.7V807.7H1786.6V764.1H1824.5V727.5H1862.5V722.1H1900.5V760.9H1938.4V804.5H1976.3V837.7H2014.3V854.5H2052.2V861.2H2090.2V864.4H2128.2V865.2H2166.1V865.2Z" fill="#afc0f1"/>
<rect x="1558.7" y="699.4" width="607.3" height="165.8" fill="none" stroke="#1a1a1a" stroke-width="1.4"/>
<line x1="1672.8" y1="865.2" x2="1672.8" y2="854.2" stroke="#1a1a1a" stroke-width="1.3"/>
<line x1="1862.5" y1="865.2" x2="1862.5" y2="854.2" stroke="#1a1a1a" stroke-width="1.3"/>
<line x1="2052.2" y1="865.2" x2="2052.2" y2="854.2" stroke="#1a1a1a" stroke-width="1.3"/>
<line x1="1558.7" y1="801.5" x2="1567.7" y2="801.5" stroke="#1a1a1a" stroke-width="1.3"/>
<line x1="1558.7" y1="737.8" x2="1567.7" y2="737.8" stroke="#1a1a1a" stroke-width="1.3"/>
<text x="1543.8" y="872.6" font-size="22" text-anchor="end" textLength="12.5" lengthAdjust="spacingAndGlyphs">0</text>
<text x="1543.8" y="808.9" font-size="22" text-anchor="end" textLength="12.5" lengthAdjust="spacingAndGlyphs">5</text>
<text x="1543.8" y="745.2" font-size="22" text-anchor="end" textLength="24.0" lengthAdjust="spacingAndGlyphs">10</text>
<text x="1672.0" y="894.7" font-size="22" text-anchor="middle" textLength="24.0" lengthAdjust="spacingAndGlyphs">−5</text>
<text x="1862.0" y="894.7" font-size="22" text-anchor="middle" textLength="12.5" lengthAdjust="spacingAndGlyphs">0</text>
<text x="2051.8" y="894.7" font-size="22" text-anchor="middle" textLength="12.5" lengthAdjust="spacingAndGlyphs">5</text>
<text x="1576.8" y="545.0" font-size="26" textLength="155.5" lengthAdjust="spacingAndGlyphs">Potentiation</text>
<text x="1577.4" y="736.9" font-size="26" textLength="142.0" lengthAdjust="spacingAndGlyphs">Depression</text>
<text x="2072.3" y="543.1" font-size="26" textLength="13.5" lengthAdjust="spacingAndGlyphs" font-style="italic">n</text>
<text x="2092.5" y="543.1" font-size="26" textLength="50.0" lengthAdjust="spacingAndGlyphs">= 27</text>
<text x="1501.0" y="684.0" font-size="26" textLength="158.0" lengthAdjust="spacingAndGlyphs" transform="rotate(-90 1501 684) translate(-88.5 0)">Counts (× 10</text>
<text x="1501.0" y="684.0" font-size="15" textLength="8.5" lengthAdjust="spacingAndGlyphs" transform="rotate(-90 1501 684) translate(70.5 -10)">3</text>
<text x="1501.0" y="684.0" font-size="26" textLength="8.0" lengthAdjust="spacingAndGlyphs" transform="rotate(-90 1501 684) translate(80.5 0)">)</text>
<text x="1755.6" y="930.0" font-size="25" textLength="19.0" lengthAdjust="spacingAndGlyphs" font-style="italic">G</text>
<text x="1776.0" y="940.0" font-size="17.5" textLength="37.5" lengthAdjust="spacingAndGlyphs">data</text>
<text x="1822.0" y="930.0" font-size="25" textLength="8.0" lengthAdjust="spacingAndGlyphs">-</text>
<text x="1839.0" y="930.0" font-size="25" textLength="19.0" lengthAdjust="spacingAndGlyphs" font-style="italic">G</text>
<text x="1859.5" y="940.0" font-size="17.5" textLength="48.0" lengthAdjust="spacingAndGlyphs">mean</text>
<text x="1916.0" y="930.0" font-size="25" textLength="49.5" lengthAdjust="spacingAndGlyphs">(µS)</text>
</g>
</svg>
</body></html>
